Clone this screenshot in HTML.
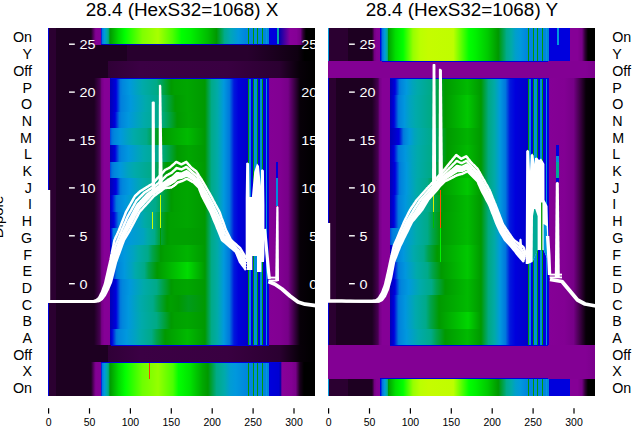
<!DOCTYPE html>
<html><head><meta charset="utf-8"><style>
html,body{margin:0;padding:0;background:#fff;width:640px;height:440px;overflow:hidden}
svg{display:block}
text{font-family:"Liberation Sans",sans-serif}
</style></head><body>
<svg width="640" height="440" viewBox="0 0 640 440" shape-rendering="crispEdges">
<defs><linearGradient id="L0" gradientUnits="userSpaceOnUse" x1="48.00" y1="0" x2="315.00" y2="0"><stop offset="0.0019" stop-color="#0000dd"/><stop offset="0.0056" stop-color="#2b0031"/><stop offset="0.0281" stop-color="#2b0031"/><stop offset="0.0318" stop-color="#1d0021"/><stop offset="0.1592" stop-color="#1d0021"/><stop offset="0.1629" stop-color="#28002e"/><stop offset="0.1742" stop-color="#6c007b"/><stop offset="0.1779" stop-color="#7d008e"/><stop offset="0.1816" stop-color="#830094"/><stop offset="0.1966" stop-color="#840095"/><stop offset="0.2004" stop-color="#0030dd"/><stop offset="0.2041" stop-color="#007edd"/><stop offset="0.2116" stop-color="#0099dd"/><stop offset="0.2191" stop-color="#00a8af"/><stop offset="0.2228" stop-color="#00aa99"/><stop offset="0.2266" stop-color="#00a87a"/><stop offset="0.2303" stop-color="#009e29"/><stop offset="0.2341" stop-color="#009d00"/><stop offset="0.2640" stop-color="#00d900"/><stop offset="0.2865" stop-color="#00fc00"/><stop offset="0.2903" stop-color="#04ff00"/><stop offset="0.3539" stop-color="#7fff00"/><stop offset="0.4101" stop-color="#a7ff00"/><stop offset="0.4139" stop-color="#a5ff00"/><stop offset="0.4663" stop-color="#4eff00"/><stop offset="0.5000" stop-color="#00ff00"/><stop offset="0.5337" stop-color="#00f000"/><stop offset="0.5974" stop-color="#00bd00"/><stop offset="0.6311" stop-color="#009900"/><stop offset="0.6536" stop-color="#00a664"/><stop offset="0.6610" stop-color="#00aa8b"/><stop offset="0.6835" stop-color="#00a6b7"/><stop offset="0.7135" stop-color="#0097dd"/><stop offset="0.7397" stop-color="#0086dd"/><stop offset="0.7472" stop-color="#0085dd"/><stop offset="0.7509" stop-color="#009900"/><stop offset="0.7547" stop-color="#0085dd"/><stop offset="0.7659" stop-color="#0085dd"/><stop offset="0.7697" stop-color="#009900"/><stop offset="0.7734" stop-color="#008bdd"/><stop offset="0.7809" stop-color="#008bdd"/><stop offset="0.7846" stop-color="#009900"/><stop offset="0.7884" stop-color="#0085dd"/><stop offset="0.7996" stop-color="#008bdd"/><stop offset="0.8034" stop-color="#009900"/><stop offset="0.8071" stop-color="#0085dd"/><stop offset="0.8146" stop-color="#0085dd"/><stop offset="0.8184" stop-color="#0099dd"/><stop offset="0.8221" stop-color="#0085dd"/><stop offset="0.8258" stop-color="#0085dd"/><stop offset="0.8296" stop-color="#0000dd"/><stop offset="0.8558" stop-color="#0000dd"/><stop offset="0.8596" stop-color="#00aaaa"/><stop offset="0.8633" stop-color="#00aaaa"/><stop offset="0.8670" stop-color="#0600a9"/><stop offset="0.9045" stop-color="#82009a"/><stop offset="0.9082" stop-color="#880099"/><stop offset="0.9307" stop-color="#850096"/><stop offset="0.9457" stop-color="#750086"/><stop offset="0.9532" stop-color="#3d0046"/><stop offset="0.9569" stop-color="#28002d"/><stop offset="0.9644" stop-color="#080009"/><stop offset="0.9682" stop-color="#000000"/><stop offset="0.9981" stop-color="#000000"/></linearGradient><linearGradient id="L1" gradientUnits="userSpaceOnUse" x1="48.00" y1="0" x2="315.00" y2="0"><stop offset="0.0019" stop-color="#0000dd"/><stop offset="0.0056" stop-color="#2b0031"/><stop offset="0.0281" stop-color="#2b0031"/><stop offset="0.0318" stop-color="#1d0021"/><stop offset="0.2940" stop-color="#1d0021"/><stop offset="0.2978" stop-color="#28002e"/><stop offset="0.7472" stop-color="#28002e"/><stop offset="0.9345" stop-color="#0f0011"/><stop offset="0.9607" stop-color="#000000"/><stop offset="0.9981" stop-color="#000000"/></linearGradient><linearGradient id="L2" gradientUnits="userSpaceOnUse" x1="48.00" y1="0" x2="315.00" y2="0"><stop offset="0.0019" stop-color="#0000dd"/><stop offset="0.0056" stop-color="#2b0031"/><stop offset="0.0281" stop-color="#2b0031"/><stop offset="0.0318" stop-color="#1d0021"/><stop offset="0.2228" stop-color="#1d0021"/><stop offset="0.2266" stop-color="#300037"/><stop offset="0.3464" stop-color="#3b0044"/><stop offset="0.6723" stop-color="#390041"/><stop offset="0.8670" stop-color="#2b0031"/><stop offset="0.9419" stop-color="#080009"/><stop offset="0.9981" stop-color="#000000"/></linearGradient><linearGradient id="L3" gradientUnits="userSpaceOnUse" x1="48.00" y1="0" x2="315.00" y2="0"><stop offset="0.0019" stop-color="#0000dd"/><stop offset="0.0056" stop-color="#2b0031"/><stop offset="0.0281" stop-color="#2b0031"/><stop offset="0.0318" stop-color="#1d0021"/><stop offset="0.1704" stop-color="#1d0021"/><stop offset="0.1742" stop-color="#200025"/><stop offset="0.1929" stop-color="#44004e"/><stop offset="0.1966" stop-color="#550061"/><stop offset="0.2004" stop-color="#710081"/><stop offset="0.2041" stop-color="#7a008b"/><stop offset="0.2116" stop-color="#850096"/><stop offset="0.2303" stop-color="#850096"/><stop offset="0.2341" stop-color="#0000b8"/><stop offset="0.2528" stop-color="#0000da"/><stop offset="0.2566" stop-color="#000edd"/><stop offset="0.2678" stop-color="#0061dd"/><stop offset="0.2715" stop-color="#0079dd"/><stop offset="0.2790" stop-color="#0086dd"/><stop offset="0.3052" stop-color="#0099dd"/><stop offset="0.3539" stop-color="#00aaaa"/><stop offset="0.4064" stop-color="#00aa87"/><stop offset="0.4588" stop-color="#009a05"/><stop offset="0.4625" stop-color="#009a00"/><stop offset="0.4738" stop-color="#00a000"/><stop offset="0.5225" stop-color="#00a600"/><stop offset="0.5861" stop-color="#009900"/><stop offset="0.5899" stop-color="#009a0b"/><stop offset="0.6124" stop-color="#00aa88"/><stop offset="0.6348" stop-color="#00aaa9"/><stop offset="0.6573" stop-color="#009adb"/><stop offset="0.6610" stop-color="#0095dd"/><stop offset="0.6798" stop-color="#0077dd"/><stop offset="0.6948" stop-color="#0022dd"/><stop offset="0.6985" stop-color="#0015dd"/><stop offset="0.7135" stop-color="#0000dc"/><stop offset="0.7472" stop-color="#0000c9"/><stop offset="0.7509" stop-color="#009900"/><stop offset="0.7547" stop-color="#0085dd"/><stop offset="0.7584" stop-color="#0085dd"/><stop offset="0.7622" stop-color="#0000dd"/><stop offset="0.7659" stop-color="#0000dd"/><stop offset="0.7697" stop-color="#009900"/><stop offset="0.7734" stop-color="#008bdd"/><stop offset="0.7809" stop-color="#008bdd"/><stop offset="0.7846" stop-color="#009900"/><stop offset="0.7884" stop-color="#0000dd"/><stop offset="0.7921" stop-color="#0000dd"/><stop offset="0.7959" stop-color="#008bdd"/><stop offset="0.7996" stop-color="#008bdd"/><stop offset="0.8034" stop-color="#009900"/><stop offset="0.8071" stop-color="#0000dd"/><stop offset="0.8146" stop-color="#0000dd"/><stop offset="0.8184" stop-color="#0099dd"/><stop offset="0.8221" stop-color="#0000dd"/><stop offset="0.8258" stop-color="#0000dd"/><stop offset="0.8296" stop-color="#840095"/><stop offset="0.8670" stop-color="#820093"/><stop offset="0.8970" stop-color="#780089"/><stop offset="0.9007" stop-color="#730084"/><stop offset="0.9419" stop-color="#0c000e"/><stop offset="0.9457" stop-color="#070008"/><stop offset="0.9981" stop-color="#000000"/></linearGradient><linearGradient id="L4" gradientUnits="userSpaceOnUse" x1="48.00" y1="0" x2="315.00" y2="0"><stop offset="0.0019" stop-color="#0000dd"/><stop offset="0.0056" stop-color="#2b0031"/><stop offset="0.0281" stop-color="#2b0031"/><stop offset="0.0318" stop-color="#1d0021"/><stop offset="0.1704" stop-color="#1d0021"/><stop offset="0.1742" stop-color="#200025"/><stop offset="0.1929" stop-color="#44004e"/><stop offset="0.1966" stop-color="#550061"/><stop offset="0.2004" stop-color="#710081"/><stop offset="0.2041" stop-color="#7a008b"/><stop offset="0.2116" stop-color="#850096"/><stop offset="0.2303" stop-color="#850096"/><stop offset="0.2341" stop-color="#0000b8"/><stop offset="0.2528" stop-color="#0000da"/><stop offset="0.2566" stop-color="#000edd"/><stop offset="0.2678" stop-color="#0061dd"/><stop offset="0.2715" stop-color="#0079dd"/><stop offset="0.2753" stop-color="#0081dd"/><stop offset="0.3090" stop-color="#0098dd"/><stop offset="0.3652" stop-color="#00aaab"/><stop offset="0.4213" stop-color="#00aa85"/><stop offset="0.4738" stop-color="#009a05"/><stop offset="0.4775" stop-color="#009a00"/><stop offset="0.5225" stop-color="#00a600"/><stop offset="0.5861" stop-color="#009900"/><stop offset="0.5899" stop-color="#009a0b"/><stop offset="0.6124" stop-color="#00aa88"/><stop offset="0.6348" stop-color="#00aaa9"/><stop offset="0.6573" stop-color="#009adb"/><stop offset="0.6610" stop-color="#0095dd"/><stop offset="0.6798" stop-color="#0077dd"/><stop offset="0.6948" stop-color="#0022dd"/><stop offset="0.6985" stop-color="#0015dd"/><stop offset="0.7135" stop-color="#0000dc"/><stop offset="0.7472" stop-color="#0000c9"/><stop offset="0.7509" stop-color="#009900"/><stop offset="0.7547" stop-color="#0085dd"/><stop offset="0.7584" stop-color="#0085dd"/><stop offset="0.7622" stop-color="#0000dd"/><stop offset="0.7659" stop-color="#0000dd"/><stop offset="0.7697" stop-color="#009900"/><stop offset="0.7734" stop-color="#008bdd"/><stop offset="0.7809" stop-color="#008bdd"/><stop offset="0.7846" stop-color="#009900"/><stop offset="0.7884" stop-color="#0000dd"/><stop offset="0.7921" stop-color="#0000dd"/><stop offset="0.7959" stop-color="#008bdd"/><stop offset="0.7996" stop-color="#008bdd"/><stop offset="0.8034" stop-color="#009900"/><stop offset="0.8071" stop-color="#0000dd"/><stop offset="0.8146" stop-color="#0000dd"/><stop offset="0.8184" stop-color="#0099dd"/><stop offset="0.8221" stop-color="#0000dd"/><stop offset="0.8258" stop-color="#0000dd"/><stop offset="0.8296" stop-color="#840095"/><stop offset="0.8670" stop-color="#820093"/><stop offset="0.8970" stop-color="#780089"/><stop offset="0.9007" stop-color="#730084"/><stop offset="0.9419" stop-color="#0c000e"/><stop offset="0.9457" stop-color="#070008"/><stop offset="0.9981" stop-color="#000000"/></linearGradient><linearGradient id="L5" gradientUnits="userSpaceOnUse" x1="48.00" y1="0" x2="315.00" y2="0"><stop offset="0.0019" stop-color="#0000dd"/><stop offset="0.0056" stop-color="#2b0031"/><stop offset="0.0281" stop-color="#2b0031"/><stop offset="0.0318" stop-color="#1d0021"/><stop offset="0.1704" stop-color="#1d0021"/><stop offset="0.1742" stop-color="#200025"/><stop offset="0.1929" stop-color="#44004e"/><stop offset="0.1966" stop-color="#550061"/><stop offset="0.2004" stop-color="#710081"/><stop offset="0.2041" stop-color="#7a008b"/><stop offset="0.2116" stop-color="#850096"/><stop offset="0.2303" stop-color="#850096"/><stop offset="0.2341" stop-color="#0000b8"/><stop offset="0.2491" stop-color="#0000d9"/><stop offset="0.2528" stop-color="#000edd"/><stop offset="0.2640" stop-color="#0061dd"/><stop offset="0.2678" stop-color="#0079dd"/><stop offset="0.2753" stop-color="#0086dd"/><stop offset="0.3015" stop-color="#0098dd"/><stop offset="0.3577" stop-color="#00aaab"/><stop offset="0.4251" stop-color="#00aa85"/><stop offset="0.4513" stop-color="#00a34d"/><stop offset="0.4813" stop-color="#009a05"/><stop offset="0.4850" stop-color="#009a00"/><stop offset="0.5262" stop-color="#00a600"/><stop offset="0.5861" stop-color="#009900"/><stop offset="0.5899" stop-color="#009a0b"/><stop offset="0.6124" stop-color="#00aa88"/><stop offset="0.6348" stop-color="#00aaa9"/><stop offset="0.6573" stop-color="#009adb"/><stop offset="0.6610" stop-color="#0095dd"/><stop offset="0.6798" stop-color="#0077dd"/><stop offset="0.6948" stop-color="#0022dd"/><stop offset="0.6985" stop-color="#0015dd"/><stop offset="0.7135" stop-color="#0000dc"/><stop offset="0.7472" stop-color="#0000c9"/><stop offset="0.7509" stop-color="#009900"/><stop offset="0.7547" stop-color="#0085dd"/><stop offset="0.7584" stop-color="#0085dd"/><stop offset="0.7622" stop-color="#0000dd"/><stop offset="0.7659" stop-color="#0000dd"/><stop offset="0.7697" stop-color="#009900"/><stop offset="0.7734" stop-color="#008bdd"/><stop offset="0.7809" stop-color="#008bdd"/><stop offset="0.7846" stop-color="#009900"/><stop offset="0.7884" stop-color="#0000dd"/><stop offset="0.7921" stop-color="#0000dd"/><stop offset="0.7959" stop-color="#008bdd"/><stop offset="0.7996" stop-color="#008bdd"/><stop offset="0.8034" stop-color="#009900"/><stop offset="0.8071" stop-color="#0000dd"/><stop offset="0.8146" stop-color="#0000dd"/><stop offset="0.8184" stop-color="#0099dd"/><stop offset="0.8221" stop-color="#0000dd"/><stop offset="0.8258" stop-color="#0000dd"/><stop offset="0.8296" stop-color="#840095"/><stop offset="0.8670" stop-color="#820093"/><stop offset="0.8970" stop-color="#780089"/><stop offset="0.9007" stop-color="#730084"/><stop offset="0.9419" stop-color="#0c000e"/><stop offset="0.9457" stop-color="#070008"/><stop offset="0.9981" stop-color="#000000"/></linearGradient><linearGradient id="L6" gradientUnits="userSpaceOnUse" x1="48.00" y1="0" x2="315.00" y2="0"><stop offset="0.0019" stop-color="#0000dd"/><stop offset="0.0056" stop-color="#2b0031"/><stop offset="0.0281" stop-color="#2b0031"/><stop offset="0.0318" stop-color="#1d0021"/><stop offset="0.1704" stop-color="#1d0021"/><stop offset="0.1742" stop-color="#200025"/><stop offset="0.1929" stop-color="#44004e"/><stop offset="0.1966" stop-color="#550061"/><stop offset="0.2004" stop-color="#710081"/><stop offset="0.2041" stop-color="#7a008b"/><stop offset="0.2116" stop-color="#850096"/><stop offset="0.2303" stop-color="#850096"/><stop offset="0.2341" stop-color="#0053dd"/><stop offset="0.2378" stop-color="#006bdd"/><stop offset="0.2416" stop-color="#007add"/><stop offset="0.2491" stop-color="#0086dd"/><stop offset="0.2715" stop-color="#0098dd"/><stop offset="0.3202" stop-color="#00aaaa"/><stop offset="0.3689" stop-color="#00aa88"/><stop offset="0.3914" stop-color="#00a34d"/><stop offset="0.4213" stop-color="#009a05"/><stop offset="0.4251" stop-color="#009a00"/><stop offset="0.5225" stop-color="#00ba00"/><stop offset="0.5861" stop-color="#009a00"/><stop offset="0.5899" stop-color="#009a0b"/><stop offset="0.6124" stop-color="#00aa88"/><stop offset="0.6348" stop-color="#00aaa9"/><stop offset="0.6573" stop-color="#009adb"/><stop offset="0.6610" stop-color="#0095dd"/><stop offset="0.6798" stop-color="#0077dd"/><stop offset="0.6948" stop-color="#0022dd"/><stop offset="0.6985" stop-color="#0015dd"/><stop offset="0.7135" stop-color="#0000dc"/><stop offset="0.7472" stop-color="#0000c9"/><stop offset="0.7509" stop-color="#009900"/><stop offset="0.7547" stop-color="#0085dd"/><stop offset="0.7584" stop-color="#0085dd"/><stop offset="0.7622" stop-color="#0000dd"/><stop offset="0.7659" stop-color="#0000dd"/><stop offset="0.7697" stop-color="#009900"/><stop offset="0.7734" stop-color="#008bdd"/><stop offset="0.7809" stop-color="#008bdd"/><stop offset="0.7846" stop-color="#009900"/><stop offset="0.7884" stop-color="#0000dd"/><stop offset="0.7921" stop-color="#0000dd"/><stop offset="0.7959" stop-color="#008bdd"/><stop offset="0.7996" stop-color="#008bdd"/><stop offset="0.8034" stop-color="#009900"/><stop offset="0.8071" stop-color="#0000dd"/><stop offset="0.8146" stop-color="#0000dd"/><stop offset="0.8184" stop-color="#0099dd"/><stop offset="0.8221" stop-color="#0000dd"/><stop offset="0.8258" stop-color="#0000dd"/><stop offset="0.8296" stop-color="#840095"/><stop offset="0.8670" stop-color="#820093"/><stop offset="0.8970" stop-color="#780089"/><stop offset="0.9007" stop-color="#730084"/><stop offset="0.9419" stop-color="#0c000e"/><stop offset="0.9457" stop-color="#070008"/><stop offset="0.9981" stop-color="#000000"/></linearGradient><linearGradient id="L7" gradientUnits="userSpaceOnUse" x1="48.00" y1="0" x2="315.00" y2="0"><stop offset="0.0019" stop-color="#0000dd"/><stop offset="0.0056" stop-color="#2b0031"/><stop offset="0.0281" stop-color="#2b0031"/><stop offset="0.0318" stop-color="#1d0021"/><stop offset="0.1704" stop-color="#1d0021"/><stop offset="0.1742" stop-color="#200025"/><stop offset="0.1929" stop-color="#44004e"/><stop offset="0.1966" stop-color="#550061"/><stop offset="0.2004" stop-color="#710081"/><stop offset="0.2041" stop-color="#7a008b"/><stop offset="0.2116" stop-color="#850096"/><stop offset="0.2303" stop-color="#850096"/><stop offset="0.2341" stop-color="#0000b8"/><stop offset="0.2491" stop-color="#0000d9"/><stop offset="0.2528" stop-color="#000edd"/><stop offset="0.2640" stop-color="#0061dd"/><stop offset="0.2678" stop-color="#0079dd"/><stop offset="0.2753" stop-color="#0086dd"/><stop offset="0.3015" stop-color="#0098dd"/><stop offset="0.3577" stop-color="#00aaab"/><stop offset="0.4251" stop-color="#00aa85"/><stop offset="0.4513" stop-color="#00a34d"/><stop offset="0.4813" stop-color="#009a05"/><stop offset="0.4850" stop-color="#009a00"/><stop offset="0.5262" stop-color="#00a600"/><stop offset="0.5861" stop-color="#009900"/><stop offset="0.5899" stop-color="#009a0b"/><stop offset="0.6124" stop-color="#00aa88"/><stop offset="0.6348" stop-color="#00aaa9"/><stop offset="0.6573" stop-color="#009adb"/><stop offset="0.6610" stop-color="#0095dd"/><stop offset="0.6798" stop-color="#0077dd"/><stop offset="0.6948" stop-color="#0022dd"/><stop offset="0.6985" stop-color="#0015dd"/><stop offset="0.7135" stop-color="#0000dc"/><stop offset="0.7472" stop-color="#0000c9"/><stop offset="0.7509" stop-color="#009900"/><stop offset="0.7547" stop-color="#0085dd"/><stop offset="0.7584" stop-color="#0085dd"/><stop offset="0.7622" stop-color="#0000dd"/><stop offset="0.7659" stop-color="#0000dd"/><stop offset="0.7697" stop-color="#009900"/><stop offset="0.7734" stop-color="#008bdd"/><stop offset="0.7809" stop-color="#008bdd"/><stop offset="0.7846" stop-color="#009900"/><stop offset="0.7884" stop-color="#0000dd"/><stop offset="0.7921" stop-color="#0000dd"/><stop offset="0.7959" stop-color="#008bdd"/><stop offset="0.7996" stop-color="#008bdd"/><stop offset="0.8034" stop-color="#009900"/><stop offset="0.8071" stop-color="#0000dd"/><stop offset="0.8146" stop-color="#0000dd"/><stop offset="0.8184" stop-color="#0099dd"/><stop offset="0.8221" stop-color="#0000dd"/><stop offset="0.8258" stop-color="#0000dd"/><stop offset="0.8296" stop-color="#840095"/><stop offset="0.8670" stop-color="#820093"/><stop offset="0.8970" stop-color="#780089"/><stop offset="0.9007" stop-color="#730084"/><stop offset="0.9419" stop-color="#0c000e"/><stop offset="0.9457" stop-color="#070008"/><stop offset="0.9981" stop-color="#000000"/></linearGradient><linearGradient id="L8" gradientUnits="userSpaceOnUse" x1="48.00" y1="0" x2="315.00" y2="0"><stop offset="0.0019" stop-color="#0000dd"/><stop offset="0.0056" stop-color="#2b0031"/><stop offset="0.0281" stop-color="#2b0031"/><stop offset="0.0318" stop-color="#1d0021"/><stop offset="0.1704" stop-color="#1d0021"/><stop offset="0.1742" stop-color="#200025"/><stop offset="0.1929" stop-color="#44004e"/><stop offset="0.1966" stop-color="#550061"/><stop offset="0.2004" stop-color="#710081"/><stop offset="0.2041" stop-color="#7a008b"/><stop offset="0.2116" stop-color="#850096"/><stop offset="0.2303" stop-color="#850096"/><stop offset="0.2341" stop-color="#0053dd"/><stop offset="0.2378" stop-color="#006bdd"/><stop offset="0.2416" stop-color="#007add"/><stop offset="0.2491" stop-color="#0086dd"/><stop offset="0.2715" stop-color="#0098dd"/><stop offset="0.3015" stop-color="#00a4bd"/><stop offset="0.3240" stop-color="#00aaab"/><stop offset="0.3876" stop-color="#00aa87"/><stop offset="0.4139" stop-color="#00a34d"/><stop offset="0.4438" stop-color="#009a05"/><stop offset="0.4476" stop-color="#009a00"/><stop offset="0.4588" stop-color="#00a000"/><stop offset="0.5225" stop-color="#00ad00"/><stop offset="0.5861" stop-color="#009a00"/><stop offset="0.5899" stop-color="#009a0b"/><stop offset="0.6124" stop-color="#00aa88"/><stop offset="0.6348" stop-color="#00aaa9"/><stop offset="0.6573" stop-color="#009adb"/><stop offset="0.6610" stop-color="#0095dd"/><stop offset="0.6798" stop-color="#0077dd"/><stop offset="0.6948" stop-color="#0022dd"/><stop offset="0.6985" stop-color="#0015dd"/><stop offset="0.7135" stop-color="#0000dc"/><stop offset="0.7472" stop-color="#0000c9"/><stop offset="0.7509" stop-color="#009900"/><stop offset="0.7547" stop-color="#0085dd"/><stop offset="0.7584" stop-color="#0085dd"/><stop offset="0.7622" stop-color="#0000dd"/><stop offset="0.7659" stop-color="#0000dd"/><stop offset="0.7697" stop-color="#009900"/><stop offset="0.7734" stop-color="#008bdd"/><stop offset="0.7809" stop-color="#008bdd"/><stop offset="0.7846" stop-color="#009900"/><stop offset="0.7884" stop-color="#0000dd"/><stop offset="0.7921" stop-color="#0000dd"/><stop offset="0.7959" stop-color="#008bdd"/><stop offset="0.7996" stop-color="#008bdd"/><stop offset="0.8034" stop-color="#009900"/><stop offset="0.8071" stop-color="#0000dd"/><stop offset="0.8146" stop-color="#0000dd"/><stop offset="0.8184" stop-color="#0099dd"/><stop offset="0.8221" stop-color="#0000dd"/><stop offset="0.8258" stop-color="#0000dd"/><stop offset="0.8296" stop-color="#840095"/><stop offset="0.8670" stop-color="#820093"/><stop offset="0.8970" stop-color="#780089"/><stop offset="0.9007" stop-color="#730084"/><stop offset="0.9419" stop-color="#0c000e"/><stop offset="0.9457" stop-color="#070008"/><stop offset="0.9981" stop-color="#000000"/></linearGradient><linearGradient id="L9" gradientUnits="userSpaceOnUse" x1="48.00" y1="0" x2="315.00" y2="0"><stop offset="0.0019" stop-color="#0000dd"/><stop offset="0.0056" stop-color="#2b0031"/><stop offset="0.0281" stop-color="#2b0031"/><stop offset="0.0318" stop-color="#1d0021"/><stop offset="0.1704" stop-color="#1d0021"/><stop offset="0.1742" stop-color="#200025"/><stop offset="0.1929" stop-color="#44004e"/><stop offset="0.1966" stop-color="#550061"/><stop offset="0.2004" stop-color="#710081"/><stop offset="0.2041" stop-color="#7a008b"/><stop offset="0.2116" stop-color="#850096"/><stop offset="0.2303" stop-color="#850096"/><stop offset="0.2341" stop-color="#0000b8"/><stop offset="0.2528" stop-color="#0000da"/><stop offset="0.2566" stop-color="#000edd"/><stop offset="0.2678" stop-color="#0061dd"/><stop offset="0.2715" stop-color="#0079dd"/><stop offset="0.2790" stop-color="#0086dd"/><stop offset="0.3052" stop-color="#0099dd"/><stop offset="0.3539" stop-color="#00aaaa"/><stop offset="0.4064" stop-color="#00aa87"/><stop offset="0.4588" stop-color="#009a05"/><stop offset="0.4625" stop-color="#009a00"/><stop offset="0.4738" stop-color="#00a000"/><stop offset="0.5225" stop-color="#00a600"/><stop offset="0.5861" stop-color="#009900"/><stop offset="0.5899" stop-color="#009a0b"/><stop offset="0.6124" stop-color="#00aa88"/><stop offset="0.6348" stop-color="#00aaa9"/><stop offset="0.6573" stop-color="#009adb"/><stop offset="0.6610" stop-color="#0095dd"/><stop offset="0.6798" stop-color="#0077dd"/><stop offset="0.6948" stop-color="#0022dd"/><stop offset="0.6985" stop-color="#0015dd"/><stop offset="0.7135" stop-color="#0000dc"/><stop offset="0.7472" stop-color="#0000c9"/><stop offset="0.7509" stop-color="#009900"/><stop offset="0.7547" stop-color="#0085dd"/><stop offset="0.7584" stop-color="#0085dd"/><stop offset="0.7622" stop-color="#0000dd"/><stop offset="0.7659" stop-color="#0000dd"/><stop offset="0.7697" stop-color="#009900"/><stop offset="0.7734" stop-color="#008bdd"/><stop offset="0.7809" stop-color="#008bdd"/><stop offset="0.7846" stop-color="#009900"/><stop offset="0.7884" stop-color="#0000dd"/><stop offset="0.7921" stop-color="#0000dd"/><stop offset="0.7959" stop-color="#008bdd"/><stop offset="0.7996" stop-color="#008bdd"/><stop offset="0.8034" stop-color="#009900"/><stop offset="0.8071" stop-color="#0000dd"/><stop offset="0.8146" stop-color="#0000dd"/><stop offset="0.8184" stop-color="#0099dd"/><stop offset="0.8221" stop-color="#0000dd"/><stop offset="0.8258" stop-color="#0000dd"/><stop offset="0.8296" stop-color="#840095"/><stop offset="0.8670" stop-color="#820093"/><stop offset="0.8970" stop-color="#780089"/><stop offset="0.9007" stop-color="#730084"/><stop offset="0.9419" stop-color="#0c000e"/><stop offset="0.9457" stop-color="#070008"/><stop offset="0.9981" stop-color="#000000"/></linearGradient><linearGradient id="L10" gradientUnits="userSpaceOnUse" x1="48.00" y1="0" x2="315.00" y2="0"><stop offset="0.0019" stop-color="#0000dd"/><stop offset="0.0056" stop-color="#2b0031"/><stop offset="0.0281" stop-color="#2b0031"/><stop offset="0.0318" stop-color="#1d0021"/><stop offset="0.1704" stop-color="#1d0021"/><stop offset="0.1742" stop-color="#200025"/><stop offset="0.1929" stop-color="#44004e"/><stop offset="0.1966" stop-color="#550061"/><stop offset="0.2004" stop-color="#710081"/><stop offset="0.2041" stop-color="#7a008b"/><stop offset="0.2116" stop-color="#850096"/><stop offset="0.2303" stop-color="#850096"/><stop offset="0.2341" stop-color="#0000be"/><stop offset="0.2378" stop-color="#0000d3"/><stop offset="0.2416" stop-color="#000edd"/><stop offset="0.2528" stop-color="#0061dd"/><stop offset="0.2566" stop-color="#0079dd"/><stop offset="0.2640" stop-color="#0086dd"/><stop offset="0.2903" stop-color="#0098dd"/><stop offset="0.3464" stop-color="#00aaa9"/><stop offset="0.4026" stop-color="#00aa89"/><stop offset="0.4588" stop-color="#009a05"/><stop offset="0.4625" stop-color="#009a00"/><stop offset="0.4738" stop-color="#00a000"/><stop offset="0.5225" stop-color="#00a600"/><stop offset="0.5861" stop-color="#009900"/><stop offset="0.5899" stop-color="#009a0b"/><stop offset="0.6124" stop-color="#00aa88"/><stop offset="0.6348" stop-color="#00aaa9"/><stop offset="0.6573" stop-color="#009adb"/><stop offset="0.6610" stop-color="#0095dd"/><stop offset="0.6798" stop-color="#0077dd"/><stop offset="0.6948" stop-color="#0022dd"/><stop offset="0.6985" stop-color="#0015dd"/><stop offset="0.7135" stop-color="#0000dc"/><stop offset="0.7472" stop-color="#0000c9"/><stop offset="0.7509" stop-color="#009900"/><stop offset="0.7547" stop-color="#0085dd"/><stop offset="0.7584" stop-color="#0085dd"/><stop offset="0.7622" stop-color="#0000dd"/><stop offset="0.7659" stop-color="#0000dd"/><stop offset="0.7697" stop-color="#009900"/><stop offset="0.7734" stop-color="#008bdd"/><stop offset="0.7809" stop-color="#008bdd"/><stop offset="0.7846" stop-color="#009900"/><stop offset="0.7884" stop-color="#0000dd"/><stop offset="0.7921" stop-color="#0000dd"/><stop offset="0.7959" stop-color="#008bdd"/><stop offset="0.7996" stop-color="#008bdd"/><stop offset="0.8034" stop-color="#009900"/><stop offset="0.8071" stop-color="#0000dd"/><stop offset="0.8146" stop-color="#0000dd"/><stop offset="0.8184" stop-color="#0099dd"/><stop offset="0.8221" stop-color="#0000dd"/><stop offset="0.8258" stop-color="#0000dd"/><stop offset="0.8296" stop-color="#840095"/><stop offset="0.8670" stop-color="#820093"/><stop offset="0.8970" stop-color="#780089"/><stop offset="0.9007" stop-color="#730084"/><stop offset="0.9419" stop-color="#0c000e"/><stop offset="0.9457" stop-color="#070008"/><stop offset="0.9981" stop-color="#000000"/></linearGradient><linearGradient id="L11" gradientUnits="userSpaceOnUse" x1="48.00" y1="0" x2="315.00" y2="0"><stop offset="0.0019" stop-color="#0000dd"/><stop offset="0.0056" stop-color="#2b0031"/><stop offset="0.0281" stop-color="#2b0031"/><stop offset="0.0318" stop-color="#1d0021"/><stop offset="0.1704" stop-color="#1d0021"/><stop offset="0.1742" stop-color="#200025"/><stop offset="0.1929" stop-color="#44004e"/><stop offset="0.1966" stop-color="#550061"/><stop offset="0.2004" stop-color="#710081"/><stop offset="0.2041" stop-color="#7a008b"/><stop offset="0.2116" stop-color="#850096"/><stop offset="0.2303" stop-color="#850096"/><stop offset="0.2341" stop-color="#0000b9"/><stop offset="0.2453" stop-color="#0000d8"/><stop offset="0.2491" stop-color="#000edd"/><stop offset="0.2603" stop-color="#0061dd"/><stop offset="0.2640" stop-color="#0079dd"/><stop offset="0.2715" stop-color="#0086dd"/><stop offset="0.3052" stop-color="#0098dd"/><stop offset="0.3427" stop-color="#00a3c0"/><stop offset="0.3614" stop-color="#00aaa8"/><stop offset="0.3951" stop-color="#00aa8a"/><stop offset="0.3989" stop-color="#00a981"/><stop offset="0.4139" stop-color="#00a34d"/><stop offset="0.4438" stop-color="#009a05"/><stop offset="0.4476" stop-color="#009a00"/><stop offset="0.4588" stop-color="#00a000"/><stop offset="0.5225" stop-color="#00a600"/><stop offset="0.5861" stop-color="#009900"/><stop offset="0.5899" stop-color="#009a0b"/><stop offset="0.6124" stop-color="#00aa88"/><stop offset="0.6348" stop-color="#00aaa9"/><stop offset="0.6573" stop-color="#009adb"/><stop offset="0.6610" stop-color="#0095dd"/><stop offset="0.6798" stop-color="#0077dd"/><stop offset="0.6948" stop-color="#0022dd"/><stop offset="0.6985" stop-color="#0015dd"/><stop offset="0.7135" stop-color="#0000dc"/><stop offset="0.7472" stop-color="#0000c9"/><stop offset="0.7509" stop-color="#009900"/><stop offset="0.7547" stop-color="#0085dd"/><stop offset="0.7584" stop-color="#0085dd"/><stop offset="0.7622" stop-color="#0000dd"/><stop offset="0.7659" stop-color="#0000dd"/><stop offset="0.7697" stop-color="#009900"/><stop offset="0.7734" stop-color="#008bdd"/><stop offset="0.7809" stop-color="#008bdd"/><stop offset="0.7846" stop-color="#009900"/><stop offset="0.7884" stop-color="#0000dd"/><stop offset="0.7921" stop-color="#0000dd"/><stop offset="0.7959" stop-color="#008bdd"/><stop offset="0.7996" stop-color="#008bdd"/><stop offset="0.8034" stop-color="#009900"/><stop offset="0.8071" stop-color="#0000dd"/><stop offset="0.8146" stop-color="#0000dd"/><stop offset="0.8184" stop-color="#0099dd"/><stop offset="0.8221" stop-color="#0000dd"/><stop offset="0.8258" stop-color="#0000dd"/><stop offset="0.8296" stop-color="#840095"/><stop offset="0.8670" stop-color="#820093"/><stop offset="0.8970" stop-color="#780089"/><stop offset="0.9007" stop-color="#730084"/><stop offset="0.9419" stop-color="#0c000e"/><stop offset="0.9457" stop-color="#070008"/><stop offset="0.9981" stop-color="#000000"/></linearGradient><linearGradient id="L12" gradientUnits="userSpaceOnUse" x1="48.00" y1="0" x2="315.00" y2="0"><stop offset="0.0019" stop-color="#0000dd"/><stop offset="0.0056" stop-color="#2b0031"/><stop offset="0.0281" stop-color="#2b0031"/><stop offset="0.0318" stop-color="#1d0021"/><stop offset="0.1704" stop-color="#1d0021"/><stop offset="0.1742" stop-color="#200025"/><stop offset="0.1929" stop-color="#44004e"/><stop offset="0.1966" stop-color="#550061"/><stop offset="0.2004" stop-color="#710081"/><stop offset="0.2041" stop-color="#7a008b"/><stop offset="0.2116" stop-color="#850096"/><stop offset="0.2303" stop-color="#850096"/><stop offset="0.2341" stop-color="#0000c9"/><stop offset="0.2378" stop-color="#001cdd"/><stop offset="0.2416" stop-color="#0053dd"/><stop offset="0.2453" stop-color="#007ddd"/><stop offset="0.2491" stop-color="#0085dd"/><stop offset="0.3015" stop-color="#0098dd"/><stop offset="0.3577" stop-color="#00a3bf"/><stop offset="0.3727" stop-color="#00aaa8"/><stop offset="0.3989" stop-color="#00aa8a"/><stop offset="0.4139" stop-color="#00a34d"/><stop offset="0.4438" stop-color="#009a05"/><stop offset="0.4476" stop-color="#009a00"/><stop offset="0.4588" stop-color="#00a000"/><stop offset="0.5225" stop-color="#00a000"/><stop offset="0.5861" stop-color="#009900"/><stop offset="0.5899" stop-color="#009a0b"/><stop offset="0.6124" stop-color="#00aa88"/><stop offset="0.6348" stop-color="#00aaa9"/><stop offset="0.6573" stop-color="#009adb"/><stop offset="0.6610" stop-color="#0095dd"/><stop offset="0.6798" stop-color="#0077dd"/><stop offset="0.6948" stop-color="#0022dd"/><stop offset="0.6985" stop-color="#0015dd"/><stop offset="0.7135" stop-color="#0000dc"/><stop offset="0.7472" stop-color="#0000c9"/><stop offset="0.7509" stop-color="#009900"/><stop offset="0.7547" stop-color="#0085dd"/><stop offset="0.7584" stop-color="#0085dd"/><stop offset="0.7622" stop-color="#0000dd"/><stop offset="0.7659" stop-color="#0000dd"/><stop offset="0.7697" stop-color="#009900"/><stop offset="0.7734" stop-color="#008bdd"/><stop offset="0.7809" stop-color="#008bdd"/><stop offset="0.7846" stop-color="#009900"/><stop offset="0.7884" stop-color="#0000dd"/><stop offset="0.7921" stop-color="#0000dd"/><stop offset="0.7959" stop-color="#008bdd"/><stop offset="0.7996" stop-color="#008bdd"/><stop offset="0.8034" stop-color="#009900"/><stop offset="0.8071" stop-color="#0000dd"/><stop offset="0.8146" stop-color="#0000dd"/><stop offset="0.8184" stop-color="#0099dd"/><stop offset="0.8221" stop-color="#0000dd"/><stop offset="0.8258" stop-color="#0000dd"/><stop offset="0.8296" stop-color="#840095"/><stop offset="0.8670" stop-color="#820093"/><stop offset="0.8970" stop-color="#780089"/><stop offset="0.9007" stop-color="#730084"/><stop offset="0.9419" stop-color="#0c000e"/><stop offset="0.9457" stop-color="#070008"/><stop offset="0.9981" stop-color="#000000"/></linearGradient><linearGradient id="L13" gradientUnits="userSpaceOnUse" x1="48.00" y1="0" x2="315.00" y2="0"><stop offset="0.0019" stop-color="#0000dd"/><stop offset="0.0056" stop-color="#2b0031"/><stop offset="0.0281" stop-color="#2b0031"/><stop offset="0.0318" stop-color="#1d0021"/><stop offset="0.1704" stop-color="#1d0021"/><stop offset="0.1742" stop-color="#200025"/><stop offset="0.1929" stop-color="#44004e"/><stop offset="0.1966" stop-color="#550061"/><stop offset="0.2004" stop-color="#710081"/><stop offset="0.2041" stop-color="#7a008b"/><stop offset="0.2116" stop-color="#850096"/><stop offset="0.2303" stop-color="#850096"/><stop offset="0.2341" stop-color="#0000c9"/><stop offset="0.2378" stop-color="#0011dd"/><stop offset="0.2491" stop-color="#0075dd"/><stop offset="0.2528" stop-color="#0080dd"/><stop offset="0.2566" stop-color="#0086dd"/><stop offset="0.2865" stop-color="#0098dd"/><stop offset="0.3202" stop-color="#00a3c0"/><stop offset="0.3390" stop-color="#00aaa8"/><stop offset="0.3727" stop-color="#00aa8a"/><stop offset="0.3764" stop-color="#00a981"/><stop offset="0.3914" stop-color="#00a34d"/><stop offset="0.4213" stop-color="#009a05"/><stop offset="0.4251" stop-color="#009a00"/><stop offset="0.4363" stop-color="#00a000"/><stop offset="0.5225" stop-color="#00b400"/><stop offset="0.5861" stop-color="#009a00"/><stop offset="0.5899" stop-color="#009a0b"/><stop offset="0.6124" stop-color="#00aa88"/><stop offset="0.6348" stop-color="#00aaa9"/><stop offset="0.6573" stop-color="#009adb"/><stop offset="0.6610" stop-color="#0095dd"/><stop offset="0.6798" stop-color="#0077dd"/><stop offset="0.6948" stop-color="#0022dd"/><stop offset="0.6985" stop-color="#0015dd"/><stop offset="0.7135" stop-color="#0000dc"/><stop offset="0.7472" stop-color="#0000c9"/><stop offset="0.7509" stop-color="#009900"/><stop offset="0.7547" stop-color="#0085dd"/><stop offset="0.7584" stop-color="#0085dd"/><stop offset="0.7622" stop-color="#0000dd"/><stop offset="0.7659" stop-color="#0000dd"/><stop offset="0.7697" stop-color="#009900"/><stop offset="0.7734" stop-color="#008bdd"/><stop offset="0.7809" stop-color="#008bdd"/><stop offset="0.7846" stop-color="#009900"/><stop offset="0.7884" stop-color="#0000dd"/><stop offset="0.7921" stop-color="#0000dd"/><stop offset="0.7959" stop-color="#008bdd"/><stop offset="0.7996" stop-color="#008bdd"/><stop offset="0.8034" stop-color="#009900"/><stop offset="0.8071" stop-color="#0000dd"/><stop offset="0.8146" stop-color="#0000dd"/><stop offset="0.8184" stop-color="#0099dd"/><stop offset="0.8221" stop-color="#0000dd"/><stop offset="0.8258" stop-color="#0000dd"/><stop offset="0.8296" stop-color="#840095"/><stop offset="0.8670" stop-color="#820093"/><stop offset="0.8970" stop-color="#780089"/><stop offset="0.9007" stop-color="#730084"/><stop offset="0.9419" stop-color="#0c000e"/><stop offset="0.9457" stop-color="#070008"/><stop offset="0.9981" stop-color="#000000"/></linearGradient><linearGradient id="L14" gradientUnits="userSpaceOnUse" x1="48.00" y1="0" x2="315.00" y2="0"><stop offset="0.0019" stop-color="#0000dd"/><stop offset="0.0056" stop-color="#2b0031"/><stop offset="0.0281" stop-color="#2b0031"/><stop offset="0.0318" stop-color="#1d0021"/><stop offset="0.1704" stop-color="#1d0021"/><stop offset="0.1742" stop-color="#200025"/><stop offset="0.1929" stop-color="#44004e"/><stop offset="0.1966" stop-color="#550061"/><stop offset="0.2004" stop-color="#710081"/><stop offset="0.2041" stop-color="#7a008b"/><stop offset="0.2116" stop-color="#850096"/><stop offset="0.2303" stop-color="#850096"/><stop offset="0.2341" stop-color="#0000be"/><stop offset="0.2378" stop-color="#0000d3"/><stop offset="0.2416" stop-color="#000edd"/><stop offset="0.2528" stop-color="#0061dd"/><stop offset="0.2566" stop-color="#0079dd"/><stop offset="0.2640" stop-color="#0086dd"/><stop offset="0.2865" stop-color="#0098dd"/><stop offset="0.3127" stop-color="#00a2c1"/><stop offset="0.3277" stop-color="#00aaaa"/><stop offset="0.3614" stop-color="#00aa87"/><stop offset="0.3764" stop-color="#00a34d"/><stop offset="0.4064" stop-color="#009a05"/><stop offset="0.4101" stop-color="#009a00"/><stop offset="0.5225" stop-color="#00dc00"/><stop offset="0.5861" stop-color="#009b00"/><stop offset="0.5899" stop-color="#009a0b"/><stop offset="0.6124" stop-color="#00aa88"/><stop offset="0.6348" stop-color="#00aaa9"/><stop offset="0.6573" stop-color="#009adb"/><stop offset="0.6610" stop-color="#0095dd"/><stop offset="0.6798" stop-color="#0077dd"/><stop offset="0.6948" stop-color="#0022dd"/><stop offset="0.6985" stop-color="#0015dd"/><stop offset="0.7135" stop-color="#0000dc"/><stop offset="0.7472" stop-color="#0000c9"/><stop offset="0.7509" stop-color="#009900"/><stop offset="0.7547" stop-color="#0085dd"/><stop offset="0.7584" stop-color="#0085dd"/><stop offset="0.7622" stop-color="#0000dd"/><stop offset="0.7659" stop-color="#0000dd"/><stop offset="0.7697" stop-color="#009900"/><stop offset="0.7734" stop-color="#008bdd"/><stop offset="0.7809" stop-color="#008bdd"/><stop offset="0.7846" stop-color="#009900"/><stop offset="0.7884" stop-color="#0000dd"/><stop offset="0.7921" stop-color="#0000dd"/><stop offset="0.7959" stop-color="#008bdd"/><stop offset="0.7996" stop-color="#008bdd"/><stop offset="0.8034" stop-color="#009900"/><stop offset="0.8071" stop-color="#0000dd"/><stop offset="0.8146" stop-color="#0000dd"/><stop offset="0.8184" stop-color="#0099dd"/><stop offset="0.8221" stop-color="#0000dd"/><stop offset="0.8258" stop-color="#0000dd"/><stop offset="0.8296" stop-color="#840095"/><stop offset="0.8670" stop-color="#820093"/><stop offset="0.8970" stop-color="#780089"/><stop offset="0.9007" stop-color="#730084"/><stop offset="0.9419" stop-color="#0c000e"/><stop offset="0.9457" stop-color="#070008"/><stop offset="0.9981" stop-color="#000000"/></linearGradient><linearGradient id="L15" gradientUnits="userSpaceOnUse" x1="48.00" y1="0" x2="315.00" y2="0"><stop offset="0.0019" stop-color="#0000dd"/><stop offset="0.0056" stop-color="#2b0031"/><stop offset="0.0281" stop-color="#2b0031"/><stop offset="0.0318" stop-color="#1d0021"/><stop offset="0.1704" stop-color="#1d0021"/><stop offset="0.1742" stop-color="#200025"/><stop offset="0.1929" stop-color="#44004e"/><stop offset="0.1966" stop-color="#550061"/><stop offset="0.2004" stop-color="#710081"/><stop offset="0.2041" stop-color="#7a008b"/><stop offset="0.2116" stop-color="#850096"/><stop offset="0.2303" stop-color="#850096"/><stop offset="0.2341" stop-color="#0000b8"/><stop offset="0.2528" stop-color="#0000da"/><stop offset="0.2566" stop-color="#000edd"/><stop offset="0.2678" stop-color="#0061dd"/><stop offset="0.2715" stop-color="#0079dd"/><stop offset="0.2790" stop-color="#0086dd"/><stop offset="0.3052" stop-color="#0098dd"/><stop offset="0.3577" stop-color="#00aaaa"/><stop offset="0.4064" stop-color="#00aa88"/><stop offset="0.4288" stop-color="#00a34d"/><stop offset="0.4588" stop-color="#009a05"/><stop offset="0.4625" stop-color="#009a00"/><stop offset="0.4738" stop-color="#00a000"/><stop offset="0.5225" stop-color="#00a600"/><stop offset="0.5861" stop-color="#009900"/><stop offset="0.5899" stop-color="#009a0b"/><stop offset="0.6124" stop-color="#00aa88"/><stop offset="0.6348" stop-color="#00aaa9"/><stop offset="0.6573" stop-color="#009adb"/><stop offset="0.6610" stop-color="#0095dd"/><stop offset="0.6798" stop-color="#0077dd"/><stop offset="0.6948" stop-color="#0022dd"/><stop offset="0.6985" stop-color="#0015dd"/><stop offset="0.7135" stop-color="#0000dc"/><stop offset="0.7472" stop-color="#0000c9"/><stop offset="0.7509" stop-color="#009900"/><stop offset="0.7547" stop-color="#0085dd"/><stop offset="0.7584" stop-color="#0085dd"/><stop offset="0.7622" stop-color="#0000dd"/><stop offset="0.7659" stop-color="#0000dd"/><stop offset="0.7697" stop-color="#009900"/><stop offset="0.7734" stop-color="#008bdd"/><stop offset="0.7809" stop-color="#008bdd"/><stop offset="0.7846" stop-color="#009900"/><stop offset="0.7884" stop-color="#0000dd"/><stop offset="0.7921" stop-color="#0000dd"/><stop offset="0.7959" stop-color="#008bdd"/><stop offset="0.7996" stop-color="#008bdd"/><stop offset="0.8034" stop-color="#009900"/><stop offset="0.8071" stop-color="#0000dd"/><stop offset="0.8146" stop-color="#0000dd"/><stop offset="0.8184" stop-color="#0099dd"/><stop offset="0.8221" stop-color="#0000dd"/><stop offset="0.8258" stop-color="#0000dd"/><stop offset="0.8296" stop-color="#840095"/><stop offset="0.8670" stop-color="#820093"/><stop offset="0.8970" stop-color="#780089"/><stop offset="0.9007" stop-color="#730084"/><stop offset="0.9419" stop-color="#0c000e"/><stop offset="0.9457" stop-color="#070008"/><stop offset="0.9981" stop-color="#000000"/></linearGradient><linearGradient id="L16" gradientUnits="userSpaceOnUse" x1="48.00" y1="0" x2="315.00" y2="0"><stop offset="0.0019" stop-color="#0000dd"/><stop offset="0.0056" stop-color="#2b0031"/><stop offset="0.0281" stop-color="#2b0031"/><stop offset="0.0318" stop-color="#1d0021"/><stop offset="0.1704" stop-color="#1d0021"/><stop offset="0.1742" stop-color="#200025"/><stop offset="0.1929" stop-color="#44004e"/><stop offset="0.1966" stop-color="#550061"/><stop offset="0.2004" stop-color="#710081"/><stop offset="0.2041" stop-color="#7a008b"/><stop offset="0.2116" stop-color="#850096"/><stop offset="0.2303" stop-color="#850096"/><stop offset="0.2341" stop-color="#0000b8"/><stop offset="0.2528" stop-color="#0000da"/><stop offset="0.2566" stop-color="#000edd"/><stop offset="0.2678" stop-color="#0061dd"/><stop offset="0.2715" stop-color="#0079dd"/><stop offset="0.2790" stop-color="#0086dd"/><stop offset="0.3015" stop-color="#0098dd"/><stop offset="0.3464" stop-color="#00a9ac"/><stop offset="0.3914" stop-color="#00aa8a"/><stop offset="0.3951" stop-color="#00a984"/><stop offset="0.4139" stop-color="#00a34d"/><stop offset="0.4438" stop-color="#009a05"/><stop offset="0.4476" stop-color="#009a00"/><stop offset="0.4588" stop-color="#009f00"/><stop offset="0.4888" stop-color="#009900"/><stop offset="0.5262" stop-color="#009c1a"/><stop offset="0.5861" stop-color="#009901"/><stop offset="0.5899" stop-color="#009a0b"/><stop offset="0.6124" stop-color="#00aa88"/><stop offset="0.6348" stop-color="#00aaa9"/><stop offset="0.6573" stop-color="#009adb"/><stop offset="0.6610" stop-color="#0095dd"/><stop offset="0.6798" stop-color="#0077dd"/><stop offset="0.6948" stop-color="#0022dd"/><stop offset="0.6985" stop-color="#0015dd"/><stop offset="0.7135" stop-color="#0000dc"/><stop offset="0.7472" stop-color="#0000c9"/><stop offset="0.7509" stop-color="#009900"/><stop offset="0.7547" stop-color="#0085dd"/><stop offset="0.7584" stop-color="#0085dd"/><stop offset="0.7622" stop-color="#0000dd"/><stop offset="0.7659" stop-color="#0000dd"/><stop offset="0.7697" stop-color="#009900"/><stop offset="0.7734" stop-color="#008bdd"/><stop offset="0.7809" stop-color="#008bdd"/><stop offset="0.7846" stop-color="#009900"/><stop offset="0.7884" stop-color="#0000dd"/><stop offset="0.7921" stop-color="#0000dd"/><stop offset="0.7959" stop-color="#008bdd"/><stop offset="0.7996" stop-color="#008bdd"/><stop offset="0.8034" stop-color="#009900"/><stop offset="0.8071" stop-color="#0000dd"/><stop offset="0.8146" stop-color="#0000dd"/><stop offset="0.8184" stop-color="#0099dd"/><stop offset="0.8221" stop-color="#0000dd"/><stop offset="0.8258" stop-color="#0000dd"/><stop offset="0.8296" stop-color="#840095"/><stop offset="0.8670" stop-color="#820093"/><stop offset="0.8970" stop-color="#780089"/><stop offset="0.9007" stop-color="#730084"/><stop offset="0.9419" stop-color="#0c000e"/><stop offset="0.9457" stop-color="#070008"/><stop offset="0.9981" stop-color="#000000"/></linearGradient><linearGradient id="L17" gradientUnits="userSpaceOnUse" x1="48.00" y1="0" x2="315.00" y2="0"><stop offset="0.0019" stop-color="#0000dd"/><stop offset="0.0056" stop-color="#2b0031"/><stop offset="0.0281" stop-color="#2b0031"/><stop offset="0.0318" stop-color="#1d0021"/><stop offset="0.1704" stop-color="#1d0021"/><stop offset="0.1742" stop-color="#200025"/><stop offset="0.1929" stop-color="#44004e"/><stop offset="0.1966" stop-color="#550061"/><stop offset="0.2004" stop-color="#710081"/><stop offset="0.2041" stop-color="#7a008b"/><stop offset="0.2116" stop-color="#850096"/><stop offset="0.2303" stop-color="#850096"/><stop offset="0.2341" stop-color="#0000b8"/><stop offset="0.2528" stop-color="#0000da"/><stop offset="0.2566" stop-color="#000edd"/><stop offset="0.2678" stop-color="#0061dd"/><stop offset="0.2715" stop-color="#0079dd"/><stop offset="0.2790" stop-color="#0086dd"/><stop offset="0.3015" stop-color="#0098dd"/><stop offset="0.3502" stop-color="#00aaab"/><stop offset="0.4064" stop-color="#00aa85"/><stop offset="0.4588" stop-color="#009a05"/><stop offset="0.4625" stop-color="#009a00"/><stop offset="0.4738" stop-color="#00a000"/><stop offset="0.5225" stop-color="#00a600"/><stop offset="0.5861" stop-color="#009900"/><stop offset="0.5899" stop-color="#009a0b"/><stop offset="0.6124" stop-color="#00aa88"/><stop offset="0.6348" stop-color="#00aaa9"/><stop offset="0.6573" stop-color="#009adb"/><stop offset="0.6610" stop-color="#0095dd"/><stop offset="0.6798" stop-color="#0077dd"/><stop offset="0.6948" stop-color="#0022dd"/><stop offset="0.6985" stop-color="#0015dd"/><stop offset="0.7135" stop-color="#0000dc"/><stop offset="0.7472" stop-color="#0000c9"/><stop offset="0.7509" stop-color="#009900"/><stop offset="0.7547" stop-color="#0085dd"/><stop offset="0.7584" stop-color="#0085dd"/><stop offset="0.7622" stop-color="#0000dd"/><stop offset="0.7659" stop-color="#0000dd"/><stop offset="0.7697" stop-color="#009900"/><stop offset="0.7734" stop-color="#008bdd"/><stop offset="0.7809" stop-color="#008bdd"/><stop offset="0.7846" stop-color="#009900"/><stop offset="0.7884" stop-color="#0000dd"/><stop offset="0.7921" stop-color="#0000dd"/><stop offset="0.7959" stop-color="#008bdd"/><stop offset="0.7996" stop-color="#008bdd"/><stop offset="0.8034" stop-color="#009900"/><stop offset="0.8071" stop-color="#0000dd"/><stop offset="0.8146" stop-color="#0000dd"/><stop offset="0.8184" stop-color="#0099dd"/><stop offset="0.8221" stop-color="#0000dd"/><stop offset="0.8258" stop-color="#0000dd"/><stop offset="0.8296" stop-color="#840095"/><stop offset="0.8670" stop-color="#820093"/><stop offset="0.8970" stop-color="#780089"/><stop offset="0.9007" stop-color="#730084"/><stop offset="0.9419" stop-color="#0c000e"/><stop offset="0.9457" stop-color="#070008"/><stop offset="0.9981" stop-color="#000000"/></linearGradient><linearGradient id="L18" gradientUnits="userSpaceOnUse" x1="48.00" y1="0" x2="315.00" y2="0"><stop offset="0.0019" stop-color="#0000dd"/><stop offset="0.0056" stop-color="#2b0031"/><stop offset="0.0281" stop-color="#2b0031"/><stop offset="0.0318" stop-color="#1d0021"/><stop offset="0.1704" stop-color="#1d0021"/><stop offset="0.1742" stop-color="#200025"/><stop offset="0.1929" stop-color="#44004e"/><stop offset="0.1966" stop-color="#550061"/><stop offset="0.2004" stop-color="#710081"/><stop offset="0.2041" stop-color="#7a008b"/><stop offset="0.2116" stop-color="#850096"/><stop offset="0.2303" stop-color="#850096"/><stop offset="0.2341" stop-color="#0000be"/><stop offset="0.2378" stop-color="#0000d3"/><stop offset="0.2416" stop-color="#000edd"/><stop offset="0.2528" stop-color="#0061dd"/><stop offset="0.2566" stop-color="#0079dd"/><stop offset="0.2640" stop-color="#0086dd"/><stop offset="0.2940" stop-color="#0098dd"/><stop offset="0.3277" stop-color="#00a3c0"/><stop offset="0.3464" stop-color="#00aaaa"/><stop offset="0.3876" stop-color="#00aa88"/><stop offset="0.4064" stop-color="#00a34d"/><stop offset="0.4363" stop-color="#009a05"/><stop offset="0.4401" stop-color="#009a00"/><stop offset="0.5225" stop-color="#00ba00"/><stop offset="0.5861" stop-color="#009a00"/><stop offset="0.5899" stop-color="#009a0b"/><stop offset="0.6124" stop-color="#00aa88"/><stop offset="0.6348" stop-color="#00aaa9"/><stop offset="0.6573" stop-color="#009adb"/><stop offset="0.6610" stop-color="#0095dd"/><stop offset="0.6798" stop-color="#0077dd"/><stop offset="0.6948" stop-color="#0022dd"/><stop offset="0.6985" stop-color="#0015dd"/><stop offset="0.7135" stop-color="#0000dc"/><stop offset="0.7472" stop-color="#0000c9"/><stop offset="0.7509" stop-color="#009900"/><stop offset="0.7547" stop-color="#0085dd"/><stop offset="0.7584" stop-color="#0085dd"/><stop offset="0.7622" stop-color="#0000dd"/><stop offset="0.7659" stop-color="#0000dd"/><stop offset="0.7697" stop-color="#009900"/><stop offset="0.7734" stop-color="#008bdd"/><stop offset="0.7809" stop-color="#008bdd"/><stop offset="0.7846" stop-color="#009900"/><stop offset="0.7884" stop-color="#0000dd"/><stop offset="0.7921" stop-color="#0000dd"/><stop offset="0.7959" stop-color="#008bdd"/><stop offset="0.7996" stop-color="#008bdd"/><stop offset="0.8034" stop-color="#009900"/><stop offset="0.8071" stop-color="#0000dd"/><stop offset="0.8146" stop-color="#0000dd"/><stop offset="0.8184" stop-color="#0099dd"/><stop offset="0.8221" stop-color="#0000dd"/><stop offset="0.8258" stop-color="#0000dd"/><stop offset="0.8296" stop-color="#840095"/><stop offset="0.8670" stop-color="#820093"/><stop offset="0.8970" stop-color="#780089"/><stop offset="0.9007" stop-color="#730084"/><stop offset="0.9419" stop-color="#0c000e"/><stop offset="0.9457" stop-color="#070008"/><stop offset="0.9981" stop-color="#000000"/></linearGradient><linearGradient id="L19" gradientUnits="userSpaceOnUse" x1="48.00" y1="0" x2="315.00" y2="0"><stop offset="0.0019" stop-color="#0000dd"/><stop offset="0.0056" stop-color="#2b0031"/><stop offset="0.0281" stop-color="#2b0031"/><stop offset="0.0318" stop-color="#1d0021"/><stop offset="0.2228" stop-color="#1d0021"/><stop offset="0.2266" stop-color="#300037"/><stop offset="0.3464" stop-color="#3b0044"/><stop offset="0.6723" stop-color="#390041"/><stop offset="0.8670" stop-color="#2b0031"/><stop offset="0.9419" stop-color="#080009"/><stop offset="0.9981" stop-color="#000000"/></linearGradient><linearGradient id="L20" gradientUnits="userSpaceOnUse" x1="48.00" y1="0" x2="315.00" y2="0"><stop offset="0.0019" stop-color="#0000dd"/><stop offset="0.0056" stop-color="#2b0031"/><stop offset="0.0281" stop-color="#2b0031"/><stop offset="0.0318" stop-color="#1d0021"/><stop offset="0.1592" stop-color="#1d0021"/><stop offset="0.1629" stop-color="#28002e"/><stop offset="0.1742" stop-color="#6c007b"/><stop offset="0.1779" stop-color="#7d008e"/><stop offset="0.1816" stop-color="#830094"/><stop offset="0.1966" stop-color="#840095"/><stop offset="0.2004" stop-color="#0030dd"/><stop offset="0.2041" stop-color="#007edd"/><stop offset="0.2116" stop-color="#0099dd"/><stop offset="0.2191" stop-color="#00a8af"/><stop offset="0.2228" stop-color="#00aa99"/><stop offset="0.2266" stop-color="#00a87a"/><stop offset="0.2303" stop-color="#009e29"/><stop offset="0.2341" stop-color="#009d00"/><stop offset="0.2640" stop-color="#00d900"/><stop offset="0.2903" stop-color="#03ff00"/><stop offset="0.3539" stop-color="#6dff00"/><stop offset="0.4101" stop-color="#94ff00"/><stop offset="0.4139" stop-color="#93ff00"/><stop offset="0.4663" stop-color="#4dff00"/><stop offset="0.4700" stop-color="#44ff00"/><stop offset="0.4888" stop-color="#02ff00"/><stop offset="0.5300" stop-color="#00e500"/><stop offset="0.5787" stop-color="#00a900"/><stop offset="0.5974" stop-color="#009a00"/><stop offset="0.6011" stop-color="#009a08"/><stop offset="0.6311" stop-color="#00aa86"/><stop offset="0.6610" stop-color="#00aaab"/><stop offset="0.6835" stop-color="#009cd4"/><stop offset="0.7022" stop-color="#0098dd"/><stop offset="0.7472" stop-color="#0085dd"/><stop offset="0.7509" stop-color="#009900"/><stop offset="0.7547" stop-color="#0085dd"/><stop offset="0.7659" stop-color="#0085dd"/><stop offset="0.7697" stop-color="#009900"/><stop offset="0.7734" stop-color="#008bdd"/><stop offset="0.7809" stop-color="#008bdd"/><stop offset="0.7846" stop-color="#009900"/><stop offset="0.7884" stop-color="#0085dd"/><stop offset="0.7996" stop-color="#008bdd"/><stop offset="0.8034" stop-color="#009900"/><stop offset="0.8071" stop-color="#0085dd"/><stop offset="0.8146" stop-color="#0085dd"/><stop offset="0.8184" stop-color="#0099dd"/><stop offset="0.8221" stop-color="#0085dd"/><stop offset="0.8258" stop-color="#0085dd"/><stop offset="0.8296" stop-color="#0000dc"/><stop offset="0.8633" stop-color="#0000d3"/><stop offset="0.8670" stop-color="#0000c4"/><stop offset="0.8708" stop-color="#0e00a8"/><stop offset="0.8745" stop-color="#5f009e"/><stop offset="0.8783" stop-color="#880099"/><stop offset="0.9120" stop-color="#830094"/><stop offset="0.9270" stop-color="#780089"/><stop offset="0.9307" stop-color="#660074"/><stop offset="0.9419" stop-color="#230028"/><stop offset="0.9457" stop-color="#150018"/><stop offset="0.9569" stop-color="#030003"/><stop offset="0.9607" stop-color="#000000"/><stop offset="0.9981" stop-color="#000000"/></linearGradient><linearGradient id="L21" gradientUnits="userSpaceOnUse" x1="48.00" y1="0" x2="315.00" y2="0"><stop offset="0.0019" stop-color="#0000dd"/><stop offset="0.0056" stop-color="#2b0031"/><stop offset="0.0281" stop-color="#2b0031"/><stop offset="0.0318" stop-color="#1d0021"/><stop offset="0.1592" stop-color="#1d0021"/><stop offset="0.1629" stop-color="#28002e"/><stop offset="0.1742" stop-color="#6c007b"/><stop offset="0.1779" stop-color="#7d008e"/><stop offset="0.1816" stop-color="#830094"/><stop offset="0.1966" stop-color="#840095"/><stop offset="0.2004" stop-color="#0030dd"/><stop offset="0.2041" stop-color="#007edd"/><stop offset="0.2116" stop-color="#0099dd"/><stop offset="0.2191" stop-color="#00a8af"/><stop offset="0.2228" stop-color="#00aa99"/><stop offset="0.2266" stop-color="#00a87a"/><stop offset="0.2303" stop-color="#009e29"/><stop offset="0.2341" stop-color="#009d00"/><stop offset="0.2640" stop-color="#00d900"/><stop offset="0.2903" stop-color="#03ff00"/><stop offset="0.3539" stop-color="#6dff00"/><stop offset="0.4101" stop-color="#94ff00"/><stop offset="0.4139" stop-color="#93ff00"/><stop offset="0.4663" stop-color="#4dff00"/><stop offset="0.4700" stop-color="#44ff00"/><stop offset="0.4888" stop-color="#02ff00"/><stop offset="0.5300" stop-color="#00e500"/><stop offset="0.5787" stop-color="#00a900"/><stop offset="0.5974" stop-color="#009a00"/><stop offset="0.6011" stop-color="#009a08"/><stop offset="0.6311" stop-color="#00aa86"/><stop offset="0.6610" stop-color="#00aaab"/><stop offset="0.6835" stop-color="#009cd4"/><stop offset="0.7022" stop-color="#0098dd"/><stop offset="0.7472" stop-color="#0085dd"/><stop offset="0.7509" stop-color="#009900"/><stop offset="0.7547" stop-color="#0085dd"/><stop offset="0.7659" stop-color="#0085dd"/><stop offset="0.7697" stop-color="#009900"/><stop offset="0.7734" stop-color="#008bdd"/><stop offset="0.7809" stop-color="#008bdd"/><stop offset="0.7846" stop-color="#009900"/><stop offset="0.7884" stop-color="#0085dd"/><stop offset="0.7996" stop-color="#008bdd"/><stop offset="0.8034" stop-color="#009900"/><stop offset="0.8071" stop-color="#0085dd"/><stop offset="0.8146" stop-color="#0085dd"/><stop offset="0.8184" stop-color="#0099dd"/><stop offset="0.8221" stop-color="#0085dd"/><stop offset="0.8258" stop-color="#0085dd"/><stop offset="0.8296" stop-color="#0000dc"/><stop offset="0.8633" stop-color="#0000d3"/><stop offset="0.8670" stop-color="#0000c4"/><stop offset="0.8708" stop-color="#0e00a8"/><stop offset="0.8745" stop-color="#5f009e"/><stop offset="0.8783" stop-color="#880099"/><stop offset="0.9120" stop-color="#830094"/><stop offset="0.9270" stop-color="#780089"/><stop offset="0.9307" stop-color="#660074"/><stop offset="0.9419" stop-color="#230028"/><stop offset="0.9457" stop-color="#150018"/><stop offset="0.9569" stop-color="#030003"/><stop offset="0.9607" stop-color="#000000"/><stop offset="0.9981" stop-color="#000000"/></linearGradient><linearGradient id="R0" gradientUnits="userSpaceOnUse" x1="328.00" y1="0" x2="595.00" y2="0"><stop offset="0.0019" stop-color="#0099dd"/><stop offset="0.0056" stop-color="#2b0031"/><stop offset="0.0730" stop-color="#2b0031"/><stop offset="0.0768" stop-color="#1d0021"/><stop offset="0.1629" stop-color="#1d0021"/><stop offset="0.1667" stop-color="#2e0034"/><stop offset="0.1742" stop-color="#730083"/><stop offset="0.1816" stop-color="#810092"/><stop offset="0.1929" stop-color="#850096"/><stop offset="0.1966" stop-color="#0005dd"/><stop offset="0.2041" stop-color="#0077dd"/><stop offset="0.2116" stop-color="#0096dd"/><stop offset="0.2154" stop-color="#009fca"/><stop offset="0.2191" stop-color="#00aaa8"/><stop offset="0.2228" stop-color="#00aa88"/><stop offset="0.2266" stop-color="#009a09"/><stop offset="0.2303" stop-color="#00ab00"/><stop offset="0.2528" stop-color="#00df00"/><stop offset="0.2790" stop-color="#00fd00"/><stop offset="0.2828" stop-color="#07ff00"/><stop offset="0.3165" stop-color="#8eff00"/><stop offset="0.3202" stop-color="#98ff00"/><stop offset="0.3464" stop-color="#bbff00"/><stop offset="0.3764" stop-color="#c5fc00"/><stop offset="0.4625" stop-color="#c0fd00"/><stop offset="0.4700" stop-color="#bbff00"/><stop offset="0.5262" stop-color="#06ff00"/><stop offset="0.5300" stop-color="#00fe00"/><stop offset="0.5524" stop-color="#00f000"/><stop offset="0.5974" stop-color="#00ca00"/><stop offset="0.6348" stop-color="#009c00"/><stop offset="0.6386" stop-color="#009903"/><stop offset="0.6610" stop-color="#00a665"/><stop offset="0.6685" stop-color="#00aa8a"/><stop offset="0.6873" stop-color="#00aaa9"/><stop offset="0.7022" stop-color="#009fcb"/><stop offset="0.7210" stop-color="#0098dd"/><stop offset="0.7472" stop-color="#0085dd"/><stop offset="0.7509" stop-color="#009900"/><stop offset="0.7547" stop-color="#0085dd"/><stop offset="0.7659" stop-color="#0085dd"/><stop offset="0.7697" stop-color="#009900"/><stop offset="0.7734" stop-color="#008bdd"/><stop offset="0.7809" stop-color="#008bdd"/><stop offset="0.7846" stop-color="#009900"/><stop offset="0.7884" stop-color="#0085dd"/><stop offset="0.7996" stop-color="#008bdd"/><stop offset="0.8034" stop-color="#009900"/><stop offset="0.8071" stop-color="#0085dd"/><stop offset="0.8146" stop-color="#0085dd"/><stop offset="0.8184" stop-color="#0099dd"/><stop offset="0.8221" stop-color="#0085dd"/><stop offset="0.8258" stop-color="#0085dd"/><stop offset="0.8296" stop-color="#0000dd"/><stop offset="0.9045" stop-color="#0000dd"/><stop offset="0.9082" stop-color="#850096"/><stop offset="0.9345" stop-color="#850096"/><stop offset="0.9494" stop-color="#79008a"/><stop offset="0.9532" stop-color="#6b007a"/><stop offset="0.9607" stop-color="#3c0044"/><stop offset="0.9644" stop-color="#28002d"/><stop offset="0.9719" stop-color="#080009"/><stop offset="0.9757" stop-color="#000000"/><stop offset="0.9981" stop-color="#000000"/></linearGradient><linearGradient id="R1" gradientUnits="userSpaceOnUse" x1="328.00" y1="0" x2="595.00" y2="0"><stop offset="0.0019" stop-color="#0099dd"/><stop offset="0.0056" stop-color="#2b0031"/><stop offset="0.0730" stop-color="#2b0031"/><stop offset="0.0768" stop-color="#1d0021"/><stop offset="0.1629" stop-color="#1d0021"/><stop offset="0.1667" stop-color="#2e0034"/><stop offset="0.1742" stop-color="#730083"/><stop offset="0.1816" stop-color="#810092"/><stop offset="0.1929" stop-color="#850096"/><stop offset="0.1966" stop-color="#0005dd"/><stop offset="0.2041" stop-color="#0077dd"/><stop offset="0.2116" stop-color="#0096dd"/><stop offset="0.2154" stop-color="#009fca"/><stop offset="0.2191" stop-color="#00aaa8"/><stop offset="0.2228" stop-color="#00aa88"/><stop offset="0.2266" stop-color="#009a09"/><stop offset="0.2303" stop-color="#00ab00"/><stop offset="0.2528" stop-color="#00df00"/><stop offset="0.2790" stop-color="#00fd00"/><stop offset="0.2828" stop-color="#07ff00"/><stop offset="0.3165" stop-color="#8eff00"/><stop offset="0.3202" stop-color="#98ff00"/><stop offset="0.3464" stop-color="#bbff00"/><stop offset="0.3764" stop-color="#c5fc00"/><stop offset="0.4625" stop-color="#c0fd00"/><stop offset="0.4700" stop-color="#bbff00"/><stop offset="0.5262" stop-color="#06ff00"/><stop offset="0.5300" stop-color="#00fe00"/><stop offset="0.5524" stop-color="#00f000"/><stop offset="0.5974" stop-color="#00ca00"/><stop offset="0.6348" stop-color="#009c00"/><stop offset="0.6386" stop-color="#009903"/><stop offset="0.6610" stop-color="#00a665"/><stop offset="0.6685" stop-color="#00aa8a"/><stop offset="0.6873" stop-color="#00aaa9"/><stop offset="0.7022" stop-color="#009fcb"/><stop offset="0.7210" stop-color="#0098dd"/><stop offset="0.7472" stop-color="#0085dd"/><stop offset="0.7509" stop-color="#009900"/><stop offset="0.7547" stop-color="#0085dd"/><stop offset="0.7659" stop-color="#0085dd"/><stop offset="0.7697" stop-color="#009900"/><stop offset="0.7734" stop-color="#008bdd"/><stop offset="0.7809" stop-color="#008bdd"/><stop offset="0.7846" stop-color="#009900"/><stop offset="0.7884" stop-color="#0085dd"/><stop offset="0.7996" stop-color="#008bdd"/><stop offset="0.8034" stop-color="#009900"/><stop offset="0.8071" stop-color="#0085dd"/><stop offset="0.8146" stop-color="#0085dd"/><stop offset="0.8184" stop-color="#0099dd"/><stop offset="0.8221" stop-color="#0085dd"/><stop offset="0.8258" stop-color="#0085dd"/><stop offset="0.8296" stop-color="#0000dd"/><stop offset="0.9045" stop-color="#0000dd"/><stop offset="0.9082" stop-color="#850096"/><stop offset="0.9345" stop-color="#850096"/><stop offset="0.9494" stop-color="#79008a"/><stop offset="0.9532" stop-color="#6b007a"/><stop offset="0.9607" stop-color="#3c0044"/><stop offset="0.9644" stop-color="#28002d"/><stop offset="0.9719" stop-color="#080009"/><stop offset="0.9757" stop-color="#000000"/><stop offset="0.9981" stop-color="#000000"/></linearGradient><linearGradient id="R2" gradientUnits="userSpaceOnUse" x1="328.00" y1="0" x2="595.00" y2="0"><stop offset="0.0019" stop-color="#830094"/><stop offset="0.9644" stop-color="#830094"/><stop offset="0.9981" stop-color="#7b008c"/></linearGradient><linearGradient id="R3" gradientUnits="userSpaceOnUse" x1="328.00" y1="0" x2="595.00" y2="0"><stop offset="0.0019" stop-color="#0000dd"/><stop offset="0.0056" stop-color="#2b0031"/><stop offset="0.0281" stop-color="#2b0031"/><stop offset="0.0318" stop-color="#1d0021"/><stop offset="0.1629" stop-color="#1d0021"/><stop offset="0.1667" stop-color="#200025"/><stop offset="0.1854" stop-color="#44004e"/><stop offset="0.1891" stop-color="#550061"/><stop offset="0.1929" stop-color="#710081"/><stop offset="0.1966" stop-color="#7a008b"/><stop offset="0.2041" stop-color="#850096"/><stop offset="0.2303" stop-color="#850096"/><stop offset="0.2341" stop-color="#0000b8"/><stop offset="0.2491" stop-color="#0000d9"/><stop offset="0.2528" stop-color="#000edd"/><stop offset="0.2640" stop-color="#0061dd"/><stop offset="0.2678" stop-color="#0079dd"/><stop offset="0.2753" stop-color="#0086dd"/><stop offset="0.2940" stop-color="#0099dd"/><stop offset="0.3165" stop-color="#00a4bc"/><stop offset="0.3352" stop-color="#00aaaa"/><stop offset="0.3839" stop-color="#00aa88"/><stop offset="0.4064" stop-color="#00a34d"/><stop offset="0.4363" stop-color="#009a05"/><stop offset="0.4401" stop-color="#009a00"/><stop offset="0.5225" stop-color="#00ba00"/><stop offset="0.5712" stop-color="#009a00"/><stop offset="0.5749" stop-color="#009a09"/><stop offset="0.6011" stop-color="#00a982"/><stop offset="0.6236" stop-color="#00aaa7"/><stop offset="0.6423" stop-color="#009bd8"/><stop offset="0.6461" stop-color="#0096dd"/><stop offset="0.6648" stop-color="#0077dd"/><stop offset="0.6798" stop-color="#0022dd"/><stop offset="0.6835" stop-color="#0016dd"/><stop offset="0.7022" stop-color="#0000dd"/><stop offset="0.7472" stop-color="#0000c9"/><stop offset="0.7509" stop-color="#009900"/><stop offset="0.7547" stop-color="#0085dd"/><stop offset="0.7584" stop-color="#0085dd"/><stop offset="0.7622" stop-color="#0000dd"/><stop offset="0.7659" stop-color="#0000dd"/><stop offset="0.7697" stop-color="#009900"/><stop offset="0.7734" stop-color="#008bdd"/><stop offset="0.7809" stop-color="#008bdd"/><stop offset="0.7846" stop-color="#009900"/><stop offset="0.7884" stop-color="#0000dd"/><stop offset="0.7921" stop-color="#0000dd"/><stop offset="0.7959" stop-color="#008bdd"/><stop offset="0.7996" stop-color="#008bdd"/><stop offset="0.8034" stop-color="#009900"/><stop offset="0.8071" stop-color="#0000dd"/><stop offset="0.8146" stop-color="#0000dd"/><stop offset="0.8184" stop-color="#0099dd"/><stop offset="0.8221" stop-color="#0000dd"/><stop offset="0.8258" stop-color="#0000dd"/><stop offset="0.8296" stop-color="#850096"/><stop offset="0.8858" stop-color="#820093"/><stop offset="0.9195" stop-color="#770088"/><stop offset="0.9644" stop-color="#0c000d"/><stop offset="0.9682" stop-color="#070008"/><stop offset="0.9981" stop-color="#000000"/></linearGradient><linearGradient id="R4" gradientUnits="userSpaceOnUse" x1="328.00" y1="0" x2="595.00" y2="0"><stop offset="0.0019" stop-color="#0000dd"/><stop offset="0.0056" stop-color="#2b0031"/><stop offset="0.0281" stop-color="#2b0031"/><stop offset="0.0318" stop-color="#1d0021"/><stop offset="0.1629" stop-color="#1d0021"/><stop offset="0.1667" stop-color="#200025"/><stop offset="0.1854" stop-color="#44004e"/><stop offset="0.1891" stop-color="#550061"/><stop offset="0.1929" stop-color="#710081"/><stop offset="0.1966" stop-color="#7a008b"/><stop offset="0.2041" stop-color="#850096"/><stop offset="0.2303" stop-color="#850096"/><stop offset="0.2341" stop-color="#0000b9"/><stop offset="0.2453" stop-color="#0000d8"/><stop offset="0.2491" stop-color="#000edd"/><stop offset="0.2603" stop-color="#0061dd"/><stop offset="0.2640" stop-color="#0079dd"/><stop offset="0.2715" stop-color="#0087dd"/><stop offset="0.2865" stop-color="#0097dd"/><stop offset="0.3090" stop-color="#00a4bd"/><stop offset="0.3277" stop-color="#00aaab"/><stop offset="0.3839" stop-color="#00aa85"/><stop offset="0.4363" stop-color="#009a05"/><stop offset="0.4401" stop-color="#009a00"/><stop offset="0.5225" stop-color="#00c800"/><stop offset="0.5712" stop-color="#009b00"/><stop offset="0.5749" stop-color="#009a09"/><stop offset="0.6011" stop-color="#00a982"/><stop offset="0.6236" stop-color="#00aaa7"/><stop offset="0.6423" stop-color="#009bd8"/><stop offset="0.6461" stop-color="#0096dd"/><stop offset="0.6648" stop-color="#0077dd"/><stop offset="0.6798" stop-color="#0022dd"/><stop offset="0.6835" stop-color="#0016dd"/><stop offset="0.7022" stop-color="#0000dd"/><stop offset="0.7472" stop-color="#0000c9"/><stop offset="0.7509" stop-color="#009900"/><stop offset="0.7547" stop-color="#0085dd"/><stop offset="0.7584" stop-color="#0085dd"/><stop offset="0.7622" stop-color="#0000dd"/><stop offset="0.7659" stop-color="#0000dd"/><stop offset="0.7697" stop-color="#009900"/><stop offset="0.7734" stop-color="#008bdd"/><stop offset="0.7809" stop-color="#008bdd"/><stop offset="0.7846" stop-color="#009900"/><stop offset="0.7884" stop-color="#0000dd"/><stop offset="0.7921" stop-color="#0000dd"/><stop offset="0.7959" stop-color="#008bdd"/><stop offset="0.7996" stop-color="#008bdd"/><stop offset="0.8034" stop-color="#009900"/><stop offset="0.8071" stop-color="#0000dd"/><stop offset="0.8146" stop-color="#0000dd"/><stop offset="0.8184" stop-color="#0099dd"/><stop offset="0.8221" stop-color="#0000dd"/><stop offset="0.8258" stop-color="#0000dd"/><stop offset="0.8296" stop-color="#850096"/><stop offset="0.8858" stop-color="#820093"/><stop offset="0.9195" stop-color="#770088"/><stop offset="0.9644" stop-color="#0c000d"/><stop offset="0.9682" stop-color="#070008"/><stop offset="0.9981" stop-color="#000000"/></linearGradient><linearGradient id="R5" gradientUnits="userSpaceOnUse" x1="328.00" y1="0" x2="595.00" y2="0"><stop offset="0.0019" stop-color="#0000dd"/><stop offset="0.0056" stop-color="#2b0031"/><stop offset="0.0281" stop-color="#2b0031"/><stop offset="0.0318" stop-color="#1d0021"/><stop offset="0.1629" stop-color="#1d0021"/><stop offset="0.1667" stop-color="#200025"/><stop offset="0.1854" stop-color="#44004e"/><stop offset="0.1891" stop-color="#550061"/><stop offset="0.1929" stop-color="#710081"/><stop offset="0.1966" stop-color="#7a008b"/><stop offset="0.2041" stop-color="#850096"/><stop offset="0.2303" stop-color="#850096"/><stop offset="0.2341" stop-color="#0000b9"/><stop offset="0.2453" stop-color="#0000d8"/><stop offset="0.2491" stop-color="#000edd"/><stop offset="0.2603" stop-color="#0061dd"/><stop offset="0.2640" stop-color="#0079dd"/><stop offset="0.2715" stop-color="#0087dd"/><stop offset="0.2865" stop-color="#0097dd"/><stop offset="0.3090" stop-color="#00a4bd"/><stop offset="0.3277" stop-color="#00aaab"/><stop offset="0.3839" stop-color="#00aa85"/><stop offset="0.4363" stop-color="#009a05"/><stop offset="0.4401" stop-color="#009a00"/><stop offset="0.5225" stop-color="#00c800"/><stop offset="0.5712" stop-color="#009b00"/><stop offset="0.5749" stop-color="#009a09"/><stop offset="0.6011" stop-color="#00a982"/><stop offset="0.6236" stop-color="#00aaa7"/><stop offset="0.6423" stop-color="#009bd8"/><stop offset="0.6461" stop-color="#0096dd"/><stop offset="0.6648" stop-color="#0077dd"/><stop offset="0.6798" stop-color="#0022dd"/><stop offset="0.6835" stop-color="#0016dd"/><stop offset="0.7022" stop-color="#0000dd"/><stop offset="0.7472" stop-color="#0000c9"/><stop offset="0.7509" stop-color="#009900"/><stop offset="0.7547" stop-color="#0085dd"/><stop offset="0.7584" stop-color="#0085dd"/><stop offset="0.7622" stop-color="#0000dd"/><stop offset="0.7659" stop-color="#0000dd"/><stop offset="0.7697" stop-color="#009900"/><stop offset="0.7734" stop-color="#008bdd"/><stop offset="0.7809" stop-color="#008bdd"/><stop offset="0.7846" stop-color="#009900"/><stop offset="0.7884" stop-color="#0000dd"/><stop offset="0.7921" stop-color="#0000dd"/><stop offset="0.7959" stop-color="#008bdd"/><stop offset="0.7996" stop-color="#008bdd"/><stop offset="0.8034" stop-color="#009900"/><stop offset="0.8071" stop-color="#0000dd"/><stop offset="0.8146" stop-color="#0000dd"/><stop offset="0.8184" stop-color="#0099dd"/><stop offset="0.8221" stop-color="#0000dd"/><stop offset="0.8258" stop-color="#0000dd"/><stop offset="0.8296" stop-color="#850096"/><stop offset="0.8858" stop-color="#820093"/><stop offset="0.9195" stop-color="#770088"/><stop offset="0.9644" stop-color="#0c000d"/><stop offset="0.9682" stop-color="#070008"/><stop offset="0.9981" stop-color="#000000"/></linearGradient><linearGradient id="R6" gradientUnits="userSpaceOnUse" x1="328.00" y1="0" x2="595.00" y2="0"><stop offset="0.0019" stop-color="#0000dd"/><stop offset="0.0056" stop-color="#2b0031"/><stop offset="0.0281" stop-color="#2b0031"/><stop offset="0.0318" stop-color="#1d0021"/><stop offset="0.1629" stop-color="#1d0021"/><stop offset="0.1667" stop-color="#200025"/><stop offset="0.1854" stop-color="#44004e"/><stop offset="0.1891" stop-color="#550061"/><stop offset="0.1929" stop-color="#710081"/><stop offset="0.1966" stop-color="#7a008b"/><stop offset="0.2041" stop-color="#850096"/><stop offset="0.2303" stop-color="#850096"/><stop offset="0.2341" stop-color="#0000b6"/><stop offset="0.2640" stop-color="#0000db"/><stop offset="0.2678" stop-color="#000edd"/><stop offset="0.2790" stop-color="#0061dd"/><stop offset="0.2828" stop-color="#0079dd"/><stop offset="0.2903" stop-color="#0087dd"/><stop offset="0.3052" stop-color="#0099dd"/><stop offset="0.3240" stop-color="#00a4bc"/><stop offset="0.3390" stop-color="#00a9ad"/><stop offset="0.3914" stop-color="#00aa88"/><stop offset="0.4139" stop-color="#00a34d"/><stop offset="0.4438" stop-color="#009a05"/><stop offset="0.4476" stop-color="#009a00"/><stop offset="0.5225" stop-color="#00b400"/><stop offset="0.5712" stop-color="#009a00"/><stop offset="0.5749" stop-color="#009a09"/><stop offset="0.6011" stop-color="#00a982"/><stop offset="0.6236" stop-color="#00aaa7"/><stop offset="0.6423" stop-color="#009bd8"/><stop offset="0.6461" stop-color="#0096dd"/><stop offset="0.6648" stop-color="#0077dd"/><stop offset="0.6798" stop-color="#0022dd"/><stop offset="0.6835" stop-color="#0016dd"/><stop offset="0.7022" stop-color="#0000dd"/><stop offset="0.7472" stop-color="#0000c9"/><stop offset="0.7509" stop-color="#009900"/><stop offset="0.7547" stop-color="#0085dd"/><stop offset="0.7584" stop-color="#0085dd"/><stop offset="0.7622" stop-color="#0000dd"/><stop offset="0.7659" stop-color="#0000dd"/><stop offset="0.7697" stop-color="#009900"/><stop offset="0.7734" stop-color="#008bdd"/><stop offset="0.7809" stop-color="#008bdd"/><stop offset="0.7846" stop-color="#009900"/><stop offset="0.7884" stop-color="#0000dd"/><stop offset="0.7921" stop-color="#0000dd"/><stop offset="0.7959" stop-color="#008bdd"/><stop offset="0.7996" stop-color="#008bdd"/><stop offset="0.8034" stop-color="#009900"/><stop offset="0.8071" stop-color="#0000dd"/><stop offset="0.8146" stop-color="#0000dd"/><stop offset="0.8184" stop-color="#0099dd"/><stop offset="0.8221" stop-color="#0000dd"/><stop offset="0.8258" stop-color="#0000dd"/><stop offset="0.8296" stop-color="#850096"/><stop offset="0.8858" stop-color="#820093"/><stop offset="0.9195" stop-color="#770088"/><stop offset="0.9644" stop-color="#0c000d"/><stop offset="0.9682" stop-color="#070008"/><stop offset="0.9981" stop-color="#000000"/></linearGradient><linearGradient id="R7" gradientUnits="userSpaceOnUse" x1="328.00" y1="0" x2="595.00" y2="0"><stop offset="0.0019" stop-color="#0000dd"/><stop offset="0.0056" stop-color="#2b0031"/><stop offset="0.0281" stop-color="#2b0031"/><stop offset="0.0318" stop-color="#1d0021"/><stop offset="0.1629" stop-color="#1d0021"/><stop offset="0.1667" stop-color="#200025"/><stop offset="0.1854" stop-color="#44004e"/><stop offset="0.1891" stop-color="#550061"/><stop offset="0.1929" stop-color="#710081"/><stop offset="0.1966" stop-color="#7a008b"/><stop offset="0.2041" stop-color="#850096"/><stop offset="0.2303" stop-color="#850096"/><stop offset="0.2341" stop-color="#0000b9"/><stop offset="0.2453" stop-color="#0000d8"/><stop offset="0.2491" stop-color="#000edd"/><stop offset="0.2603" stop-color="#0061dd"/><stop offset="0.2640" stop-color="#0079dd"/><stop offset="0.2715" stop-color="#0086dd"/><stop offset="0.2903" stop-color="#0097dd"/><stop offset="0.3165" stop-color="#00a4bd"/><stop offset="0.3352" stop-color="#00aaab"/><stop offset="0.3914" stop-color="#00aa85"/><stop offset="0.4438" stop-color="#009a05"/><stop offset="0.4476" stop-color="#009a00"/><stop offset="0.5225" stop-color="#00ba00"/><stop offset="0.5712" stop-color="#009a00"/><stop offset="0.5749" stop-color="#009a09"/><stop offset="0.6011" stop-color="#00a982"/><stop offset="0.6236" stop-color="#00aaa7"/><stop offset="0.6423" stop-color="#009bd8"/><stop offset="0.6461" stop-color="#0096dd"/><stop offset="0.6648" stop-color="#0077dd"/><stop offset="0.6798" stop-color="#0022dd"/><stop offset="0.6835" stop-color="#0016dd"/><stop offset="0.7022" stop-color="#0000dd"/><stop offset="0.7472" stop-color="#0000c9"/><stop offset="0.7509" stop-color="#009900"/><stop offset="0.7547" stop-color="#0085dd"/><stop offset="0.7584" stop-color="#0085dd"/><stop offset="0.7622" stop-color="#0000dd"/><stop offset="0.7659" stop-color="#0000dd"/><stop offset="0.7697" stop-color="#009900"/><stop offset="0.7734" stop-color="#008bdd"/><stop offset="0.7809" stop-color="#008bdd"/><stop offset="0.7846" stop-color="#009900"/><stop offset="0.7884" stop-color="#0000dd"/><stop offset="0.7921" stop-color="#0000dd"/><stop offset="0.7959" stop-color="#008bdd"/><stop offset="0.7996" stop-color="#008bdd"/><stop offset="0.8034" stop-color="#009900"/><stop offset="0.8071" stop-color="#0000dd"/><stop offset="0.8146" stop-color="#0000dd"/><stop offset="0.8184" stop-color="#0099dd"/><stop offset="0.8221" stop-color="#0000dd"/><stop offset="0.8258" stop-color="#0000dd"/><stop offset="0.8296" stop-color="#850096"/><stop offset="0.8858" stop-color="#820093"/><stop offset="0.9195" stop-color="#770088"/><stop offset="0.9644" stop-color="#0c000d"/><stop offset="0.9682" stop-color="#070008"/><stop offset="0.9981" stop-color="#000000"/></linearGradient><linearGradient id="R8" gradientUnits="userSpaceOnUse" x1="328.00" y1="0" x2="595.00" y2="0"><stop offset="0.0019" stop-color="#0000dd"/><stop offset="0.0056" stop-color="#2b0031"/><stop offset="0.0281" stop-color="#2b0031"/><stop offset="0.0318" stop-color="#1d0021"/><stop offset="0.1629" stop-color="#1d0021"/><stop offset="0.1667" stop-color="#200025"/><stop offset="0.1854" stop-color="#44004e"/><stop offset="0.1891" stop-color="#550061"/><stop offset="0.1929" stop-color="#710081"/><stop offset="0.1966" stop-color="#7a008b"/><stop offset="0.2041" stop-color="#850096"/><stop offset="0.2303" stop-color="#850096"/><stop offset="0.2341" stop-color="#0000b8"/><stop offset="0.2491" stop-color="#0000d9"/><stop offset="0.2528" stop-color="#000edd"/><stop offset="0.2640" stop-color="#0061dd"/><stop offset="0.2678" stop-color="#0079dd"/><stop offset="0.2753" stop-color="#0086dd"/><stop offset="0.2940" stop-color="#0099dd"/><stop offset="0.3165" stop-color="#00a4bc"/><stop offset="0.3352" stop-color="#00aaaa"/><stop offset="0.3839" stop-color="#00aa88"/><stop offset="0.4064" stop-color="#00a34d"/><stop offset="0.4363" stop-color="#009a05"/><stop offset="0.4401" stop-color="#009a00"/><stop offset="0.5225" stop-color="#00ba00"/><stop offset="0.5712" stop-color="#009a00"/><stop offset="0.5749" stop-color="#009a09"/><stop offset="0.6011" stop-color="#00a982"/><stop offset="0.6236" stop-color="#00aaa7"/><stop offset="0.6423" stop-color="#009bd8"/><stop offset="0.6461" stop-color="#0096dd"/><stop offset="0.6648" stop-color="#0077dd"/><stop offset="0.6798" stop-color="#0022dd"/><stop offset="0.6835" stop-color="#0016dd"/><stop offset="0.7022" stop-color="#0000dd"/><stop offset="0.7472" stop-color="#0000c9"/><stop offset="0.7509" stop-color="#009900"/><stop offset="0.7547" stop-color="#0085dd"/><stop offset="0.7584" stop-color="#0085dd"/><stop offset="0.7622" stop-color="#0000dd"/><stop offset="0.7659" stop-color="#0000dd"/><stop offset="0.7697" stop-color="#009900"/><stop offset="0.7734" stop-color="#008bdd"/><stop offset="0.7809" stop-color="#008bdd"/><stop offset="0.7846" stop-color="#009900"/><stop offset="0.7884" stop-color="#0000dd"/><stop offset="0.7921" stop-color="#0000dd"/><stop offset="0.7959" stop-color="#008bdd"/><stop offset="0.7996" stop-color="#008bdd"/><stop offset="0.8034" stop-color="#009900"/><stop offset="0.8071" stop-color="#0000dd"/><stop offset="0.8146" stop-color="#0000dd"/><stop offset="0.8184" stop-color="#0099dd"/><stop offset="0.8221" stop-color="#0000dd"/><stop offset="0.8258" stop-color="#0000dd"/><stop offset="0.8296" stop-color="#850096"/><stop offset="0.8858" stop-color="#820093"/><stop offset="0.9195" stop-color="#770088"/><stop offset="0.9644" stop-color="#0c000d"/><stop offset="0.9682" stop-color="#070008"/><stop offset="0.9981" stop-color="#000000"/></linearGradient><linearGradient id="R9" gradientUnits="userSpaceOnUse" x1="328.00" y1="0" x2="595.00" y2="0"><stop offset="0.0019" stop-color="#0000dd"/><stop offset="0.0056" stop-color="#2b0031"/><stop offset="0.0281" stop-color="#2b0031"/><stop offset="0.0318" stop-color="#1d0021"/><stop offset="0.1629" stop-color="#1d0021"/><stop offset="0.1667" stop-color="#200025"/><stop offset="0.1854" stop-color="#44004e"/><stop offset="0.1891" stop-color="#550061"/><stop offset="0.1929" stop-color="#710081"/><stop offset="0.1966" stop-color="#7a008b"/><stop offset="0.2041" stop-color="#850096"/><stop offset="0.2303" stop-color="#850096"/><stop offset="0.2341" stop-color="#0000b8"/><stop offset="0.2491" stop-color="#0000d9"/><stop offset="0.2528" stop-color="#000edd"/><stop offset="0.2640" stop-color="#0061dd"/><stop offset="0.2678" stop-color="#0079dd"/><stop offset="0.2753" stop-color="#0086dd"/><stop offset="0.2940" stop-color="#0099dd"/><stop offset="0.3315" stop-color="#00aaaa"/><stop offset="0.3727" stop-color="#00aa88"/><stop offset="0.3914" stop-color="#00a34d"/><stop offset="0.4213" stop-color="#009a05"/><stop offset="0.4251" stop-color="#009a00"/><stop offset="0.5225" stop-color="#00c800"/><stop offset="0.5712" stop-color="#009b00"/><stop offset="0.5749" stop-color="#009a09"/><stop offset="0.6011" stop-color="#00a982"/><stop offset="0.6236" stop-color="#00aaa7"/><stop offset="0.6423" stop-color="#009bd8"/><stop offset="0.6461" stop-color="#0096dd"/><stop offset="0.6648" stop-color="#0077dd"/><stop offset="0.6798" stop-color="#0022dd"/><stop offset="0.6835" stop-color="#0016dd"/><stop offset="0.7022" stop-color="#0000dd"/><stop offset="0.7472" stop-color="#0000c9"/><stop offset="0.7509" stop-color="#009900"/><stop offset="0.7547" stop-color="#0085dd"/><stop offset="0.7584" stop-color="#0085dd"/><stop offset="0.7622" stop-color="#0000dd"/><stop offset="0.7659" stop-color="#0000dd"/><stop offset="0.7697" stop-color="#009900"/><stop offset="0.7734" stop-color="#008bdd"/><stop offset="0.7809" stop-color="#008bdd"/><stop offset="0.7846" stop-color="#009900"/><stop offset="0.7884" stop-color="#0000dd"/><stop offset="0.7921" stop-color="#0000dd"/><stop offset="0.7959" stop-color="#008bdd"/><stop offset="0.7996" stop-color="#008bdd"/><stop offset="0.8034" stop-color="#009900"/><stop offset="0.8071" stop-color="#0000dd"/><stop offset="0.8146" stop-color="#0000dd"/><stop offset="0.8184" stop-color="#0099dd"/><stop offset="0.8221" stop-color="#0000dd"/><stop offset="0.8258" stop-color="#0000dd"/><stop offset="0.8296" stop-color="#850096"/><stop offset="0.8858" stop-color="#820093"/><stop offset="0.9195" stop-color="#770088"/><stop offset="0.9644" stop-color="#0c000d"/><stop offset="0.9682" stop-color="#070008"/><stop offset="0.9981" stop-color="#000000"/></linearGradient><linearGradient id="R10" gradientUnits="userSpaceOnUse" x1="328.00" y1="0" x2="595.00" y2="0"><stop offset="0.0019" stop-color="#0000dd"/><stop offset="0.0056" stop-color="#2b0031"/><stop offset="0.0281" stop-color="#2b0031"/><stop offset="0.0318" stop-color="#1d0021"/><stop offset="0.1629" stop-color="#1d0021"/><stop offset="0.1667" stop-color="#200025"/><stop offset="0.1854" stop-color="#44004e"/><stop offset="0.1891" stop-color="#550061"/><stop offset="0.1929" stop-color="#710081"/><stop offset="0.1966" stop-color="#7a008b"/><stop offset="0.2041" stop-color="#850096"/><stop offset="0.2303" stop-color="#850096"/><stop offset="0.2341" stop-color="#0000b9"/><stop offset="0.2453" stop-color="#0000d8"/><stop offset="0.2491" stop-color="#000edd"/><stop offset="0.2603" stop-color="#0061dd"/><stop offset="0.2640" stop-color="#0079dd"/><stop offset="0.2715" stop-color="#0086dd"/><stop offset="0.2903" stop-color="#0097dd"/><stop offset="0.3315" stop-color="#00a9ac"/><stop offset="0.3764" stop-color="#00aa8a"/><stop offset="0.3801" stop-color="#00a984"/><stop offset="0.3989" stop-color="#00a34d"/><stop offset="0.4288" stop-color="#009a05"/><stop offset="0.4326" stop-color="#009a00"/><stop offset="0.5225" stop-color="#00ba00"/><stop offset="0.5712" stop-color="#009a00"/><stop offset="0.5749" stop-color="#009a09"/><stop offset="0.6011" stop-color="#00a982"/><stop offset="0.6236" stop-color="#00aaa7"/><stop offset="0.6423" stop-color="#009bd8"/><stop offset="0.6461" stop-color="#0096dd"/><stop offset="0.6648" stop-color="#0077dd"/><stop offset="0.6798" stop-color="#0022dd"/><stop offset="0.6835" stop-color="#0016dd"/><stop offset="0.7022" stop-color="#0000dd"/><stop offset="0.7472" stop-color="#0000c9"/><stop offset="0.7509" stop-color="#009900"/><stop offset="0.7547" stop-color="#0085dd"/><stop offset="0.7584" stop-color="#0085dd"/><stop offset="0.7622" stop-color="#0000dd"/><stop offset="0.7659" stop-color="#0000dd"/><stop offset="0.7697" stop-color="#009900"/><stop offset="0.7734" stop-color="#008bdd"/><stop offset="0.7809" stop-color="#008bdd"/><stop offset="0.7846" stop-color="#009900"/><stop offset="0.7884" stop-color="#0000dd"/><stop offset="0.7921" stop-color="#0000dd"/><stop offset="0.7959" stop-color="#008bdd"/><stop offset="0.7996" stop-color="#008bdd"/><stop offset="0.8034" stop-color="#009900"/><stop offset="0.8071" stop-color="#0000dd"/><stop offset="0.8146" stop-color="#0000dd"/><stop offset="0.8184" stop-color="#0099dd"/><stop offset="0.8221" stop-color="#0000dd"/><stop offset="0.8258" stop-color="#0000dd"/><stop offset="0.8296" stop-color="#850096"/><stop offset="0.8858" stop-color="#820093"/><stop offset="0.9195" stop-color="#770088"/><stop offset="0.9644" stop-color="#0c000d"/><stop offset="0.9682" stop-color="#070008"/><stop offset="0.9981" stop-color="#000000"/></linearGradient><linearGradient id="R11" gradientUnits="userSpaceOnUse" x1="328.00" y1="0" x2="595.00" y2="0"><stop offset="0.0019" stop-color="#0000dd"/><stop offset="0.0056" stop-color="#2b0031"/><stop offset="0.0281" stop-color="#2b0031"/><stop offset="0.0318" stop-color="#1d0021"/><stop offset="0.1629" stop-color="#1d0021"/><stop offset="0.1667" stop-color="#200025"/><stop offset="0.1854" stop-color="#44004e"/><stop offset="0.1891" stop-color="#550061"/><stop offset="0.1929" stop-color="#710081"/><stop offset="0.1966" stop-color="#7a008b"/><stop offset="0.2041" stop-color="#850096"/><stop offset="0.2303" stop-color="#850096"/><stop offset="0.2341" stop-color="#0000b9"/><stop offset="0.2453" stop-color="#0000d8"/><stop offset="0.2491" stop-color="#000edd"/><stop offset="0.2603" stop-color="#0061dd"/><stop offset="0.2640" stop-color="#0079dd"/><stop offset="0.2715" stop-color="#0086dd"/><stop offset="0.2903" stop-color="#0097dd"/><stop offset="0.3315" stop-color="#00aaaa"/><stop offset="0.3727" stop-color="#00aa88"/><stop offset="0.3914" stop-color="#00a34d"/><stop offset="0.4213" stop-color="#009a05"/><stop offset="0.4251" stop-color="#009a00"/><stop offset="0.5225" stop-color="#00ba00"/><stop offset="0.5712" stop-color="#009a00"/><stop offset="0.5749" stop-color="#009a09"/><stop offset="0.6011" stop-color="#00a982"/><stop offset="0.6236" stop-color="#00aaa7"/><stop offset="0.6423" stop-color="#009bd8"/><stop offset="0.6461" stop-color="#0096dd"/><stop offset="0.6648" stop-color="#0077dd"/><stop offset="0.6798" stop-color="#0022dd"/><stop offset="0.6835" stop-color="#0016dd"/><stop offset="0.7022" stop-color="#0000dd"/><stop offset="0.7472" stop-color="#0000c9"/><stop offset="0.7509" stop-color="#009900"/><stop offset="0.7547" stop-color="#0085dd"/><stop offset="0.7584" stop-color="#0085dd"/><stop offset="0.7622" stop-color="#0000dd"/><stop offset="0.7659" stop-color="#0000dd"/><stop offset="0.7697" stop-color="#009900"/><stop offset="0.7734" stop-color="#008bdd"/><stop offset="0.7809" stop-color="#008bdd"/><stop offset="0.7846" stop-color="#009900"/><stop offset="0.7884" stop-color="#0000dd"/><stop offset="0.7921" stop-color="#0000dd"/><stop offset="0.7959" stop-color="#008bdd"/><stop offset="0.7996" stop-color="#008bdd"/><stop offset="0.8034" stop-color="#009900"/><stop offset="0.8071" stop-color="#0000dd"/><stop offset="0.8146" stop-color="#0000dd"/><stop offset="0.8184" stop-color="#0099dd"/><stop offset="0.8221" stop-color="#0000dd"/><stop offset="0.8258" stop-color="#0000dd"/><stop offset="0.8296" stop-color="#850096"/><stop offset="0.8858" stop-color="#820093"/><stop offset="0.9195" stop-color="#770088"/><stop offset="0.9644" stop-color="#0c000d"/><stop offset="0.9682" stop-color="#070008"/><stop offset="0.9981" stop-color="#000000"/></linearGradient><linearGradient id="R12" gradientUnits="userSpaceOnUse" x1="328.00" y1="0" x2="595.00" y2="0"><stop offset="0.0019" stop-color="#0000dd"/><stop offset="0.0056" stop-color="#2b0031"/><stop offset="0.0281" stop-color="#2b0031"/><stop offset="0.0318" stop-color="#1d0021"/><stop offset="0.1629" stop-color="#1d0021"/><stop offset="0.1667" stop-color="#200025"/><stop offset="0.1854" stop-color="#44004e"/><stop offset="0.1891" stop-color="#550061"/><stop offset="0.1929" stop-color="#710081"/><stop offset="0.1966" stop-color="#7a008b"/><stop offset="0.2041" stop-color="#850096"/><stop offset="0.2303" stop-color="#850096"/><stop offset="0.2341" stop-color="#0053dd"/><stop offset="0.2378" stop-color="#006bdd"/><stop offset="0.2416" stop-color="#007add"/><stop offset="0.2453" stop-color="#0081dd"/><stop offset="0.2790" stop-color="#0098dd"/><stop offset="0.3127" stop-color="#00a3c0"/><stop offset="0.3315" stop-color="#00aaaa"/><stop offset="0.3727" stop-color="#00aa88"/><stop offset="0.3914" stop-color="#00a34d"/><stop offset="0.4213" stop-color="#009a05"/><stop offset="0.4251" stop-color="#009a00"/><stop offset="0.5225" stop-color="#00ba00"/><stop offset="0.5712" stop-color="#009a00"/><stop offset="0.5749" stop-color="#009a09"/><stop offset="0.6011" stop-color="#00a982"/><stop offset="0.6236" stop-color="#00aaa7"/><stop offset="0.6423" stop-color="#009bd8"/><stop offset="0.6461" stop-color="#0096dd"/><stop offset="0.6648" stop-color="#0077dd"/><stop offset="0.6798" stop-color="#0022dd"/><stop offset="0.6835" stop-color="#0016dd"/><stop offset="0.7022" stop-color="#0000dd"/><stop offset="0.7472" stop-color="#0000c9"/><stop offset="0.7509" stop-color="#009900"/><stop offset="0.7547" stop-color="#0085dd"/><stop offset="0.7584" stop-color="#0085dd"/><stop offset="0.7622" stop-color="#0000dd"/><stop offset="0.7659" stop-color="#0000dd"/><stop offset="0.7697" stop-color="#009900"/><stop offset="0.7734" stop-color="#008bdd"/><stop offset="0.7809" stop-color="#008bdd"/><stop offset="0.7846" stop-color="#009900"/><stop offset="0.7884" stop-color="#0000dd"/><stop offset="0.7921" stop-color="#0000dd"/><stop offset="0.7959" stop-color="#008bdd"/><stop offset="0.7996" stop-color="#008bdd"/><stop offset="0.8034" stop-color="#009900"/><stop offset="0.8071" stop-color="#0000dd"/><stop offset="0.8146" stop-color="#0000dd"/><stop offset="0.8184" stop-color="#0099dd"/><stop offset="0.8221" stop-color="#0000dd"/><stop offset="0.8258" stop-color="#0000dd"/><stop offset="0.8296" stop-color="#850096"/><stop offset="0.8858" stop-color="#820093"/><stop offset="0.9195" stop-color="#770088"/><stop offset="0.9644" stop-color="#0c000d"/><stop offset="0.9682" stop-color="#070008"/><stop offset="0.9981" stop-color="#000000"/></linearGradient><linearGradient id="R13" gradientUnits="userSpaceOnUse" x1="328.00" y1="0" x2="595.00" y2="0"><stop offset="0.0019" stop-color="#0000dd"/><stop offset="0.0056" stop-color="#2b0031"/><stop offset="0.0281" stop-color="#2b0031"/><stop offset="0.0318" stop-color="#1d0021"/><stop offset="0.1629" stop-color="#1d0021"/><stop offset="0.1667" stop-color="#200025"/><stop offset="0.1854" stop-color="#44004e"/><stop offset="0.1891" stop-color="#550061"/><stop offset="0.1929" stop-color="#710081"/><stop offset="0.1966" stop-color="#7a008b"/><stop offset="0.2041" stop-color="#850096"/><stop offset="0.2303" stop-color="#850096"/><stop offset="0.2341" stop-color="#0000be"/><stop offset="0.2378" stop-color="#0000d3"/><stop offset="0.2416" stop-color="#000edd"/><stop offset="0.2528" stop-color="#0061dd"/><stop offset="0.2566" stop-color="#0079dd"/><stop offset="0.2640" stop-color="#0086dd"/><stop offset="0.2828" stop-color="#0097dd"/><stop offset="0.3202" stop-color="#00a9ad"/><stop offset="0.3577" stop-color="#00aa8a"/><stop offset="0.3614" stop-color="#00a981"/><stop offset="0.3764" stop-color="#00a34d"/><stop offset="0.4064" stop-color="#009a05"/><stop offset="0.4101" stop-color="#009a00"/><stop offset="0.5225" stop-color="#00c800"/><stop offset="0.5712" stop-color="#009b00"/><stop offset="0.5749" stop-color="#009a09"/><stop offset="0.6011" stop-color="#00a982"/><stop offset="0.6236" stop-color="#00aaa7"/><stop offset="0.6423" stop-color="#009bd8"/><stop offset="0.6461" stop-color="#0096dd"/><stop offset="0.6648" stop-color="#0077dd"/><stop offset="0.6798" stop-color="#0022dd"/><stop offset="0.6835" stop-color="#0016dd"/><stop offset="0.7022" stop-color="#0000dd"/><stop offset="0.7472" stop-color="#0000c9"/><stop offset="0.7509" stop-color="#009900"/><stop offset="0.7547" stop-color="#0085dd"/><stop offset="0.7584" stop-color="#0085dd"/><stop offset="0.7622" stop-color="#0000dd"/><stop offset="0.7659" stop-color="#0000dd"/><stop offset="0.7697" stop-color="#009900"/><stop offset="0.7734" stop-color="#008bdd"/><stop offset="0.7809" stop-color="#008bdd"/><stop offset="0.7846" stop-color="#009900"/><stop offset="0.7884" stop-color="#0000dd"/><stop offset="0.7921" stop-color="#0000dd"/><stop offset="0.7959" stop-color="#008bdd"/><stop offset="0.7996" stop-color="#008bdd"/><stop offset="0.8034" stop-color="#009900"/><stop offset="0.8071" stop-color="#0000dd"/><stop offset="0.8146" stop-color="#0000dd"/><stop offset="0.8184" stop-color="#0099dd"/><stop offset="0.8221" stop-color="#0000dd"/><stop offset="0.8258" stop-color="#0000dd"/><stop offset="0.8296" stop-color="#850096"/><stop offset="0.8858" stop-color="#820093"/><stop offset="0.9195" stop-color="#770088"/><stop offset="0.9644" stop-color="#0c000d"/><stop offset="0.9682" stop-color="#070008"/><stop offset="0.9981" stop-color="#000000"/></linearGradient><linearGradient id="R14" gradientUnits="userSpaceOnUse" x1="328.00" y1="0" x2="595.00" y2="0"><stop offset="0.0019" stop-color="#0000dd"/><stop offset="0.0056" stop-color="#2b0031"/><stop offset="0.0281" stop-color="#2b0031"/><stop offset="0.0318" stop-color="#1d0021"/><stop offset="0.1629" stop-color="#1d0021"/><stop offset="0.1667" stop-color="#200025"/><stop offset="0.1854" stop-color="#44004e"/><stop offset="0.1891" stop-color="#550061"/><stop offset="0.1929" stop-color="#710081"/><stop offset="0.1966" stop-color="#7a008b"/><stop offset="0.2041" stop-color="#850096"/><stop offset="0.2303" stop-color="#850096"/><stop offset="0.2341" stop-color="#0000b9"/><stop offset="0.2453" stop-color="#0000d8"/><stop offset="0.2491" stop-color="#000edd"/><stop offset="0.2603" stop-color="#0061dd"/><stop offset="0.2640" stop-color="#0079dd"/><stop offset="0.2715" stop-color="#0086dd"/><stop offset="0.2903" stop-color="#0097dd"/><stop offset="0.3315" stop-color="#00aaaa"/><stop offset="0.3727" stop-color="#00aa88"/><stop offset="0.3914" stop-color="#00a34d"/><stop offset="0.4213" stop-color="#009a05"/><stop offset="0.4251" stop-color="#009a00"/><stop offset="0.5225" stop-color="#00c800"/><stop offset="0.5712" stop-color="#009b00"/><stop offset="0.5749" stop-color="#009a09"/><stop offset="0.6011" stop-color="#00a982"/><stop offset="0.6236" stop-color="#00aaa7"/><stop offset="0.6423" stop-color="#009bd8"/><stop offset="0.6461" stop-color="#0096dd"/><stop offset="0.6648" stop-color="#0077dd"/><stop offset="0.6798" stop-color="#0022dd"/><stop offset="0.6835" stop-color="#0016dd"/><stop offset="0.7022" stop-color="#0000dd"/><stop offset="0.7472" stop-color="#0000c9"/><stop offset="0.7509" stop-color="#009900"/><stop offset="0.7547" stop-color="#0085dd"/><stop offset="0.7584" stop-color="#0085dd"/><stop offset="0.7622" stop-color="#0000dd"/><stop offset="0.7659" stop-color="#0000dd"/><stop offset="0.7697" stop-color="#009900"/><stop offset="0.7734" stop-color="#008bdd"/><stop offset="0.7809" stop-color="#008bdd"/><stop offset="0.7846" stop-color="#009900"/><stop offset="0.7884" stop-color="#0000dd"/><stop offset="0.7921" stop-color="#0000dd"/><stop offset="0.7959" stop-color="#008bdd"/><stop offset="0.7996" stop-color="#008bdd"/><stop offset="0.8034" stop-color="#009900"/><stop offset="0.8071" stop-color="#0000dd"/><stop offset="0.8146" stop-color="#0000dd"/><stop offset="0.8184" stop-color="#0099dd"/><stop offset="0.8221" stop-color="#0000dd"/><stop offset="0.8258" stop-color="#0000dd"/><stop offset="0.8296" stop-color="#850096"/><stop offset="0.8858" stop-color="#820093"/><stop offset="0.9195" stop-color="#770088"/><stop offset="0.9644" stop-color="#0c000d"/><stop offset="0.9682" stop-color="#070008"/><stop offset="0.9981" stop-color="#000000"/></linearGradient><linearGradient id="R15" gradientUnits="userSpaceOnUse" x1="328.00" y1="0" x2="595.00" y2="0"><stop offset="0.0019" stop-color="#0000dd"/><stop offset="0.0056" stop-color="#2b0031"/><stop offset="0.0281" stop-color="#2b0031"/><stop offset="0.0318" stop-color="#1d0021"/><stop offset="0.1629" stop-color="#1d0021"/><stop offset="0.1667" stop-color="#200025"/><stop offset="0.1854" stop-color="#44004e"/><stop offset="0.1891" stop-color="#550061"/><stop offset="0.1929" stop-color="#710081"/><stop offset="0.1966" stop-color="#7a008b"/><stop offset="0.2041" stop-color="#850096"/><stop offset="0.2303" stop-color="#850096"/><stop offset="0.2341" stop-color="#0000b8"/><stop offset="0.2491" stop-color="#0000d9"/><stop offset="0.2528" stop-color="#000edd"/><stop offset="0.2640" stop-color="#0061dd"/><stop offset="0.2678" stop-color="#0079dd"/><stop offset="0.2753" stop-color="#0086dd"/><stop offset="0.3015" stop-color="#0099dd"/><stop offset="0.3464" stop-color="#00aaaa"/><stop offset="0.3876" stop-color="#00aa88"/><stop offset="0.4064" stop-color="#00a34d"/><stop offset="0.4363" stop-color="#009a05"/><stop offset="0.4401" stop-color="#009a00"/><stop offset="0.5225" stop-color="#00ba00"/><stop offset="0.5712" stop-color="#009a00"/><stop offset="0.5749" stop-color="#009a09"/><stop offset="0.6011" stop-color="#00a982"/><stop offset="0.6236" stop-color="#00aaa7"/><stop offset="0.6423" stop-color="#009bd8"/><stop offset="0.6461" stop-color="#0096dd"/><stop offset="0.6648" stop-color="#0077dd"/><stop offset="0.6798" stop-color="#0022dd"/><stop offset="0.6835" stop-color="#0016dd"/><stop offset="0.7022" stop-color="#0000dd"/><stop offset="0.7472" stop-color="#0000c9"/><stop offset="0.7509" stop-color="#009900"/><stop offset="0.7547" stop-color="#0085dd"/><stop offset="0.7584" stop-color="#0085dd"/><stop offset="0.7622" stop-color="#0000dd"/><stop offset="0.7659" stop-color="#0000dd"/><stop offset="0.7697" stop-color="#009900"/><stop offset="0.7734" stop-color="#008bdd"/><stop offset="0.7809" stop-color="#008bdd"/><stop offset="0.7846" stop-color="#009900"/><stop offset="0.7884" stop-color="#0000dd"/><stop offset="0.7921" stop-color="#0000dd"/><stop offset="0.7959" stop-color="#008bdd"/><stop offset="0.7996" stop-color="#008bdd"/><stop offset="0.8034" stop-color="#009900"/><stop offset="0.8071" stop-color="#0000dd"/><stop offset="0.8146" stop-color="#0000dd"/><stop offset="0.8184" stop-color="#0099dd"/><stop offset="0.8221" stop-color="#0000dd"/><stop offset="0.8258" stop-color="#0000dd"/><stop offset="0.8296" stop-color="#850096"/><stop offset="0.8858" stop-color="#820093"/><stop offset="0.9195" stop-color="#770088"/><stop offset="0.9644" stop-color="#0c000d"/><stop offset="0.9682" stop-color="#070008"/><stop offset="0.9981" stop-color="#000000"/></linearGradient><linearGradient id="R16" gradientUnits="userSpaceOnUse" x1="328.00" y1="0" x2="595.00" y2="0"><stop offset="0.0019" stop-color="#0000dd"/><stop offset="0.0056" stop-color="#2b0031"/><stop offset="0.0281" stop-color="#2b0031"/><stop offset="0.0318" stop-color="#1d0021"/><stop offset="0.1629" stop-color="#1d0021"/><stop offset="0.1667" stop-color="#200025"/><stop offset="0.1854" stop-color="#44004e"/><stop offset="0.1891" stop-color="#550061"/><stop offset="0.1929" stop-color="#710081"/><stop offset="0.1966" stop-color="#7a008b"/><stop offset="0.2041" stop-color="#850096"/><stop offset="0.2303" stop-color="#850096"/><stop offset="0.2341" stop-color="#0000b9"/><stop offset="0.2453" stop-color="#0000d8"/><stop offset="0.2491" stop-color="#000edd"/><stop offset="0.2603" stop-color="#0061dd"/><stop offset="0.2640" stop-color="#0079dd"/><stop offset="0.2715" stop-color="#0086dd"/><stop offset="0.2903" stop-color="#0097dd"/><stop offset="0.3277" stop-color="#00a9ad"/><stop offset="0.3652" stop-color="#00aa8a"/><stop offset="0.3689" stop-color="#00a981"/><stop offset="0.3839" stop-color="#00a34d"/><stop offset="0.4139" stop-color="#009a05"/><stop offset="0.4176" stop-color="#009a00"/><stop offset="0.5225" stop-color="#00ba00"/><stop offset="0.5712" stop-color="#009a00"/><stop offset="0.5749" stop-color="#009a09"/><stop offset="0.6011" stop-color="#00a982"/><stop offset="0.6236" stop-color="#00aaa7"/><stop offset="0.6423" stop-color="#009bd8"/><stop offset="0.6461" stop-color="#0096dd"/><stop offset="0.6648" stop-color="#0077dd"/><stop offset="0.6798" stop-color="#0022dd"/><stop offset="0.6835" stop-color="#0016dd"/><stop offset="0.7022" stop-color="#0000dd"/><stop offset="0.7472" stop-color="#0000c9"/><stop offset="0.7509" stop-color="#009900"/><stop offset="0.7547" stop-color="#0085dd"/><stop offset="0.7584" stop-color="#0085dd"/><stop offset="0.7622" stop-color="#0000dd"/><stop offset="0.7659" stop-color="#0000dd"/><stop offset="0.7697" stop-color="#009900"/><stop offset="0.7734" stop-color="#008bdd"/><stop offset="0.7809" stop-color="#008bdd"/><stop offset="0.7846" stop-color="#009900"/><stop offset="0.7884" stop-color="#0000dd"/><stop offset="0.7921" stop-color="#0000dd"/><stop offset="0.7959" stop-color="#008bdd"/><stop offset="0.7996" stop-color="#008bdd"/><stop offset="0.8034" stop-color="#009900"/><stop offset="0.8071" stop-color="#0000dd"/><stop offset="0.8146" stop-color="#0000dd"/><stop offset="0.8184" stop-color="#0099dd"/><stop offset="0.8221" stop-color="#0000dd"/><stop offset="0.8258" stop-color="#0000dd"/><stop offset="0.8296" stop-color="#850096"/><stop offset="0.8858" stop-color="#820093"/><stop offset="0.9195" stop-color="#770088"/><stop offset="0.9644" stop-color="#0c000d"/><stop offset="0.9682" stop-color="#070008"/><stop offset="0.9981" stop-color="#000000"/></linearGradient><linearGradient id="R17" gradientUnits="userSpaceOnUse" x1="328.00" y1="0" x2="595.00" y2="0"><stop offset="0.0019" stop-color="#0000dd"/><stop offset="0.0056" stop-color="#2b0031"/><stop offset="0.0281" stop-color="#2b0031"/><stop offset="0.0318" stop-color="#1d0021"/><stop offset="0.1629" stop-color="#1d0021"/><stop offset="0.1667" stop-color="#200025"/><stop offset="0.1854" stop-color="#44004e"/><stop offset="0.1891" stop-color="#550061"/><stop offset="0.1929" stop-color="#710081"/><stop offset="0.1966" stop-color="#7a008b"/><stop offset="0.2041" stop-color="#850096"/><stop offset="0.2303" stop-color="#850096"/><stop offset="0.2341" stop-color="#0000b9"/><stop offset="0.2453" stop-color="#0000d8"/><stop offset="0.2491" stop-color="#000edd"/><stop offset="0.2603" stop-color="#0061dd"/><stop offset="0.2640" stop-color="#0079dd"/><stop offset="0.2715" stop-color="#0086dd"/><stop offset="0.2903" stop-color="#0097dd"/><stop offset="0.3277" stop-color="#00a9ad"/><stop offset="0.3652" stop-color="#00aa8a"/><stop offset="0.3689" stop-color="#00a981"/><stop offset="0.3839" stop-color="#00a34d"/><stop offset="0.4139" stop-color="#009a05"/><stop offset="0.4176" stop-color="#009a00"/><stop offset="0.5225" stop-color="#00d500"/><stop offset="0.5262" stop-color="#00d400"/><stop offset="0.5712" stop-color="#009b00"/><stop offset="0.5749" stop-color="#009a09"/><stop offset="0.6011" stop-color="#00a982"/><stop offset="0.6236" stop-color="#00aaa7"/><stop offset="0.6423" stop-color="#009bd8"/><stop offset="0.6461" stop-color="#0096dd"/><stop offset="0.6648" stop-color="#0077dd"/><stop offset="0.6798" stop-color="#0022dd"/><stop offset="0.6835" stop-color="#0016dd"/><stop offset="0.7022" stop-color="#0000dd"/><stop offset="0.7472" stop-color="#0000c9"/><stop offset="0.7509" stop-color="#009900"/><stop offset="0.7547" stop-color="#0085dd"/><stop offset="0.7584" stop-color="#0085dd"/><stop offset="0.7622" stop-color="#0000dd"/><stop offset="0.7659" stop-color="#0000dd"/><stop offset="0.7697" stop-color="#009900"/><stop offset="0.7734" stop-color="#008bdd"/><stop offset="0.7809" stop-color="#008bdd"/><stop offset="0.7846" stop-color="#009900"/><stop offset="0.7884" stop-color="#0000dd"/><stop offset="0.7921" stop-color="#0000dd"/><stop offset="0.7959" stop-color="#008bdd"/><stop offset="0.7996" stop-color="#008bdd"/><stop offset="0.8034" stop-color="#009900"/><stop offset="0.8071" stop-color="#0000dd"/><stop offset="0.8146" stop-color="#0000dd"/><stop offset="0.8184" stop-color="#0099dd"/><stop offset="0.8221" stop-color="#0000dd"/><stop offset="0.8258" stop-color="#0000dd"/><stop offset="0.8296" stop-color="#850096"/><stop offset="0.8858" stop-color="#820093"/><stop offset="0.9195" stop-color="#770088"/><stop offset="0.9644" stop-color="#0c000d"/><stop offset="0.9682" stop-color="#070008"/><stop offset="0.9981" stop-color="#000000"/></linearGradient><linearGradient id="R18" gradientUnits="userSpaceOnUse" x1="328.00" y1="0" x2="595.00" y2="0"><stop offset="0.0019" stop-color="#0000dd"/><stop offset="0.0056" stop-color="#2b0031"/><stop offset="0.0281" stop-color="#2b0031"/><stop offset="0.0318" stop-color="#1d0021"/><stop offset="0.1629" stop-color="#1d0021"/><stop offset="0.1667" stop-color="#200025"/><stop offset="0.1854" stop-color="#44004e"/><stop offset="0.1891" stop-color="#550061"/><stop offset="0.1929" stop-color="#710081"/><stop offset="0.1966" stop-color="#7a008b"/><stop offset="0.2041" stop-color="#850096"/><stop offset="0.2303" stop-color="#850096"/><stop offset="0.2341" stop-color="#0000b9"/><stop offset="0.2453" stop-color="#0000d8"/><stop offset="0.2491" stop-color="#000edd"/><stop offset="0.2603" stop-color="#0061dd"/><stop offset="0.2640" stop-color="#0079dd"/><stop offset="0.2715" stop-color="#0086dd"/><stop offset="0.2940" stop-color="#0098dd"/><stop offset="0.3390" stop-color="#00a9ac"/><stop offset="0.3839" stop-color="#00aa8a"/><stop offset="0.3876" stop-color="#00a984"/><stop offset="0.4064" stop-color="#00a34d"/><stop offset="0.4363" stop-color="#009a05"/><stop offset="0.4401" stop-color="#009a00"/><stop offset="0.5225" stop-color="#00ba00"/><stop offset="0.5712" stop-color="#009a00"/><stop offset="0.5749" stop-color="#009a09"/><stop offset="0.6011" stop-color="#00a982"/><stop offset="0.6236" stop-color="#00aaa7"/><stop offset="0.6423" stop-color="#009bd8"/><stop offset="0.6461" stop-color="#0096dd"/><stop offset="0.6648" stop-color="#0077dd"/><stop offset="0.6798" stop-color="#0022dd"/><stop offset="0.6835" stop-color="#0016dd"/><stop offset="0.7022" stop-color="#0000dd"/><stop offset="0.7472" stop-color="#0000c9"/><stop offset="0.7509" stop-color="#009900"/><stop offset="0.7547" stop-color="#0085dd"/><stop offset="0.7584" stop-color="#0085dd"/><stop offset="0.7622" stop-color="#0000dd"/><stop offset="0.7659" stop-color="#0000dd"/><stop offset="0.7697" stop-color="#009900"/><stop offset="0.7734" stop-color="#008bdd"/><stop offset="0.7809" stop-color="#008bdd"/><stop offset="0.7846" stop-color="#009900"/><stop offset="0.7884" stop-color="#0000dd"/><stop offset="0.7921" stop-color="#0000dd"/><stop offset="0.7959" stop-color="#008bdd"/><stop offset="0.7996" stop-color="#008bdd"/><stop offset="0.8034" stop-color="#009900"/><stop offset="0.8071" stop-color="#0000dd"/><stop offset="0.8146" stop-color="#0000dd"/><stop offset="0.8184" stop-color="#0099dd"/><stop offset="0.8221" stop-color="#0000dd"/><stop offset="0.8258" stop-color="#0000dd"/><stop offset="0.8296" stop-color="#850096"/><stop offset="0.8858" stop-color="#820093"/><stop offset="0.9195" stop-color="#770088"/><stop offset="0.9644" stop-color="#0c000d"/><stop offset="0.9682" stop-color="#070008"/><stop offset="0.9981" stop-color="#000000"/></linearGradient><linearGradient id="R19" gradientUnits="userSpaceOnUse" x1="328.00" y1="0" x2="595.00" y2="0"><stop offset="0.0019" stop-color="#830094"/><stop offset="0.9644" stop-color="#830094"/><stop offset="0.9981" stop-color="#7b008c"/></linearGradient><linearGradient id="R20" gradientUnits="userSpaceOnUse" x1="328.00" y1="0" x2="595.00" y2="0"><stop offset="0.0019" stop-color="#830094"/><stop offset="0.9644" stop-color="#830094"/><stop offset="0.9981" stop-color="#7b008c"/></linearGradient><linearGradient id="R21" gradientUnits="userSpaceOnUse" x1="328.00" y1="0" x2="595.00" y2="0"><stop offset="0.0019" stop-color="#0099dd"/><stop offset="0.0056" stop-color="#2b0031"/><stop offset="0.0730" stop-color="#2b0031"/><stop offset="0.0768" stop-color="#1d0021"/><stop offset="0.1629" stop-color="#1d0021"/><stop offset="0.1667" stop-color="#2e0034"/><stop offset="0.1742" stop-color="#730083"/><stop offset="0.1816" stop-color="#810092"/><stop offset="0.1929" stop-color="#850096"/><stop offset="0.1966" stop-color="#0005dd"/><stop offset="0.2041" stop-color="#0077dd"/><stop offset="0.2116" stop-color="#0096dd"/><stop offset="0.2154" stop-color="#009fca"/><stop offset="0.2191" stop-color="#00aaa8"/><stop offset="0.2228" stop-color="#00aa88"/><stop offset="0.2266" stop-color="#009a09"/><stop offset="0.2303" stop-color="#00ab00"/><stop offset="0.2528" stop-color="#00df00"/><stop offset="0.2790" stop-color="#00fd00"/><stop offset="0.2828" stop-color="#07ff00"/><stop offset="0.3165" stop-color="#8eff00"/><stop offset="0.3202" stop-color="#98ff00"/><stop offset="0.3464" stop-color="#bbff00"/><stop offset="0.3764" stop-color="#c5fc00"/><stop offset="0.4625" stop-color="#c0fd00"/><stop offset="0.4700" stop-color="#bbff00"/><stop offset="0.5262" stop-color="#06ff00"/><stop offset="0.5300" stop-color="#00fe00"/><stop offset="0.5524" stop-color="#00f000"/><stop offset="0.5974" stop-color="#00ca00"/><stop offset="0.6348" stop-color="#009c00"/><stop offset="0.6386" stop-color="#009903"/><stop offset="0.6610" stop-color="#00a665"/><stop offset="0.6685" stop-color="#00aa8a"/><stop offset="0.6873" stop-color="#00aaa9"/><stop offset="0.7022" stop-color="#009fcb"/><stop offset="0.7210" stop-color="#0098dd"/><stop offset="0.7472" stop-color="#0085dd"/><stop offset="0.7509" stop-color="#009900"/><stop offset="0.7547" stop-color="#0085dd"/><stop offset="0.7659" stop-color="#0085dd"/><stop offset="0.7697" stop-color="#009900"/><stop offset="0.7734" stop-color="#008bdd"/><stop offset="0.7809" stop-color="#008bdd"/><stop offset="0.7846" stop-color="#009900"/><stop offset="0.7884" stop-color="#0085dd"/><stop offset="0.7996" stop-color="#008bdd"/><stop offset="0.8034" stop-color="#009900"/><stop offset="0.8071" stop-color="#0085dd"/><stop offset="0.8146" stop-color="#0085dd"/><stop offset="0.8184" stop-color="#0099dd"/><stop offset="0.8221" stop-color="#0085dd"/><stop offset="0.8258" stop-color="#0085dd"/><stop offset="0.8296" stop-color="#0000dd"/><stop offset="0.9045" stop-color="#0000dd"/><stop offset="0.9082" stop-color="#850096"/><stop offset="0.9345" stop-color="#850096"/><stop offset="0.9494" stop-color="#79008a"/><stop offset="0.9532" stop-color="#6b007a"/><stop offset="0.9607" stop-color="#3c0044"/><stop offset="0.9644" stop-color="#28002d"/><stop offset="0.9719" stop-color="#080009"/><stop offset="0.9757" stop-color="#000000"/><stop offset="0.9981" stop-color="#000000"/></linearGradient></defs>
<rect x="48.00" y="28.00" width="267" height="16.72" fill="url(#L0)"/><rect x="48.00" y="44.70" width="267" height="16.72" fill="url(#L1)"/><rect x="48.00" y="61.41" width="267" height="16.72" fill="url(#L2)"/><rect x="48.00" y="78.11" width="267" height="16.72" fill="url(#L3)"/><rect x="48.00" y="94.82" width="267" height="16.72" fill="url(#L4)"/><rect x="48.00" y="111.52" width="267" height="16.72" fill="url(#L5)"/><rect x="48.00" y="128.23" width="267" height="16.72" fill="url(#L6)"/><rect x="48.00" y="144.93" width="267" height="16.72" fill="url(#L7)"/><rect x="48.00" y="161.64" width="267" height="16.72" fill="url(#L8)"/><rect x="48.00" y="178.34" width="267" height="16.72" fill="url(#L9)"/><rect x="48.00" y="195.05" width="267" height="16.72" fill="url(#L10)"/><rect x="48.00" y="211.75" width="267" height="16.72" fill="url(#L11)"/><rect x="48.00" y="228.45" width="267" height="16.72" fill="url(#L12)"/><rect x="48.00" y="245.16" width="267" height="16.72" fill="url(#L13)"/><rect x="48.00" y="261.86" width="267" height="16.72" fill="url(#L14)"/><rect x="48.00" y="278.57" width="267" height="16.72" fill="url(#L15)"/><rect x="48.00" y="295.27" width="267" height="16.72" fill="url(#L16)"/><rect x="48.00" y="311.98" width="267" height="16.72" fill="url(#L17)"/><rect x="48.00" y="328.68" width="267" height="16.72" fill="url(#L18)"/><rect x="48.00" y="345.39" width="267" height="16.72" fill="url(#L19)"/><rect x="48.00" y="362.09" width="267" height="16.72" fill="url(#L20)"/><rect x="48.00" y="378.80" width="267" height="16.72" fill="url(#L21)"/><rect x="328.00" y="28.00" width="267" height="16.72" fill="url(#R0)"/><rect x="328.00" y="44.70" width="267" height="16.72" fill="url(#R1)"/><rect x="328.00" y="61.41" width="267" height="16.72" fill="url(#R2)"/><rect x="328.00" y="78.11" width="267" height="16.72" fill="url(#R3)"/><rect x="328.00" y="94.82" width="267" height="16.72" fill="url(#R4)"/><rect x="328.00" y="111.52" width="267" height="16.72" fill="url(#R5)"/><rect x="328.00" y="128.23" width="267" height="16.72" fill="url(#R6)"/><rect x="328.00" y="144.93" width="267" height="16.72" fill="url(#R7)"/><rect x="328.00" y="161.64" width="267" height="16.72" fill="url(#R8)"/><rect x="328.00" y="178.34" width="267" height="16.72" fill="url(#R9)"/><rect x="328.00" y="195.05" width="267" height="16.72" fill="url(#R10)"/><rect x="328.00" y="211.75" width="267" height="16.72" fill="url(#R11)"/><rect x="328.00" y="228.45" width="267" height="16.72" fill="url(#R12)"/><rect x="328.00" y="245.16" width="267" height="16.72" fill="url(#R13)"/><rect x="328.00" y="261.86" width="267" height="16.72" fill="url(#R14)"/><rect x="328.00" y="278.57" width="267" height="16.72" fill="url(#R15)"/><rect x="328.00" y="295.27" width="267" height="16.72" fill="url(#R16)"/><rect x="328.00" y="311.98" width="267" height="16.72" fill="url(#R17)"/><rect x="328.00" y="328.68" width="267" height="16.72" fill="url(#R18)"/><rect x="328.00" y="345.39" width="267" height="16.72" fill="url(#R19)"/><rect x="328.00" y="362.09" width="267" height="16.72" fill="url(#R20)"/><rect x="328.00" y="378.80" width="267" height="16.72" fill="url(#R21)"/><rect x="152.0" y="212.0" width="1.2" height="16.5" fill="#c8ff00"/><rect x="160.2" y="195.0" width="1.2" height="33.0" fill="#c8ff00"/><rect x="160.2" y="228.0" width="1.2" height="34.0" fill="#009900"/><rect x="149.0" y="362.0" width="1.2" height="16.7" fill="#ff3800"/><rect x="432.6" y="195.0" width="1.8" height="16.6" fill="#d8f000"/><rect x="432.6" y="211.6" width="1.8" height="16.6" fill="#00bb00"/><rect x="439.6" y="190.0" width="1.8" height="38.0" fill="#ff5000"/><rect x="439.6" y="228.0" width="1.6" height="34.0" fill="#00f100"/><rect x="556.5" y="28.0" width="2.0" height="16.7" fill="#0099dd"/><rect x="276.0" y="161.6" width="2.4" height="16.7" fill="#0000dd"/><rect x="276.0" y="178.3" width="2.4" height="28.0" fill="#008bdd"/><rect x="101.0" y="43.8" width="180.0" height="1.0" fill="#0000c9"/><rect x="111.0" y="77.8" width="158.0" height="1.0" fill="#0000dd"/><rect x="111.0" y="344.6" width="158.0" height="1.0" fill="#0000dd"/><rect x="101.0" y="362.2" width="180.0" height="1.0" fill="#0000dd"/><rect x="382.0" y="61.3" width="166.0" height="1.0" fill="#0000dd"/><rect x="390.0" y="77.8" width="158.0" height="1.0" fill="#0000dd"/><rect x="390.0" y="344.6" width="158.0" height="1.0" fill="#0000dd"/><rect x="380.0" y="378.4" width="168.0" height="1.0" fill="#0000dd"/><rect x="556.4" y="144.9" width="2.8" height="11.0" fill="#0000dd"/><rect x="556.4" y="156.0" width="2.8" height="5.6" fill="#008bdd"/><rect x="556.4" y="161.6" width="2.8" height="16.7" fill="#00aa96"/><rect x="556.4" y="178.3" width="2.8" height="4.0" fill="#0000dd"/>
<text x="32" y="42.4" font-size="14.3" text-anchor="end" fill="#000">On</text><text x="612.2" y="42.4" font-size="14.3" fill="#000">On</text><text x="32" y="59.1" font-size="14.3" text-anchor="end" fill="#000">Y</text><text x="612.2" y="59.1" font-size="14.3" fill="#000">Y</text><text x="32" y="75.8" font-size="14.3" text-anchor="end" fill="#000">Off</text><text x="612.2" y="75.8" font-size="14.3" fill="#000">Off</text><text x="32" y="92.5" font-size="14.3" text-anchor="end" fill="#000">P</text><text x="612.2" y="92.5" font-size="14.3" fill="#000">P</text><text x="32" y="109.2" font-size="14.3" text-anchor="end" fill="#000">O</text><text x="612.2" y="109.2" font-size="14.3" fill="#000">O</text><text x="32" y="125.9" font-size="14.3" text-anchor="end" fill="#000">N</text><text x="612.2" y="125.9" font-size="14.3" fill="#000">N</text><text x="32" y="142.6" font-size="14.3" text-anchor="end" fill="#000">M</text><text x="612.2" y="142.6" font-size="14.3" fill="#000">M</text><text x="32" y="159.3" font-size="14.3" text-anchor="end" fill="#000">L</text><text x="612.2" y="159.3" font-size="14.3" fill="#000">L</text><text x="32" y="176.0" font-size="14.3" text-anchor="end" fill="#000">K</text><text x="612.2" y="176.0" font-size="14.3" fill="#000">K</text><text x="32" y="192.7" font-size="14.3" text-anchor="end" fill="#000">J</text><text x="612.2" y="192.7" font-size="14.3" fill="#000">J</text><text x="32" y="209.4" font-size="14.3" text-anchor="end" fill="#000">I</text><text x="612.2" y="209.4" font-size="14.3" fill="#000">I</text><text x="32" y="226.1" font-size="14.3" text-anchor="end" fill="#000">H</text><text x="612.2" y="226.1" font-size="14.3" fill="#000">H</text><text x="32" y="242.8" font-size="14.3" text-anchor="end" fill="#000">G</text><text x="612.2" y="242.8" font-size="14.3" fill="#000">G</text><text x="32" y="259.5" font-size="14.3" text-anchor="end" fill="#000">F</text><text x="612.2" y="259.5" font-size="14.3" fill="#000">F</text><text x="32" y="276.2" font-size="14.3" text-anchor="end" fill="#000">E</text><text x="612.2" y="276.2" font-size="14.3" fill="#000">E</text><text x="32" y="292.9" font-size="14.3" text-anchor="end" fill="#000">D</text><text x="612.2" y="292.9" font-size="14.3" fill="#000">D</text><text x="32" y="309.6" font-size="14.3" text-anchor="end" fill="#000">C</text><text x="612.2" y="309.6" font-size="14.3" fill="#000">C</text><text x="32" y="326.3" font-size="14.3" text-anchor="end" fill="#000">B</text><text x="612.2" y="326.3" font-size="14.3" fill="#000">B</text><text x="32" y="343.0" font-size="14.3" text-anchor="end" fill="#000">A</text><text x="612.2" y="343.0" font-size="14.3" fill="#000">A</text><text x="32" y="359.7" font-size="14.3" text-anchor="end" fill="#000">Off</text><text x="612.2" y="359.7" font-size="14.3" fill="#000">Off</text><text x="32" y="376.4" font-size="14.3" text-anchor="end" fill="#000">X</text><text x="612.2" y="376.4" font-size="14.3" fill="#000">X</text><text x="32" y="393.1" font-size="14.3" text-anchor="end" fill="#000">On</text><text x="612.2" y="393.1" font-size="14.3" fill="#000">On</text><text transform="translate(3.4,217) rotate(-90)" font-size="15" text-anchor="middle" fill="#000">Dipole</text><text x="182" y="16.2" font-size="18.9" text-anchor="middle" fill="#000">28.4 (HexS32=1068) X</text><text x="462" y="16.2" font-size="18.9" text-anchor="middle" fill="#000">28.4 (HexS32=1068) Y</text><rect x="48.0" y="408.2" width="1.2" height="5.4" fill="#000" shape-rendering="auto"/><text x="48.6" y="425.8" font-size="10.5" text-anchor="middle" fill="#000">0</text><rect x="88.9" y="408.2" width="1.2" height="5.4" fill="#000" shape-rendering="auto"/><text x="89.5" y="425.8" font-size="10.5" text-anchor="middle" fill="#000">50</text><rect x="129.8" y="408.2" width="1.2" height="5.4" fill="#000" shape-rendering="auto"/><text x="130.4" y="425.8" font-size="10.5" text-anchor="middle" fill="#000">100</text><rect x="170.7" y="408.2" width="1.2" height="5.4" fill="#000" shape-rendering="auto"/><text x="171.3" y="425.8" font-size="10.5" text-anchor="middle" fill="#000">150</text><rect x="211.6" y="408.2" width="1.2" height="5.4" fill="#000" shape-rendering="auto"/><text x="212.2" y="425.8" font-size="10.5" text-anchor="middle" fill="#000">200</text><rect x="252.5" y="408.2" width="1.2" height="5.4" fill="#000" shape-rendering="auto"/><text x="253.1" y="425.8" font-size="10.5" text-anchor="middle" fill="#000">250</text><rect x="293.4" y="408.2" width="1.2" height="5.4" fill="#000" shape-rendering="auto"/><text x="294.0" y="425.8" font-size="10.5" text-anchor="middle" fill="#000">300</text><rect x="328.0" y="408.2" width="1.2" height="5.4" fill="#000" shape-rendering="auto"/><text x="328.6" y="425.8" font-size="10.5" text-anchor="middle" fill="#000">0</text><rect x="368.9" y="408.2" width="1.2" height="5.4" fill="#000" shape-rendering="auto"/><text x="369.5" y="425.8" font-size="10.5" text-anchor="middle" fill="#000">50</text><rect x="409.8" y="408.2" width="1.2" height="5.4" fill="#000" shape-rendering="auto"/><text x="410.4" y="425.8" font-size="10.5" text-anchor="middle" fill="#000">100</text><rect x="450.7" y="408.2" width="1.2" height="5.4" fill="#000" shape-rendering="auto"/><text x="451.3" y="425.8" font-size="10.5" text-anchor="middle" fill="#000">150</text><rect x="491.6" y="408.2" width="1.2" height="5.4" fill="#000" shape-rendering="auto"/><text x="492.2" y="425.8" font-size="10.5" text-anchor="middle" fill="#000">200</text><rect x="532.5" y="408.2" width="1.2" height="5.4" fill="#000" shape-rendering="auto"/><text x="533.1" y="425.8" font-size="10.5" text-anchor="middle" fill="#000">250</text><rect x="573.4" y="408.2" width="1.2" height="5.4" fill="#000" shape-rendering="auto"/><text x="574.0" y="425.8" font-size="10.5" text-anchor="middle" fill="#000">300</text><g fill="#fff" stroke="#fff" stroke-linejoin="round" shape-rendering="auto"><g fill="none"><polyline points="48.0,301.5 52.4,301.5 56.8,301.5 61.2,301.5 65.6,301.5 70.0,301.5 74.4,301.5 78.8,301.5 83.2,301.5 87.6,301.5 92.0,301.5 92.4,301.4 92.8,301.3 93.2,301.2 93.6,301.1 94.0,301.0 94.4,300.9 94.8,300.8 95.2,300.7 95.6,300.6 96.0,300.5 96.3,300.2 96.6,300.0 96.9,299.8 97.2,299.5 97.5,299.2 97.8,299.0 98.1,298.8 98.4,298.5 98.7,298.2 99.0,298.0 99.3,297.4 99.6,296.8 99.9,296.2 100.2,295.6 100.5,295.0 100.8,294.4 101.1,293.8 101.4,293.2 101.7,292.6 102.0,292.0 102.3,291.2 102.6,290.4 102.9,289.6 103.2,288.8 103.5,288.0 103.8,287.2 104.1,286.4 104.4,285.6 104.7,284.8 105.0,284.0 105.5,281.8 106.0,279.6 106.5,277.4 107.0,275.2 107.5,273.0 108.0,270.8 108.5,268.6 109.0,266.4 109.5,264.2 110.0,262.0 110.5,259.8 110.9,257.6 111.3,255.4 111.8,253.2 112.2,251.0 112.7,248.8 113.2,246.6 113.6,244.4 114.0,242.2 114.5,240.0 115.0,239.0 115.4,238.0 115.8,237.0 116.3,236.0 116.8,235.0 117.2,234.0 117.7,233.0 118.1,232.0 118.6,231.0 119.0,230.0 119.7,228.2 120.4,226.4 121.1,224.6 121.8,222.8 122.5,221.0 123.2,219.2 123.9,217.4 124.6,215.6 125.3,213.8 126.0,212.0 126.9,210.4 127.8,208.8 128.7,207.2 129.6,205.6 130.5,204.0 131.4,202.4 132.3,200.8 133.2,199.2 134.1,197.6 135.0,196.0 135.6,195.5 136.1,195.0 136.7,194.5 137.2,194.0 137.8,193.5 138.3,193.0 138.8,192.5 139.4,192.0 139.9,191.5 140.5,191.0 141.7,190.3 142.9,189.6 144.1,188.8 145.3,188.1 146.5,187.4 147.7,186.7 148.9,185.9 150.1,185.2 151.3,184.5 152.5,183.8 153.8,182.4 155.0,181.0 156.2,179.6 157.5,178.2 158.8,176.9 160.0,175.5 161.2,174.1 162.5,172.8 163.8,171.4 165.0,170.0 165.5,169.8 166.0,169.5 166.5,169.2 167.0,169.0 167.5,168.8 168.0,168.5 168.5,168.2 169.0,168.0 169.5,167.8 170.0,167.5 170.6,166.9 171.2,166.4 171.9,165.8 172.5,165.3 173.1,164.7 173.8,164.1 174.4,163.6 175.0,163.0 175.6,162.5 176.2,161.9 176.8,162.2 177.2,162.4 177.8,162.7 178.2,162.9 178.8,163.2 179.2,163.4 179.8,163.7 180.2,163.9 180.8,164.2 181.2,164.4 181.8,164.2 182.2,163.9 182.8,163.7 183.2,163.4 183.8,163.2 184.2,162.9 184.8,162.7 185.2,162.4 185.8,162.2 186.2,161.9 186.8,162.5 187.2,163.0 187.8,163.6 188.2,164.1 188.8,164.7 189.2,165.3 189.8,165.8 190.2,166.4 190.8,166.9 191.2,167.5 191.8,167.9 192.2,168.2 192.8,168.6 193.2,169.0 193.8,169.4 194.2,169.8 194.8,170.1 195.2,170.5 195.8,170.9 196.2,171.2 196.9,172.3 197.6,173.4 198.3,174.5 198.9,175.6 199.6,176.6 200.3,177.7 201.0,178.8 201.7,179.8 202.3,180.9 203.0,182.0 203.8,183.4 204.6,184.8 205.4,186.2 206.2,187.6 207.0,189.0 207.8,190.4 208.6,191.8 209.4,193.2 210.2,194.6 211.0,196.0 211.9,197.6 212.7,199.2 213.5,200.8 214.4,202.4 215.2,204.0 216.1,205.6 216.9,207.2 217.8,208.8 218.7,210.4 219.5,212.0 220.2,213.8 220.8,215.6 221.4,217.4 222.1,219.2 222.8,221.0 223.4,222.8 224.1,224.6 224.7,226.4 225.3,228.2 226.0,230.0 226.5,231.0 227.0,232.0 227.5,233.0 228.0,234.0 228.5,235.0 229.0,236.0 229.5,237.0 230.0,238.0 230.5,239.0 231.0,240.0 231.9,240.8 232.8,241.6 233.7,242.4 234.6,243.2 235.5,244.0 236.4,244.8 237.3,245.6 238.2,246.4 239.1,247.2 240.0,248.0 240.6,249.0 241.2,250.0 241.8,251.0 242.4,252.0 243.0,253.0 243.6,254.0 244.2,255.0 244.8,256.0 245.4,257.0 246.0,258.0" stroke-width="2.5"/><polyline points="48.0,301.5 52.5,301.5 56.9,301.5 61.4,301.5 65.8,301.5 70.3,301.5 74.8,301.5 79.2,301.5 83.7,301.5 88.1,301.5 92.6,301.5 93.0,301.4 93.5,301.3 93.9,301.2 94.3,301.2 94.8,301.1 95.2,301.0 95.6,300.9 96.0,300.8 96.5,300.7 96.9,300.6 97.2,300.4 97.5,300.2 97.8,299.9 98.1,299.7 98.4,299.5 98.7,299.2 99.0,299.0 99.3,298.8 99.6,298.5 99.9,298.3 100.2,297.8 100.5,297.2 100.8,296.7 101.1,296.1 101.4,295.6 101.7,295.1 102.0,294.5 102.3,294.0 102.6,293.4 102.9,292.9 103.2,292.2 103.5,291.4 103.8,290.7 104.1,289.9 104.4,289.2 104.7,288.5 105.0,287.7 105.3,287.0 105.6,286.2 105.9,285.5 106.3,283.8 106.8,282.0 107.2,280.2 107.7,278.5 108.1,276.8 108.5,275.0 109.0,273.2 109.4,271.5 109.9,269.7 110.3,268.0 110.8,265.9 111.2,263.7 111.7,261.6 112.2,259.4 112.6,257.3 113.1,255.2 113.6,253.0 114.0,250.9 114.5,248.7 114.9,246.6 115.5,245.2 116.1,243.9 116.6,242.5 117.2,241.2 117.7,239.8 118.3,238.4 118.8,237.1 119.4,235.7 119.9,234.4 120.5,233.0 121.2,231.4 121.8,229.9 122.5,228.3 123.2,226.8 123.8,225.2 124.5,223.6 125.2,222.1 125.9,220.5 126.5,219.0 127.2,217.4 128.1,215.7 129.0,214.1 129.9,212.4 130.9,210.8 131.8,209.1 132.7,207.4 133.6,205.8 134.5,204.1 135.4,202.5 136.3,200.8 137.2,200.0 138.0,199.1 138.8,198.3 139.6,197.5 140.4,196.6 141.3,195.8 142.1,195.0 142.9,194.2 143.7,193.3 144.5,192.5 145.7,191.8 146.9,191.0 148.1,190.3 149.2,189.5 150.4,188.8 151.6,188.0 152.7,187.3 153.9,186.5 155.1,185.8 156.2,185.0 157.3,184.0 158.4,183.1 159.4,182.1 160.5,181.1 161.6,180.1 162.6,179.2 163.7,178.2 164.8,177.2 165.8,176.2 166.9,175.2 167.3,175.0 167.8,174.8 168.3,174.5 168.7,174.2 169.2,174.0 169.6,173.8 170.1,173.5 170.6,173.2 171.0,173.0 171.5,172.8 172.0,172.3 172.5,171.8 173.0,171.3 173.5,170.9 174.1,170.4 174.6,169.9 175.1,169.5 175.6,169.0 176.1,168.5 176.6,168.1 177.1,168.2 177.6,168.3 178.1,168.5 178.6,168.6 179.0,168.7 179.5,168.9 180.0,169.0 180.5,169.1 181.0,169.2 181.5,169.4 182.0,169.1 182.5,168.9 183.0,168.7 183.5,168.4 184.0,168.2 184.5,167.9 185.0,167.7 185.5,167.4 185.9,167.2 186.4,167.0 187.0,167.5 187.6,168.0 188.1,168.5 188.7,169.0 189.2,169.5 189.8,170.0 190.3,170.5 190.9,171.0 191.4,171.5 192.0,172.0 192.5,172.4 193.0,172.8 193.5,173.2 194.0,173.7 194.5,174.1 195.0,174.5 195.5,174.9 196.0,175.3 196.5,175.7 197.0,176.1 197.6,177.1 198.1,178.1 198.7,179.1 199.3,180.2 199.8,181.2 200.4,182.2 201.0,183.2 201.6,184.2 202.1,185.2 202.7,186.2 203.5,187.7 204.3,189.1 205.1,190.6 206.0,192.0 206.8,193.5 207.6,195.0 208.4,196.4 209.2,197.9 210.0,199.3 210.8,200.8 211.7,202.5 212.5,204.1 213.3,205.8 214.1,207.4 214.9,209.1 215.8,210.8 216.6,212.4 217.4,214.1 218.2,215.7 219.0,217.4 219.6,219.0 220.2,220.5 220.8,222.1 221.3,223.6 221.9,225.2 222.5,226.8 223.1,228.3 223.6,229.9 224.2,231.4 224.8,233.0 225.6,234.1 226.3,235.1 227.1,236.2 227.9,237.2 228.6,238.3 229.4,239.4 230.2,240.4 231.0,241.5 231.7,242.5 232.5,243.6 233.2,244.5 234.0,245.3 234.7,246.2 235.5,247.0 236.2,247.9 237.0,248.8 237.8,249.6 238.5,250.5 239.2,251.3 240.0,252.2 240.6,253.1 241.2,254.1 241.8,255.0 242.4,256.0 243.0,256.9 243.6,257.8 244.2,258.8 244.8,259.7 245.4,260.7 246.0,261.6" stroke-width="2.5"/><polyline points="48.0,301.5 52.5,301.5 57.0,301.5 61.5,301.5 66.0,301.5 70.5,301.5 75.1,301.5 79.6,301.5 84.1,301.5 88.6,301.5 93.1,301.5 93.6,301.4 94.0,301.4 94.5,301.3 94.9,301.2 95.4,301.1 95.8,301.1 96.3,301.0 96.7,300.9 97.2,300.8 97.7,300.8 98.0,300.6 98.2,300.3 98.5,300.1 98.8,299.9 99.2,299.7 99.5,299.4 99.8,299.2 100.1,299.0 100.3,298.8 100.7,298.6 101.0,298.1 101.2,297.6 101.5,297.1 101.8,296.6 102.2,296.1 102.5,295.6 102.8,295.1 103.0,294.6 103.3,294.1 103.7,293.6 104.0,293.0 104.2,292.3 104.5,291.6 104.8,290.9 105.2,290.2 105.5,289.5 105.8,288.8 106.0,288.1 106.3,287.4 106.7,286.8 107.0,285.4 107.4,284.0 107.8,282.6 108.2,281.2 108.6,279.9 109.0,278.5 109.4,277.1 109.8,275.8 110.2,274.4 110.5,273.0 111.0,270.9 111.5,268.8 112.0,266.7 112.5,264.6 112.9,262.6 113.4,260.5 113.9,258.4 114.4,256.3 114.8,254.2 115.3,252.1 116.0,250.4 116.6,248.8 117.3,247.1 117.9,245.5 118.5,243.8 119.2,242.1 119.8,240.5 120.5,238.8 121.1,237.2 121.8,235.5 122.4,234.1 123.0,232.8 123.7,231.4 124.3,230.1 125.0,228.7 125.6,227.3 126.3,226.0 126.9,224.6 127.6,223.3 128.2,221.9 129.1,220.2 130.1,218.5 131.0,216.8 131.9,215.1 132.8,213.4 133.8,211.6 134.7,209.9 135.6,208.2 136.5,206.5 137.5,204.8 138.5,203.7 139.6,202.6 140.6,201.5 141.7,200.4 142.7,199.3 143.7,198.2 144.8,197.1 145.8,196.0 146.9,194.9 147.9,193.8 149.1,193.0 150.2,192.2 151.4,191.5 152.5,190.7 153.7,189.9 154.8,189.2 155.9,188.4 157.1,187.6 158.2,186.9 159.4,186.1 160.3,185.4 161.2,184.8 162.1,184.1 163.0,183.5 163.9,182.9 164.8,182.2 165.7,181.6 166.6,180.9 167.5,180.3 168.4,179.6 168.9,179.4 169.3,179.1 169.7,178.9 170.2,178.6 170.6,178.4 171.0,178.1 171.5,177.9 171.9,177.6 172.3,177.4 172.8,177.1 173.2,176.7 173.6,176.3 174.0,176.0 174.4,175.6 174.8,175.2 175.3,174.8 175.7,174.4 176.1,174.0 176.5,173.6 176.9,173.2 177.4,173.3 177.9,173.3 178.4,173.3 178.8,173.4 179.3,173.4 179.8,173.4 180.2,173.4 180.7,173.5 181.2,173.5 181.7,173.5 182.2,173.3 182.7,173.1 183.1,172.8 183.6,172.6 184.1,172.3 184.6,172.1 185.1,171.9 185.6,171.6 186.1,171.4 186.6,171.2 187.2,171.6 187.8,172.1 188.4,172.5 189.0,173.0 189.6,173.5 190.2,173.9 190.8,174.4 191.4,174.8 192.0,175.3 192.6,175.8 193.1,176.2 193.6,176.6 194.1,177.1 194.6,177.5 195.1,178.0 195.6,178.4 196.1,178.9 196.6,179.3 197.1,179.7 197.6,180.2 198.1,181.1 198.6,182.1 199.1,183.0 199.6,184.0 200.0,184.9 200.5,185.9 201.0,186.8 201.5,187.8 202.0,188.7 202.4,189.7 203.3,191.2 204.1,192.7 204.9,194.2 205.8,195.7 206.6,197.2 207.4,198.8 208.2,200.3 209.1,201.8 209.9,203.3 210.7,204.8 211.5,206.5 212.3,208.2 213.1,209.9 213.9,211.6 214.7,213.4 215.5,215.1 216.3,216.8 217.1,218.5 217.9,220.2 218.7,221.9 219.2,223.3 219.7,224.6 220.2,226.0 220.7,227.3 221.2,228.7 221.8,230.1 222.3,231.4 222.8,232.8 223.3,234.1 223.8,235.5 224.8,236.6 225.8,237.7 226.8,238.8 227.8,239.9 228.8,241.1 229.8,242.2 230.8,243.3 231.8,244.4 232.8,245.5 233.8,246.6 234.4,247.5 235.0,248.4 235.6,249.3 236.2,250.2 236.9,251.2 237.5,252.1 238.1,253.0 238.8,253.9 239.4,254.8 240.0,255.7 240.6,256.6 241.2,257.5 241.8,258.4 242.4,259.3 243.0,260.1 243.6,261.0 244.2,261.9 244.8,262.8 245.4,263.7 246.0,264.6" stroke-width="2.5"/><polyline points="48.0,301.5 52.6,301.5 57.1,301.5 61.7,301.5 66.2,301.5 70.8,301.5 75.4,301.5 79.9,301.5 84.5,301.5 89.0,301.5 93.6,301.5 94.1,301.4 94.6,301.4 95.0,301.3 95.5,301.3 96.0,301.2 96.5,301.1 97.0,301.1 97.4,301.0 97.9,301.0 98.4,300.9 98.7,300.7 99.0,300.5 99.3,300.3 99.6,300.1 99.9,299.8 100.2,299.6 100.5,299.4 100.8,299.2 101.1,299.0 101.4,298.8 101.7,298.4 102.0,297.9 102.3,297.5 102.6,297.0 102.9,296.6 103.2,296.2 103.5,295.7 103.8,295.3 104.1,294.8 104.4,294.4 104.7,293.8 105.0,293.1 105.3,292.5 105.6,291.8 105.9,291.2 106.2,290.6 106.5,289.9 106.8,289.3 107.1,288.6 107.4,288.0 107.7,287.0 108.1,286.0 108.4,285.0 108.8,284.0 109.1,283.0 109.4,282.0 109.8,281.0 110.1,280.0 110.5,279.0 110.8,278.0 111.3,276.0 111.8,273.9 112.3,271.9 112.8,269.8 113.2,267.8 113.7,265.8 114.2,263.7 114.7,261.7 115.2,259.6 115.7,257.6 116.4,255.6 117.2,253.7 117.9,251.7 118.6,249.8 119.3,247.8 120.1,245.8 120.8,243.9 121.5,241.9 122.3,240.0 123.0,238.0 123.6,236.8 124.2,235.7 124.9,234.5 125.5,233.4 126.1,232.2 126.7,231.0 127.3,229.9 128.0,228.7 128.6,227.6 129.2,226.4 130.1,224.6 131.1,222.9 132.0,221.1 133.0,219.4 133.9,217.6 134.8,215.8 135.8,214.1 136.7,212.3 137.7,210.6 138.6,208.8 139.9,207.4 141.1,206.0 142.4,204.7 143.7,203.3 144.9,201.9 146.2,200.5 147.5,199.1 148.8,197.8 150.0,196.4 151.3,195.0 152.4,194.2 153.5,193.4 154.7,192.6 155.8,191.9 156.9,191.1 158.0,190.3 159.1,189.5 160.3,188.7 161.4,187.9 162.5,187.2 163.2,186.8 164.0,186.5 164.8,186.2 165.5,185.9 166.2,185.6 167.0,185.3 167.8,184.9 168.5,184.6 169.2,184.3 170.0,184.0 170.4,183.8 170.8,183.5 171.2,183.2 171.6,183.0 172.0,182.8 172.4,182.5 172.8,182.2 173.2,182.0 173.6,181.8 174.0,181.5 174.3,181.2 174.7,180.9 175.0,180.6 175.3,180.3 175.6,179.9 176.0,179.6 176.3,179.3 176.6,179.0 176.9,178.7 177.2,178.4 177.7,178.3 178.2,178.2 178.6,178.2 179.1,178.1 179.6,178.0 180.0,178.0 180.5,177.9 180.9,177.8 181.4,177.8 181.8,177.7 182.3,177.4 182.8,177.2 183.3,177.0 183.8,176.8 184.3,176.5 184.8,176.3 185.3,176.1 185.8,175.8 186.3,175.6 186.8,175.4 187.4,175.8 188.1,176.2 188.7,176.6 189.4,177.0 190.0,177.4 190.7,177.9 191.3,178.3 192.0,178.7 192.6,179.1 193.2,179.5 193.8,180.0 194.2,180.4 194.8,180.9 195.2,181.4 195.8,181.9 196.2,182.3 196.8,182.8 197.2,183.3 197.8,183.8 198.2,184.2 198.6,185.1 199.0,186.0 199.4,186.9 199.8,187.8 200.2,188.7 200.6,189.6 201.0,190.5 201.4,191.4 201.8,192.3 202.2,193.2 203.0,194.8 203.9,196.3 204.7,197.9 205.6,199.4 206.4,201.0 207.2,202.6 208.1,204.1 208.9,205.7 209.8,207.2 210.6,208.8 211.4,210.6 212.1,212.3 212.9,214.1 213.7,215.8 214.4,217.6 215.2,219.4 216.0,221.1 216.8,222.9 217.5,224.6 218.3,226.4 218.8,227.6 219.2,228.7 219.7,229.9 220.1,231.0 220.5,232.2 221.0,233.4 221.4,234.5 221.9,235.7 222.3,236.8 222.8,238.0 224.0,239.2 225.2,240.3 226.5,241.5 227.7,242.6 228.9,243.8 230.1,245.0 231.3,246.1 232.6,247.3 233.8,248.4 235.0,249.6 235.5,250.6 236.0,251.5 236.5,252.5 237.0,253.4 237.5,254.4 238.0,255.4 238.5,256.3 239.0,257.3 239.5,258.2 240.0,259.2 240.6,260.0 241.2,260.9 241.8,261.7 242.4,262.6 243.0,263.4 243.6,264.2 244.2,265.1 244.8,265.9 245.4,266.8 246.0,267.6" stroke-width="2.5"/><polyline points="48.0,301.5 52.6,301.5 57.2,301.5 61.8,301.5 66.4,301.5 71.0,301.5 75.6,301.5 80.2,301.5 84.8,301.5 89.4,301.5 94.0,301.5 94.5,301.5 95.0,301.4 95.5,301.3 96.0,301.3 96.5,301.2 97.0,301.2 97.5,301.1 98.0,301.1 98.5,301.1 99.0,301.0 99.3,300.8 99.6,300.6 99.9,300.4 100.2,300.2 100.5,300.0 100.8,299.8 101.1,299.6 101.4,299.4 101.7,299.2 102.0,299.0 102.3,298.6 102.6,298.2 102.9,297.8 103.2,297.4 103.5,297.0 103.8,296.6 104.1,296.2 104.4,295.8 104.7,295.4 105.0,295.0 105.3,294.4 105.6,293.8 105.9,293.2 106.2,292.6 106.5,292.0 106.8,291.4 107.1,290.8 107.4,290.2 107.7,289.6 108.0,289.0 108.3,288.3 108.6,287.6 108.9,286.9 109.2,286.2 109.5,285.5 109.8,284.8 110.1,284.1 110.4,283.4 110.7,282.7 111.0,282.0 111.5,280.0 112.0,278.0 112.5,276.0 113.0,274.0 113.5,272.0 114.0,270.0 114.5,268.0 115.0,266.0 115.5,264.0 116.0,262.0 116.8,259.8 117.6,257.6 118.4,255.4 119.2,253.2 120.0,251.0 120.8,248.8 121.6,246.6 122.4,244.4 123.2,242.2 124.0,240.0 124.6,239.0 125.2,238.0 125.8,237.0 126.4,236.0 127.0,235.0 127.6,234.0 128.2,233.0 128.8,232.0 129.4,231.0 130.0,230.0 130.9,228.2 131.9,226.4 132.8,224.6 133.8,222.8 134.8,221.0 135.7,219.2 136.7,217.4 137.6,215.6 138.5,213.8 139.5,212.0 140.9,210.4 142.4,208.8 143.8,207.2 145.3,205.6 146.8,204.0 148.2,202.4 149.7,200.8 151.1,199.2 152.5,197.6 154.0,196.0 155.1,195.2 156.2,194.4 157.3,193.6 158.4,192.8 159.5,192.0 160.6,191.2 161.7,190.4 162.8,189.6 163.9,188.8 165.0,188.0 165.6,188.0 166.2,187.9 166.9,187.8 167.5,187.8 168.1,187.8 168.8,187.7 169.4,187.7 170.0,187.6 170.6,187.6 171.2,187.5 171.6,187.2 172.0,187.0 172.4,186.8 172.8,186.5 173.1,186.2 173.5,186.0 173.9,185.8 174.2,185.5 174.6,185.2 175.0,185.0 175.2,184.8 175.5,184.5 175.8,184.2 176.0,184.0 176.2,183.8 176.5,183.5 176.8,183.2 177.0,183.0 177.2,182.8 177.5,182.5 177.9,182.3 178.4,182.2 178.8,182.0 179.3,181.9 179.8,181.8 180.2,181.6 180.7,181.4 181.1,181.3 181.6,181.2 182.0,181.0 182.5,180.8 183.0,180.6 183.5,180.3 184.0,180.1 184.4,179.9 184.9,179.7 185.4,179.4 185.9,179.2 186.4,179.0 186.9,178.8 187.6,179.1 188.3,179.5 189.0,179.9 189.6,180.2 190.3,180.6 191.0,181.0 191.7,181.4 192.4,181.8 193.1,182.1 193.8,182.5 194.2,183.0 194.8,183.5 195.2,184.0 195.8,184.5 196.2,185.0 196.8,185.5 197.2,186.0 197.8,186.5 198.2,187.0 198.8,187.5 199.1,188.3 199.4,189.2 199.7,190.1 200.1,190.9 200.4,191.8 200.7,192.6 201.0,193.4 201.4,194.3 201.7,195.2 202.0,196.0 202.9,197.6 203.7,199.2 204.5,200.8 205.4,202.4 206.2,204.0 207.1,205.6 207.9,207.2 208.8,208.8 209.7,210.4 210.5,212.0 211.3,213.8 212.0,215.6 212.8,217.4 213.5,219.2 214.2,221.0 215.0,222.8 215.8,224.6 216.5,226.4 217.2,228.2 218.0,230.0 218.4,231.0 218.8,232.0 219.2,233.0 219.6,234.0 220.0,235.0 220.4,236.0 220.8,237.0 221.2,238.0 221.6,239.0 222.0,240.0 223.4,241.2 224.8,242.4 226.2,243.6 227.6,244.8 229.0,246.0 230.4,247.2 231.8,248.4 233.2,249.6 234.6,250.8 236.0,252.0 236.4,253.0 236.8,254.0 237.2,255.0 237.6,256.0 238.0,257.0 238.4,258.0 238.8,259.0 239.2,260.0 239.6,261.0 240.0,262.0 240.6,262.8 241.2,263.6 241.8,264.4 242.4,265.2 243.0,266.0 243.6,266.8 244.2,267.6 244.8,268.4 245.4,269.2 246.0,270.0" stroke-width="2.5"/><polygon fill="#fff" stroke="none" points="48.0,301.5 52.5,301.5 57.0,301.5 61.5,301.5 66.0,301.5 70.5,301.5 75.1,301.5 79.6,301.5 84.1,301.5 88.6,301.5 93.1,301.5 93.6,301.4 94.0,301.4 94.5,301.3 94.9,301.2 95.4,301.1 95.8,301.1 96.3,301.0 96.7,300.9 97.2,300.8 97.7,300.8 98.0,300.6 98.2,300.3 98.5,300.1 98.8,299.9 99.2,299.7 99.5,299.4 99.8,299.2 100.1,299.0 100.3,298.8 100.7,298.6 101.0,298.1 101.2,297.6 101.5,297.1 101.8,296.6 102.2,296.1 102.5,295.6 102.8,295.1 103.0,294.6 103.3,294.1 103.7,293.6 104.0,293.0 104.2,292.3 104.5,291.6 104.8,290.9 105.2,290.2 105.5,289.5 105.8,288.8 106.0,288.1 106.3,287.4 106.7,286.8 107.0,285.4 107.4,284.0 107.8,282.6 108.2,281.2 108.6,279.9 109.0,278.5 109.4,277.1 109.8,275.8 110.2,274.4 110.5,273.0 111.0,270.9 111.5,268.8 112.0,266.7 112.5,264.6 112.9,262.6 113.4,260.5 113.9,258.4 114.4,256.3 114.8,254.2 115.3,252.1 116.0,250.4 116.6,248.8 117.3,247.1 117.9,245.5 118.5,243.8 119.2,242.1 119.8,240.5 120.5,238.8 121.1,237.2 121.8,235.5 122.4,234.1 123.0,232.8 123.7,231.4 124.3,230.1 125.0,228.7 125.6,227.3 126.3,226.0 126.9,224.6 127.6,223.3 128.2,221.9 129.1,220.2 130.1,218.5 131.0,216.8 131.9,215.1 132.8,213.4 133.8,211.6 134.7,209.9 135.6,208.2 136.5,206.5 137.5,204.8 138.5,203.7 139.6,202.6 140.6,201.5 141.7,200.4 142.7,199.3 143.7,198.2 144.8,197.1 145.8,196.0 146.9,194.9 147.9,193.8 149.1,193.0 150.2,192.2 151.4,191.5 152.5,190.7 153.7,189.9 154.8,189.2 155.9,188.4 157.1,187.6 158.2,186.9 159.4,186.1 160.3,185.4 161.2,184.8 162.1,184.1 163.0,183.5 163.9,182.9 164.8,182.2 165.7,181.6 166.6,180.9 167.5,180.3 168.4,179.6 168.9,179.4 169.3,179.1 169.7,178.9 170.2,178.6 170.6,178.4 171.0,178.1 171.5,177.9 171.9,177.6 172.3,177.4 172.8,177.1 173.2,176.7 173.6,176.3 174.0,176.0 174.4,175.6 174.8,175.2 175.3,174.8 175.7,174.4 176.1,174.0 176.5,173.6 176.9,173.2 177.4,173.3 177.9,173.3 178.4,173.3 178.8,173.4 179.3,173.4 179.8,173.4 180.2,173.4 180.7,173.5 181.2,173.5 181.7,173.5 182.2,173.3 182.7,173.1 183.1,172.8 183.6,172.6 184.1,172.3 184.6,172.1 185.1,171.9 185.6,171.6 186.1,171.4 186.6,171.2 187.2,171.6 187.8,172.1 188.4,172.5 189.0,173.0 189.6,173.5 190.2,173.9 190.8,174.4 191.4,174.8 192.0,175.3 192.6,175.8 193.1,176.2 193.6,176.6 194.1,177.1 194.6,177.5 195.1,178.0 195.6,178.4 196.1,178.9 196.6,179.3 197.1,179.7 197.6,180.2 198.1,181.1 198.6,182.1 199.1,183.0 199.6,184.0 200.0,184.9 200.5,185.9 201.0,186.8 201.5,187.8 202.0,188.7 202.4,189.7 203.3,191.2 204.1,192.7 204.9,194.2 205.8,195.7 206.6,197.2 207.4,198.8 208.2,200.3 209.1,201.8 209.9,203.3 210.7,204.8 211.5,206.5 212.3,208.2 213.1,209.9 213.9,211.6 214.7,213.4 215.5,215.1 216.3,216.8 217.1,218.5 217.9,220.2 218.7,221.9 219.2,223.3 219.7,224.6 220.2,226.0 220.7,227.3 221.2,228.7 221.8,230.1 222.3,231.4 222.8,232.8 223.3,234.1 223.8,235.5 224.8,236.6 225.8,237.7 226.8,238.8 227.8,239.9 228.8,241.1 229.8,242.2 230.8,243.3 231.8,244.4 232.8,245.5 233.8,246.6 234.4,247.5 235.0,248.4 235.6,249.3 236.2,250.2 236.9,251.2 237.5,252.1 238.1,253.0 238.8,253.9 239.4,254.8 240.0,255.7 240.6,256.6 241.2,257.5 241.8,258.4 242.4,259.3 243.0,260.1 243.6,261.0 244.2,261.9 244.8,262.8 245.4,263.7 246.0,264.6 246.0,267.6 245.4,266.8 244.8,265.9 244.2,265.1 243.6,264.2 243.0,263.4 242.4,262.6 241.8,261.7 241.2,260.9 240.6,260.0 240.0,259.2 239.5,258.2 239.0,257.3 238.5,256.3 238.0,255.4 237.5,254.4 237.0,253.4 236.5,252.5 236.0,251.5 235.5,250.6 235.0,249.6 233.8,248.4 232.6,247.3 231.3,246.1 230.1,245.0 228.9,243.8 227.7,242.6 226.5,241.5 225.2,240.3 224.0,239.2 222.8,238.0 222.3,236.8 221.9,235.7 221.4,234.5 221.0,233.4 220.5,232.2 220.1,231.0 219.7,229.9 219.2,228.7 218.8,227.6 218.3,226.4 217.5,224.6 216.8,222.9 216.0,221.1 215.2,219.4 214.4,217.6 213.7,215.8 212.9,214.1 212.1,212.3 211.4,210.6 210.6,208.8 209.8,207.2 208.9,205.7 208.1,204.1 207.2,202.6 206.4,201.0 205.6,199.4 204.7,197.9 203.9,196.3 203.0,194.8 202.2,193.2 201.8,192.3 201.4,191.4 201.0,190.5 200.6,189.6 200.2,188.7 199.8,187.8 199.4,186.9 199.0,186.0 198.6,185.1 198.2,184.2 197.8,183.8 197.2,183.3 196.8,182.8 196.2,182.3 195.8,181.9 195.2,181.4 194.8,180.9 194.2,180.4 193.8,180.0 193.2,179.5 192.6,179.1 192.0,178.7 191.3,178.3 190.7,177.9 190.0,177.4 189.4,177.0 188.7,176.6 188.1,176.2 187.4,175.8 186.8,175.4 186.3,175.6 185.8,175.8 185.3,176.1 184.8,176.3 184.3,176.5 183.8,176.8 183.3,177.0 182.8,177.2 182.3,177.4 181.8,177.7 181.4,177.8 180.9,177.8 180.5,177.9 180.0,178.0 179.6,178.0 179.1,178.1 178.6,178.2 178.2,178.2 177.7,178.3 177.2,178.4 176.9,178.7 176.6,179.0 176.3,179.3 176.0,179.6 175.6,179.9 175.3,180.3 175.0,180.6 174.7,180.9 174.3,181.2 174.0,181.5 173.6,181.8 173.2,182.0 172.8,182.2 172.4,182.5 172.0,182.8 171.6,183.0 171.2,183.2 170.8,183.5 170.4,183.8 170.0,184.0 169.2,184.3 168.5,184.6 167.8,184.9 167.0,185.3 166.2,185.6 165.5,185.9 164.8,186.2 164.0,186.5 163.2,186.8 162.5,187.2 161.4,187.9 160.3,188.7 159.1,189.5 158.0,190.3 156.9,191.1 155.8,191.9 154.7,192.6 153.5,193.4 152.4,194.2 151.3,195.0 150.0,196.4 148.8,197.8 147.5,199.1 146.2,200.5 144.9,201.9 143.7,203.3 142.4,204.7 141.1,206.0 139.9,207.4 138.6,208.8 137.7,210.6 136.7,212.3 135.8,214.1 134.8,215.8 133.9,217.6 133.0,219.4 132.0,221.1 131.1,222.9 130.1,224.6 129.2,226.4 128.6,227.6 128.0,228.7 127.3,229.9 126.7,231.0 126.1,232.2 125.5,233.4 124.9,234.5 124.2,235.7 123.6,236.8 123.0,238.0 122.3,240.0 121.5,241.9 120.8,243.9 120.1,245.8 119.3,247.8 118.6,249.8 117.9,251.7 117.2,253.7 116.4,255.6 115.7,257.6 115.2,259.6 114.7,261.7 114.2,263.7 113.7,265.8 113.2,267.8 112.8,269.8 112.3,271.9 111.8,273.9 111.3,276.0 110.8,278.0 110.5,279.0 110.1,280.0 109.8,281.0 109.4,282.0 109.1,283.0 108.8,284.0 108.4,285.0 108.1,286.0 107.7,287.0 107.4,288.0 107.1,288.6 106.8,289.3 106.5,289.9 106.2,290.6 105.9,291.2 105.6,291.8 105.3,292.5 105.0,293.1 104.7,293.8 104.4,294.4 104.1,294.8 103.8,295.3 103.5,295.7 103.2,296.2 102.9,296.6 102.6,297.0 102.3,297.5 102.0,297.9 101.7,298.4 101.4,298.8 101.1,299.0 100.8,299.2 100.5,299.4 100.2,299.6 99.9,299.8 99.6,300.1 99.3,300.3 99.0,300.5 98.7,300.7 98.4,300.9 97.9,301.0 97.4,301.0 97.0,301.1 96.5,301.1 96.0,301.2 95.5,301.3 95.0,301.3 94.6,301.4 94.1,301.4 93.6,301.5 89.0,301.5 84.5,301.5 79.9,301.5 75.4,301.5 70.8,301.5 66.2,301.5 61.7,301.5 57.1,301.5 52.6,301.5 48.0,301.5"/><polyline points="328.0,301.0 332.4,301.0 336.8,301.0 341.2,301.0 345.6,301.0 350.0,301.0 354.4,301.0 358.8,301.0 363.2,301.0 367.6,301.0 372.0,301.0 372.4,301.0 372.8,300.9 373.2,300.8 373.6,300.8 374.0,300.8 374.4,300.7 374.8,300.6 375.2,300.6 375.6,300.5 376.0,300.5 376.3,300.2 376.6,300.0 376.9,299.8 377.2,299.5 377.5,299.2 377.8,299.0 378.1,298.8 378.4,298.5 378.7,298.2 379.0,298.0 379.3,297.5 379.6,297.0 379.9,296.5 380.2,296.0 380.5,295.5 380.8,295.0 381.1,294.5 381.4,294.0 381.7,293.5 382.0,293.0 382.3,292.2 382.6,291.4 382.9,290.6 383.2,289.8 383.5,289.0 383.8,288.2 384.1,287.4 384.4,286.6 384.7,285.8 385.0,285.0 385.3,283.7 385.6,282.4 385.9,281.1 386.2,279.8 386.5,278.5 386.8,277.2 387.1,275.9 387.4,274.6 387.7,273.3 388.0,272.0 388.3,270.6 388.6,269.2 388.9,267.8 389.2,266.4 389.5,265.0 389.8,263.6 390.1,262.2 390.4,260.8 390.7,259.4 391.0,258.0 391.3,256.8 391.6,255.6 391.8,254.4 392.1,253.2 392.4,252.0 392.7,250.8 393.0,249.6 393.2,248.4 393.5,247.2 393.8,246.0 394.8,243.6 395.8,241.2 396.9,238.8 397.9,236.4 398.9,234.0 399.9,231.6 400.9,229.2 402.0,226.8 403.0,224.4 404.0,222.0 404.6,220.8 405.2,219.6 405.8,218.4 406.4,217.2 407.0,216.0 407.6,214.8 408.2,213.6 408.8,212.4 409.4,211.2 410.0,210.0 410.7,209.0 411.3,208.0 412.0,207.0 412.7,206.0 413.4,205.0 414.0,204.0 414.7,203.0 415.4,202.0 416.0,201.0 416.7,200.0 417.6,199.0 418.5,198.0 419.4,197.0 420.3,196.0 421.1,195.0 422.0,194.0 422.9,193.0 423.8,192.0 424.7,191.0 425.6,190.0 426.5,189.0 427.5,188.0 428.4,187.0 429.4,186.0 430.3,185.0 431.2,184.0 432.2,183.0 433.1,182.0 434.1,181.0 435.0,180.0 436.0,178.9 437.0,177.8 438.0,176.6 439.0,175.5 440.0,174.4 441.0,173.2 442.0,172.1 443.0,171.0 444.0,169.9 445.0,168.8 446.1,167.4 447.2,166.0 448.4,164.6 449.5,163.2 450.6,161.9 451.8,160.5 452.9,159.1 454.0,157.8 455.1,156.4 456.2,155.0 456.8,155.4 457.2,155.8 457.8,156.1 458.2,156.5 458.8,156.9 459.2,157.2 459.8,157.6 460.2,158.0 460.8,158.4 461.2,158.8 461.8,158.5 462.2,158.2 462.8,158.0 463.2,157.8 463.8,157.5 464.2,157.2 464.8,157.0 465.2,156.8 465.8,156.5 466.2,156.2 466.8,156.9 467.2,157.5 467.8,158.1 468.2,158.8 468.8,159.4 469.2,160.0 469.8,160.6 470.2,161.2 470.8,161.9 471.2,162.5 471.9,163.1 472.5,163.8 473.1,164.4 473.8,165.0 474.4,165.6 475.0,166.2 475.6,166.9 476.2,167.5 476.9,168.1 477.5,168.8 478.0,169.6 478.5,170.5 479.0,171.4 479.5,172.2 480.0,173.1 480.5,174.0 481.0,174.9 481.5,175.8 482.0,176.6 482.5,177.5 483.2,178.8 483.9,180.0 484.6,181.2 485.3,182.5 486.0,183.8 486.7,185.0 487.4,186.2 488.1,187.5 488.8,188.8 489.5,190.0 490.1,191.6 490.8,193.1 491.4,194.7 492.0,196.2 492.6,197.8 493.3,199.4 493.9,200.9 494.5,202.5 495.2,204.0 495.8,205.6 496.5,207.4 497.2,209.3 497.9,211.1 498.6,213.0 499.3,214.8 500.0,216.6 500.7,218.5 501.4,220.3 502.1,222.2 502.8,224.0 503.3,224.8 503.8,225.6 504.4,226.3 504.9,227.1 505.4,227.9 505.9,228.7 506.4,229.5 507.0,230.2 507.5,231.0 508.0,231.8 508.5,232.6 509.1,233.4 509.6,234.1 510.2,234.9 510.7,235.7 511.2,236.5 511.8,237.3 512.3,238.0 512.9,238.8 513.4,239.6 514.4,240.4 515.4,241.2 516.5,241.9 517.5,242.7 518.5,243.5 519.5,244.3 520.5,245.1 521.6,245.8 522.6,246.6 523.6,247.4 523.8,248.2 524.1,248.9 524.3,249.7 524.6,250.4 524.8,251.2 525.0,252.0 525.3,252.7 525.5,253.5 525.8,254.2 526.0,255.0" stroke-width="2.5"/><polyline points="328.0,301.0 332.5,301.0 336.9,301.0 341.4,301.0 345.8,301.1 350.3,301.1 354.8,301.1 359.2,301.1 363.7,301.1 368.1,301.1 372.6,301.1 373.0,301.1 373.5,301.1 373.9,301.0 374.3,301.0 374.8,301.0 375.2,300.9 375.6,300.9 376.0,300.9 376.5,300.8 376.9,300.8 377.2,300.6 377.5,300.4 377.8,300.1 378.1,299.9 378.4,299.7 378.7,299.5 379.0,299.3 379.3,299.0 379.6,298.8 379.9,298.6 380.2,298.1 380.5,297.7 380.8,297.2 381.1,296.7 381.4,296.2 381.7,295.8 382.0,295.3 382.3,294.8 382.6,294.4 382.9,293.9 383.2,293.1 383.5,292.4 383.8,291.6 384.1,290.8 384.4,290.0 384.7,289.3 385.0,288.5 385.3,287.7 385.6,287.0 385.9,286.2 386.2,285.0 386.5,283.7 386.8,282.5 387.1,281.2 387.4,280.0 387.7,278.8 388.0,277.5 388.3,276.3 388.6,275.0 388.9,273.8 389.2,272.3 389.5,270.9 389.8,269.4 390.1,268.0 390.4,266.5 390.7,265.0 391.0,263.6 391.3,262.1 391.6,260.7 391.9,259.2 392.3,257.9 392.7,256.6 393.0,255.2 393.4,253.9 393.8,252.6 394.2,251.3 394.6,250.0 395.0,248.6 395.3,247.3 395.7,246.0 396.8,243.6 397.9,241.2 398.9,238.8 400.0,236.4 401.1,234.0 402.1,231.6 403.2,229.2 404.3,226.8 405.3,224.4 406.4,222.0 407.1,220.8 407.8,219.6 408.6,218.4 409.3,217.2 410.0,216.0 410.7,214.8 411.4,213.6 412.2,212.4 412.9,211.2 413.6,210.0 414.2,209.0 414.9,208.0 415.5,207.0 416.2,206.0 416.8,205.0 417.5,204.0 418.1,203.0 418.8,202.0 419.4,201.0 420.1,200.0 421.0,199.0 421.9,198.0 422.8,197.0 423.7,196.0 424.6,195.0 425.4,194.0 426.3,193.0 427.2,192.0 428.1,191.0 429.0,190.0 429.8,189.2 430.5,188.4 431.3,187.5 432.0,186.7 432.8,185.9 433.5,185.1 434.3,184.3 435.0,183.4 435.8,182.6 436.5,181.8 437.4,180.9 438.2,179.9 439.0,179.0 439.9,178.1 440.8,177.1 441.6,176.2 442.4,175.3 443.3,174.4 444.1,173.4 445.0,172.5 446.2,171.3 447.3,170.2 448.5,169.1 449.6,167.9 450.8,166.8 452.0,165.6 453.1,164.4 454.3,163.3 455.5,162.1 456.6,161.0 457.1,161.2 457.6,161.4 458.1,161.7 458.6,161.9 459.1,162.1 459.6,162.3 460.1,162.6 460.6,162.8 461.1,163.0 461.6,163.2 462.1,163.0 462.6,162.8 463.1,162.5 463.6,162.2 464.1,162.0 464.6,161.8 465.1,161.5 465.6,161.2 466.1,161.0 466.6,160.8 467.1,161.3 467.6,161.9 468.1,162.5 468.6,163.1 469.1,163.7 469.6,164.3 470.1,164.9 470.6,165.4 471.1,166.0 471.6,166.6 472.2,167.2 472.8,167.8 473.4,168.4 474.0,169.0 474.6,169.6 475.1,170.1 475.7,170.7 476.3,171.3 476.9,171.9 477.5,172.5 478.0,173.4 478.4,174.2 478.9,175.1 479.4,176.0 479.8,176.9 480.3,177.8 480.7,178.6 481.2,179.5 481.7,180.4 482.1,181.2 482.9,182.6 483.6,183.9 484.3,185.3 485.1,186.6 485.8,188.0 486.6,189.3 487.3,190.7 488.0,192.0 488.8,193.3 489.5,194.7 490.2,196.3 490.8,198.0 491.5,199.6 492.1,201.3 492.8,202.9 493.4,204.5 494.1,206.2 494.7,207.8 495.4,209.5 496.0,211.1 496.6,212.6 497.2,214.2 497.8,215.7 498.4,217.2 499.0,218.7 499.6,220.3 500.2,221.8 500.8,223.3 501.4,224.8 502.0,226.3 502.5,227.1 503.0,227.9 503.5,228.7 504.0,229.5 504.5,230.2 505.0,231.0 505.5,231.8 506.0,232.6 506.5,233.4 507.0,234.1 507.6,234.9 508.2,235.7 508.8,236.5 509.4,237.3 510.0,238.0 510.6,238.8 511.2,239.6 511.8,240.4 512.4,241.2 512.9,241.9 513.8,242.7 514.7,243.5 515.6,244.3 516.5,245.1 517.4,245.8 518.3,246.6 519.2,247.4 520.1,248.2 521.0,249.0 521.9,249.8 522.3,250.5 522.6,251.2 523.0,252.0 523.3,252.7 523.7,253.4 524.0,254.2 524.4,254.9 524.7,255.6 525.1,256.4 525.4,257.1" stroke-width="2.5"/><polyline points="328.0,301.0 332.5,301.0 337.0,301.1 341.5,301.1 346.0,301.1 350.5,301.1 355.1,301.2 359.6,301.2 364.1,301.2 368.6,301.2 373.1,301.3 373.6,301.3 374.0,301.2 374.5,301.2 374.9,301.2 375.4,301.2 375.8,301.1 376.3,301.1 376.7,301.1 377.2,301.1 377.6,301.1 377.9,300.9 378.2,300.7 378.5,300.5 378.9,300.3 379.1,300.1 379.4,299.9 379.8,299.7 380.0,299.5 380.4,299.3 380.6,299.1 381.0,298.7 381.2,298.2 381.5,297.8 381.9,297.3 382.1,296.9 382.4,296.4 382.8,296.0 383.0,295.5 383.4,295.1 383.6,294.6 384.0,293.9 384.2,293.2 384.5,292.4 384.9,291.7 385.1,290.9 385.4,290.2 385.8,289.4 386.1,288.7 386.4,287.9 386.6,287.2 387.0,286.0 387.2,284.8 387.5,283.6 387.9,282.4 388.1,281.2 388.4,280.1 388.8,278.9 389.0,277.7 389.4,276.5 389.6,275.3 390.0,273.8 390.2,272.3 390.5,270.8 390.9,269.3 391.1,267.8 391.4,266.2 391.8,264.7 392.1,263.2 392.4,261.7 392.6,260.2 393.1,258.8 393.6,257.4 394.1,255.9 394.5,254.5 395.0,253.1 395.5,251.7 395.9,250.3 396.4,248.8 396.9,247.4 397.3,246.0 398.4,243.6 399.5,241.2 400.6,238.8 401.8,236.4 402.9,234.0 404.0,231.6 405.1,229.2 406.2,226.8 407.3,224.4 408.4,222.0 409.2,220.8 410.0,219.6 410.9,218.4 411.7,217.2 412.5,216.0 413.3,214.8 414.1,213.6 415.0,212.4 415.8,211.2 416.6,210.0 417.2,209.0 417.9,208.0 418.5,207.0 419.1,206.0 419.8,205.0 420.4,204.0 421.0,203.0 421.7,202.0 422.3,201.0 422.9,200.0 423.8,199.0 424.7,198.0 425.6,197.0 426.5,196.0 427.4,195.0 428.3,194.0 429.2,193.0 430.1,192.0 431.0,191.0 431.9,190.0 432.5,189.3 433.0,188.7 433.6,188.0 434.2,187.3 434.8,186.6 435.4,186.0 436.0,185.3 436.6,184.6 437.2,184.0 437.8,183.3 438.5,182.5 439.2,181.8 439.9,181.0 440.6,180.2 441.4,179.5 442.1,178.7 442.8,177.9 443.6,177.2 444.3,176.4 445.0,175.6 446.2,174.7 447.4,173.7 448.6,172.7 449.8,171.8 451.0,170.8 452.2,169.9 453.4,168.9 454.6,167.9 455.7,167.0 456.9,166.0 457.4,166.1 457.9,166.2 458.4,166.3 458.9,166.4 459.4,166.5 459.9,166.6 460.4,166.7 460.9,166.8 461.4,166.9 461.9,167.0 462.4,166.8 462.9,166.5 463.4,166.2 463.9,166.0 464.4,165.8 464.9,165.5 465.4,165.2 465.9,165.0 466.4,164.8 466.9,164.5 467.4,165.1 467.9,165.6 468.4,166.2 468.9,166.7 469.4,167.3 469.9,167.8 470.4,168.4 470.9,168.9 471.4,169.5 471.9,170.1 472.5,170.6 473.0,171.2 473.6,171.7 474.2,172.3 474.7,172.8 475.3,173.4 475.8,174.0 476.4,174.5 476.9,175.1 477.5,175.6 477.9,176.5 478.4,177.4 478.8,178.2 479.2,179.1 479.7,180.0 480.1,180.9 480.5,181.8 481.0,182.6 481.4,183.5 481.8,184.4 482.6,185.8 483.4,187.2 484.1,188.6 484.9,190.1 485.7,191.5 486.4,192.9 487.2,194.3 488.0,195.7 488.7,197.2 489.5,198.6 490.2,200.3 490.8,202.0 491.5,203.7 492.2,205.4 492.9,207.2 493.5,208.9 494.2,210.6 494.9,212.3 495.6,214.0 496.2,215.7 496.8,217.0 497.3,218.2 497.8,219.5 498.3,220.7 498.8,222.0 499.3,223.3 499.8,224.5 500.3,225.8 500.9,227.0 501.4,228.3 501.9,229.1 502.3,229.9 502.8,230.6 503.3,231.4 503.8,232.2 504.3,233.0 504.8,233.8 505.3,234.5 505.8,235.3 506.2,236.1 506.9,236.9 507.5,237.7 508.1,238.4 508.8,239.2 509.4,240.0 510.0,240.8 510.7,241.6 511.3,242.3 511.9,243.1 512.6,243.9 513.4,244.7 514.2,245.5 515.0,246.2 515.8,247.0 516.5,247.8 517.3,248.6 518.1,249.4 518.9,250.2 519.7,250.9 520.5,251.7 521.0,252.4 521.4,253.1 521.8,253.9 522.3,254.6 522.7,255.3 523.1,256.0 523.6,256.7 524.0,257.4 524.5,258.1 524.9,258.9" stroke-width="2.5"/><polyline points="328.0,301.0 332.6,301.0 337.1,301.1 341.7,301.1 346.2,301.2 350.8,301.2 355.4,301.2 359.9,301.3 364.5,301.3 369.0,301.4 373.6,301.4 374.1,301.4 374.6,301.4 375.0,301.4 375.5,301.4 376.0,301.4 376.5,301.3 377.0,301.3 377.4,301.3 377.9,301.3 378.4,301.3 378.7,301.1 379.0,301.0 379.3,300.8 379.6,300.6 379.9,300.4 380.2,300.3 380.5,300.1 380.8,299.9 381.1,299.8 381.4,299.6 381.7,299.2 382.0,298.8 382.3,298.3 382.6,297.9 382.9,297.5 383.2,297.1 383.5,296.7 383.8,296.2 384.1,295.8 384.4,295.4 384.7,294.7 385.0,294.0 385.3,293.2 385.6,292.5 385.9,291.8 386.2,291.1 386.5,290.4 386.8,289.6 387.1,288.9 387.4,288.2 387.7,287.1 388.0,285.9 388.3,284.8 388.6,283.6 388.9,282.5 389.2,281.4 389.5,280.2 389.8,279.1 390.1,277.9 390.4,276.8 390.7,275.2 391.0,273.7 391.3,272.1 391.6,270.6 391.9,269.0 392.2,267.4 392.5,265.9 392.8,264.3 393.1,262.8 393.4,261.2 394.0,259.7 394.5,258.2 395.1,256.6 395.6,255.1 396.2,253.6 396.7,252.1 397.3,250.6 397.8,249.0 398.4,247.5 398.9,246.0 400.1,243.6 401.2,241.2 402.4,238.8 403.5,236.4 404.7,234.0 405.8,231.6 407.0,229.2 408.1,226.8 409.3,224.4 410.4,222.0 411.3,220.8 412.2,219.6 413.2,218.4 414.1,217.2 415.0,216.0 415.9,214.8 416.8,213.6 417.8,212.4 418.7,211.2 419.6,210.0 420.2,209.0 420.8,208.0 421.4,207.0 422.1,206.0 422.7,205.0 423.3,204.0 423.9,203.0 424.5,202.0 425.1,201.0 425.7,200.0 426.6,199.0 427.5,198.0 428.4,197.0 429.3,196.0 430.2,195.0 431.1,194.0 432.0,193.0 432.9,192.0 433.8,191.0 434.7,190.0 435.1,189.5 435.6,189.0 436.0,188.4 436.4,187.9 436.9,187.4 437.3,186.9 437.7,186.4 438.1,185.8 438.6,185.3 439.0,184.8 439.6,184.2 440.2,183.6 440.8,183.0 441.4,182.4 442.0,181.8 442.6,181.2 443.2,180.6 443.8,180.0 444.4,179.4 445.0,178.8 446.2,178.0 447.4,177.2 448.7,176.4 449.9,175.6 451.1,174.9 452.3,174.1 453.6,173.3 454.8,172.5 456.0,171.8 457.2,171.0 457.8,171.0 458.2,170.9 458.8,170.9 459.2,170.9 459.8,170.9 460.2,170.8 460.8,170.8 461.2,170.8 461.8,170.8 462.2,170.8 462.8,170.5 463.2,170.2 463.8,170.0 464.2,169.8 464.8,169.5 465.2,169.2 465.8,169.0 466.2,168.8 466.8,168.5 467.2,168.2 467.8,168.8 468.2,169.3 468.8,169.8 469.2,170.3 469.8,170.9 470.2,171.4 470.8,171.9 471.2,172.5 471.8,173.0 472.2,173.5 472.8,174.0 473.3,174.6 473.8,175.1 474.4,175.6 474.9,176.1 475.4,176.7 475.9,177.2 476.5,177.7 477.0,178.2 477.5,178.8 477.9,179.6 478.3,180.5 478.7,181.4 479.1,182.2 479.5,183.1 479.9,184.0 480.3,184.9 480.7,185.8 481.1,186.6 481.5,187.5 482.3,189.0 483.1,190.5 483.9,192.0 484.7,193.5 485.5,195.0 486.3,196.5 487.1,198.0 487.9,199.5 488.7,201.0 489.5,202.5 490.2,204.3 490.9,206.0 491.6,207.8 492.3,209.6 493.0,211.4 493.7,213.2 494.4,215.0 495.1,216.8 495.7,218.5 496.4,220.3 496.9,221.3 497.3,222.3 497.7,223.3 498.2,224.3 498.6,225.3 499.0,226.3 499.4,227.3 499.9,228.3 500.3,229.2 500.7,230.2 501.2,231.0 501.7,231.8 502.1,232.6 502.6,233.4 503.1,234.1 503.6,234.9 504.0,235.7 504.5,236.5 505.0,237.3 505.4,238.0 506.1,238.8 506.8,239.6 507.5,240.4 508.1,241.2 508.8,241.9 509.5,242.7 510.2,243.5 510.8,244.3 511.5,245.1 512.2,245.8 512.9,246.6 513.6,247.4 514.3,248.2 515.0,249.0 515.7,249.8 516.4,250.5 517.0,251.3 517.7,252.1 518.4,252.9 519.1,253.7 519.6,254.4 520.2,255.1 520.7,255.8 521.2,256.4 521.8,257.1 522.3,257.8 522.8,258.5 523.3,259.2 523.9,259.9 524.4,260.6" stroke-width="2.5"/><polyline points="328.0,301.0 332.6,301.1 337.2,301.1 341.8,301.1 346.4,301.2 351.0,301.2 355.6,301.3 360.2,301.4 364.8,301.4 369.4,301.5 374.0,301.5 374.5,301.5 375.0,301.5 375.5,301.5 376.0,301.5 376.5,301.5 377.0,301.5 377.5,301.5 378.0,301.5 378.5,301.5 379.0,301.5 379.3,301.4 379.6,301.2 379.9,301.0 380.2,300.9 380.5,300.8 380.8,300.6 381.1,300.5 381.4,300.3 381.7,300.1 382.0,300.0 382.3,299.6 382.6,299.2 382.9,298.8 383.2,298.4 383.5,298.0 383.8,297.6 384.1,297.2 384.4,296.8 384.7,296.4 385.0,296.0 385.3,295.3 385.6,294.6 385.9,293.9 386.2,293.2 386.5,292.5 386.8,291.8 387.1,291.1 387.4,290.4 387.7,289.7 388.0,289.0 388.3,287.9 388.6,286.8 388.9,285.7 389.2,284.6 389.5,283.5 389.8,282.4 390.1,281.3 390.4,280.2 390.7,279.1 391.0,278.0 391.3,276.4 391.6,274.8 391.9,273.2 392.2,271.6 392.5,270.0 392.8,268.4 393.1,266.8 393.4,265.2 393.7,263.6 394.0,262.0 394.6,260.4 395.2,258.8 395.9,257.2 396.5,255.6 397.1,254.0 397.7,252.4 398.3,250.8 399.0,249.2 399.6,247.6 400.2,246.0 401.4,243.6 402.6,241.2 403.7,238.8 404.9,236.4 406.1,234.0 407.3,231.6 408.5,229.2 409.6,226.8 410.8,224.4 412.0,222.0 413.0,220.8 414.0,219.6 415.0,218.4 416.0,217.2 417.0,216.0 418.0,214.8 419.0,213.6 420.0,212.4 421.0,211.2 422.0,210.0 422.6,209.0 423.2,208.0 423.8,207.0 424.4,206.0 425.0,205.0 425.6,204.0 426.2,203.0 426.8,202.0 427.4,201.0 428.0,200.0 428.9,199.0 429.8,198.0 430.7,197.0 431.6,196.0 432.5,195.0 433.4,194.0 434.3,193.0 435.2,192.0 436.1,191.0 437.0,190.0 437.3,189.6 437.6,189.2 437.9,188.8 438.2,188.4 438.5,188.0 438.8,187.6 439.1,187.2 439.4,186.8 439.7,186.4 440.0,186.0 440.5,185.5 441.0,185.1 441.5,184.6 442.0,184.1 442.5,183.6 443.0,183.2 443.5,182.7 444.0,182.2 444.5,181.7 445.0,181.2 446.2,180.6 447.5,180.0 448.8,179.4 450.0,178.8 451.2,178.1 452.5,177.5 453.8,176.9 455.0,176.2 456.2,175.6 457.5,175.0 458.0,174.9 458.5,174.8 459.0,174.6 459.5,174.5 460.0,174.4 460.5,174.2 461.0,174.1 461.5,174.0 462.0,173.9 462.5,173.8 463.0,173.5 463.5,173.2 464.0,173.0 464.5,172.8 465.0,172.5 465.5,172.2 466.0,172.0 466.5,171.8 467.0,171.5 467.5,171.2 468.0,171.8 468.5,172.2 469.0,172.8 469.5,173.2 470.0,173.8 470.5,174.2 471.0,174.8 471.5,175.2 472.0,175.8 472.5,176.2 473.0,176.8 473.5,177.2 474.0,177.8 474.5,178.2 475.0,178.8 475.5,179.2 476.0,179.8 476.5,180.2 477.0,180.8 477.5,181.2 477.9,182.1 478.3,183.0 478.6,183.9 479.0,184.8 479.4,185.6 479.8,186.5 480.2,187.4 480.5,188.2 480.9,189.1 481.3,190.0 482.1,191.6 482.9,193.1 483.8,194.7 484.6,196.2 485.4,197.8 486.2,199.4 487.0,200.9 487.9,202.5 488.7,204.0 489.5,205.6 490.2,207.4 490.9,209.3 491.6,211.1 492.3,213.0 493.1,214.8 493.8,216.6 494.5,218.5 495.2,220.3 495.9,222.2 496.6,224.0 497.0,224.8 497.3,225.6 497.7,226.3 498.0,227.1 498.4,227.9 498.8,228.7 499.1,229.5 499.5,230.2 499.8,231.0 500.2,231.8 500.7,232.6 501.1,233.4 501.6,234.1 502.0,234.9 502.5,235.7 503.0,236.5 503.4,237.3 503.9,238.0 504.3,238.8 504.8,239.6 505.5,240.4 506.2,241.2 506.9,241.9 507.6,242.7 508.4,243.5 509.1,244.3 509.8,245.1 510.5,245.8 511.2,246.6 511.9,247.4 512.5,248.2 513.1,249.0 513.7,249.8 514.3,250.5 515.0,251.3 515.6,252.1 516.2,252.9 516.8,253.7 517.4,254.5 518.0,255.2 518.6,255.9 519.2,256.6 519.8,257.3 520.4,258.0 521.0,258.6 521.6,259.3 522.2,260.0 522.8,260.7 523.4,261.3 524.0,262.0" stroke-width="2.5"/><polygon fill="#fff" stroke="none" points="328.0,301.0 332.5,301.0 337.0,301.1 341.5,301.1 346.0,301.1 350.5,301.1 355.1,301.2 359.6,301.2 364.1,301.2 368.6,301.2 373.1,301.3 373.6,301.3 374.0,301.2 374.5,301.2 374.9,301.2 375.4,301.2 375.8,301.1 376.3,301.1 376.7,301.1 377.2,301.1 377.6,301.1 377.9,300.9 378.2,300.7 378.5,300.5 378.9,300.3 379.1,300.1 379.4,299.9 379.8,299.7 380.0,299.5 380.4,299.3 380.6,299.1 381.0,298.7 381.2,298.2 381.5,297.8 381.9,297.3 382.1,296.9 382.4,296.4 382.8,296.0 383.0,295.5 383.4,295.1 383.6,294.6 384.0,293.9 384.2,293.2 384.5,292.4 384.9,291.7 385.1,290.9 385.4,290.2 385.8,289.4 386.1,288.7 386.4,287.9 386.6,287.2 387.0,286.0 387.2,284.8 387.5,283.6 387.9,282.4 388.1,281.2 388.4,280.1 388.8,278.9 389.0,277.7 389.4,276.5 389.6,275.3 390.0,273.8 390.2,272.3 390.5,270.8 390.9,269.3 391.1,267.8 391.4,266.2 391.8,264.7 392.1,263.2 392.4,261.7 392.6,260.2 393.1,258.8 393.6,257.4 394.1,255.9 394.5,254.5 395.0,253.1 395.5,251.7 395.9,250.3 396.4,248.8 396.9,247.4 397.3,246.0 398.4,243.6 399.5,241.2 400.6,238.8 401.8,236.4 402.9,234.0 404.0,231.6 405.1,229.2 406.2,226.8 407.3,224.4 408.4,222.0 409.2,220.8 410.0,219.6 410.9,218.4 411.7,217.2 412.5,216.0 413.3,214.8 414.1,213.6 415.0,212.4 415.8,211.2 416.6,210.0 417.2,209.0 417.9,208.0 418.5,207.0 419.1,206.0 419.8,205.0 420.4,204.0 421.0,203.0 421.7,202.0 422.3,201.0 422.9,200.0 423.8,199.0 424.7,198.0 425.6,197.0 426.5,196.0 427.4,195.0 428.3,194.0 429.2,193.0 430.1,192.0 431.0,191.0 431.9,190.0 432.5,189.3 433.0,188.7 433.6,188.0 434.2,187.3 434.8,186.6 435.4,186.0 436.0,185.3 436.6,184.6 437.2,184.0 437.8,183.3 438.5,182.5 439.2,181.8 439.9,181.0 440.6,180.2 441.4,179.5 442.1,178.7 442.8,177.9 443.6,177.2 444.3,176.4 445.0,175.6 446.2,174.7 447.4,173.7 448.6,172.7 449.8,171.8 451.0,170.8 452.2,169.9 453.4,168.9 454.6,167.9 455.7,167.0 456.9,166.0 457.4,166.1 457.9,166.2 458.4,166.3 458.9,166.4 459.4,166.5 459.9,166.6 460.4,166.7 460.9,166.8 461.4,166.9 461.9,167.0 462.4,166.8 462.9,166.5 463.4,166.2 463.9,166.0 464.4,165.8 464.9,165.5 465.4,165.2 465.9,165.0 466.4,164.8 466.9,164.5 467.4,165.1 467.9,165.6 468.4,166.2 468.9,166.7 469.4,167.3 469.9,167.8 470.4,168.4 470.9,168.9 471.4,169.5 471.9,170.1 472.5,170.6 473.0,171.2 473.6,171.7 474.2,172.3 474.7,172.8 475.3,173.4 475.8,174.0 476.4,174.5 476.9,175.1 477.5,175.6 477.9,176.5 478.4,177.4 478.8,178.2 479.2,179.1 479.7,180.0 480.1,180.9 480.5,181.8 481.0,182.6 481.4,183.5 481.8,184.4 482.6,185.8 483.4,187.2 484.1,188.6 484.9,190.1 485.7,191.5 486.4,192.9 487.2,194.3 488.0,195.7 488.7,197.2 489.5,198.6 490.2,200.3 490.8,202.0 491.5,203.7 492.2,205.4 492.9,207.2 493.5,208.9 494.2,210.6 494.9,212.3 495.6,214.0 496.2,215.7 496.8,217.0 497.3,218.2 497.8,219.5 498.3,220.7 498.8,222.0 499.3,223.3 499.8,224.5 500.3,225.8 500.9,227.0 501.4,228.3 501.9,229.1 502.3,229.9 502.8,230.6 503.3,231.4 503.8,232.2 504.3,233.0 504.8,233.8 505.3,234.5 505.8,235.3 506.2,236.1 506.9,236.9 507.5,237.7 508.1,238.4 508.8,239.2 509.4,240.0 510.0,240.8 510.7,241.6 511.3,242.3 511.9,243.1 512.6,243.9 513.4,244.7 514.2,245.5 515.0,246.2 515.8,247.0 516.5,247.8 517.3,248.6 518.1,249.4 518.9,250.2 519.7,250.9 520.5,251.7 521.0,252.4 521.4,253.1 521.8,253.9 522.3,254.6 522.7,255.3 523.1,256.0 523.6,256.7 524.0,257.4 524.5,258.1 524.9,258.9 524.4,260.6 523.9,259.9 523.3,259.2 522.8,258.5 522.3,257.8 521.8,257.1 521.2,256.4 520.7,255.8 520.2,255.1 519.6,254.4 519.1,253.7 518.4,252.9 517.7,252.1 517.0,251.3 516.4,250.5 515.7,249.8 515.0,249.0 514.3,248.2 513.6,247.4 512.9,246.6 512.2,245.8 511.5,245.1 510.8,244.3 510.2,243.5 509.5,242.7 508.8,241.9 508.1,241.2 507.5,240.4 506.8,239.6 506.1,238.8 505.4,238.0 505.0,237.3 504.5,236.5 504.0,235.7 503.6,234.9 503.1,234.1 502.6,233.4 502.1,232.6 501.7,231.8 501.2,231.0 500.7,230.2 500.3,229.2 499.9,228.3 499.4,227.3 499.0,226.3 498.6,225.3 498.2,224.3 497.7,223.3 497.3,222.3 496.9,221.3 496.4,220.3 495.7,218.5 495.1,216.8 494.4,215.0 493.7,213.2 493.0,211.4 492.3,209.6 491.6,207.8 490.9,206.0 490.2,204.3 489.5,202.5 488.7,201.0 487.9,199.5 487.1,198.0 486.3,196.5 485.5,195.0 484.7,193.5 483.9,192.0 483.1,190.5 482.3,189.0 481.5,187.5 481.1,186.6 480.7,185.8 480.3,184.9 479.9,184.0 479.5,183.1 479.1,182.2 478.7,181.4 478.3,180.5 477.9,179.6 477.5,178.8 477.0,178.2 476.5,177.7 475.9,177.2 475.4,176.7 474.9,176.1 474.4,175.6 473.8,175.1 473.3,174.6 472.8,174.0 472.2,173.5 471.8,173.0 471.2,172.5 470.8,171.9 470.2,171.4 469.8,170.9 469.2,170.3 468.8,169.8 468.2,169.3 467.8,168.8 467.2,168.2 466.8,168.5 466.2,168.8 465.8,169.0 465.2,169.2 464.8,169.5 464.2,169.8 463.8,170.0 463.2,170.2 462.8,170.5 462.2,170.8 461.8,170.8 461.2,170.8 460.8,170.8 460.2,170.8 459.8,170.9 459.2,170.9 458.8,170.9 458.2,170.9 457.8,171.0 457.2,171.0 456.0,171.8 454.8,172.5 453.6,173.3 452.3,174.1 451.1,174.9 449.9,175.6 448.7,176.4 447.4,177.2 446.2,178.0 445.0,178.8 444.4,179.4 443.8,180.0 443.2,180.6 442.6,181.2 442.0,181.8 441.4,182.4 440.8,183.0 440.2,183.6 439.6,184.2 439.0,184.8 438.6,185.3 438.1,185.8 437.7,186.4 437.3,186.9 436.9,187.4 436.4,187.9 436.0,188.4 435.6,189.0 435.1,189.5 434.7,190.0 433.8,191.0 432.9,192.0 432.0,193.0 431.1,194.0 430.2,195.0 429.3,196.0 428.4,197.0 427.5,198.0 426.6,199.0 425.7,200.0 425.1,201.0 424.5,202.0 423.9,203.0 423.3,204.0 422.7,205.0 422.1,206.0 421.4,207.0 420.8,208.0 420.2,209.0 419.6,210.0 418.7,211.2 417.8,212.4 416.8,213.6 415.9,214.8 415.0,216.0 414.1,217.2 413.2,218.4 412.2,219.6 411.3,220.8 410.4,222.0 409.3,224.4 408.1,226.8 407.0,229.2 405.8,231.6 404.7,234.0 403.5,236.4 402.4,238.8 401.2,241.2 400.1,243.6 398.9,246.0 398.4,247.5 397.8,249.0 397.3,250.6 396.7,252.1 396.2,253.6 395.6,255.1 395.1,256.6 394.5,258.2 394.0,259.7 393.4,261.2 393.1,262.8 392.8,264.3 392.5,265.9 392.2,267.4 391.9,269.0 391.6,270.6 391.3,272.1 391.0,273.7 390.7,275.2 390.4,276.8 390.1,277.9 389.8,279.1 389.5,280.2 389.2,281.4 388.9,282.5 388.6,283.6 388.3,284.8 388.0,285.9 387.7,287.1 387.4,288.2 387.1,288.9 386.8,289.6 386.5,290.4 386.2,291.1 385.9,291.8 385.6,292.5 385.3,293.2 385.0,294.0 384.7,294.7 384.4,295.4 384.1,295.8 383.8,296.2 383.5,296.7 383.2,297.1 382.9,297.5 382.6,297.9 382.3,298.3 382.0,298.8 381.7,299.2 381.4,299.6 381.1,299.8 380.8,299.9 380.5,300.1 380.2,300.3 379.9,300.4 379.6,300.6 379.3,300.8 379.0,301.0 378.7,301.1 378.4,301.3 377.9,301.3 377.4,301.3 377.0,301.3 376.5,301.3 376.0,301.4 375.5,301.4 375.0,301.4 374.6,301.4 374.1,301.4 373.6,301.4 369.0,301.4 364.5,301.3 359.9,301.3 355.4,301.2 350.8,301.2 346.2,301.2 341.7,301.1 337.1,301.1 332.6,301.0 328.0,301.0"/></g><g stroke="none"><polygon points="151.7,195.0 151.7,102.5 152.5,101.6 154.2,101.6 154.8,102.5 155.0,195.0"/><polygon points="158.6,192.0 158.9,85.5 159.6,84.8 160.8,84.8 161.3,86.0 162.8,190.0"/><polygon points="245.7,262.0 245.7,198.0 246.2,163.0 247.6,162.4 249.1,163.5 249.6,197.0 251.9,197.0 254.2,172.0 257.0,163.5 259.0,166.0 260.8,186.0 261.0,170.0 262.5,169.2 263.9,170.5 264.4,205.0 264.4,254.0 264.0,262.0 261.4,262.0 261.4,272.0 257.0,272.0 257.0,256.0 252.3,256.0 252.3,270.0 247.0,270.0 247.0,262.0"/><polyline stroke="#fff" fill="none" stroke-width="3.2" points="264.6,229 266.6,250 268.4,270 269.3,279"/><polyline stroke="#fff" fill="none" stroke-width="1.9" points="268.5,277.6 277.5,277.6"/><polyline stroke="#fff" fill="none" stroke-width="1.9" points="268.5,280.6 277.5,280.6"/><polygon points="275.2,281.0 276.3,207.0 277.4,206.0 278.5,207.0 279.0,281.0"/><polyline stroke="#fff" fill="none" stroke-width="3.8" points="268.5,281.5 275,284.2 282,289 290,296 298,302 305,304.2 316,305.6"/><rect x="48" y="190" width="2.2" height="111"/><polygon points="432.0,190.0 432.6,64.6 433.4,63.9 434.8,63.9 435.4,64.6 436.2,190.0"/><polygon points="438.6,186.0 438.9,69.2 439.8,68.6 441.2,69.2 441.9,70.0 443.0,184.0"/><polygon points="525.7,264.0 526.2,151.0 527.6,149.7 529.1,151.0 530.0,171.0 530.8,155.0 532.2,153.6 533.6,155.5 534.5,164.0 535.0,158.0 537.0,157.6 539.0,160.0 541.0,158.5 543.0,161.6 544.4,164.0 544.5,200.0 547.5,206.0 548.5,243.0 547.0,258.0 543.6,250.0 537.4,250.0 532.5,262.0 528.0,264.0"/><polygon stroke="none" fill="#00aa96" points="534.2,209 535.2,209 537.6,216 537.6,250 532.6,262 533,216"/><rect stroke="none" fill="#009900" x="541.1" y="202.5" width="1.3" height="48"/><polygon stroke="none" fill="#0099dd" points="543.6,224 546.6,226 547.4,241 546.8,258 543.6,250"/><polyline stroke="#fff" fill="none" stroke-width="3.4" points="547.6,236 548.8,255 549.6,275"/><polyline stroke="#fff" fill="none" stroke-width="1.9" points="549.7,274.6 562,274.6"/><polyline stroke="#fff" fill="none" stroke-width="1.9" points="549.7,277.4 562,277.4"/><polygon points="554.8,278.0 555.8,183.0 557.2,181.8 558.8,183.0 559.8,278.0"/><polygon points="518.8,248.0 519.4,239.5 520.5,238.6 521.6,239.5 522.2,248.0"/><rect x="328" y="223" width="2.2" height="78"/><polyline stroke="#fff" fill="none" stroke-width="3.8" points="550,279.5 562,281.5 570,291 577.5,300 585,304 596,306"/></g></g><rect x="69.0" y="43.5" width="5.8" height="1.4" fill="#fff" shape-rendering="auto"/><text x="79.4" y="49.1" font-size="13.6" textLength="16.0" lengthAdjust="spacingAndGlyphs" fill="#fff">25</text><rect x="69.0" y="91.4" width="5.8" height="1.4" fill="#fff" shape-rendering="auto"/><text x="79.4" y="97.0" font-size="13.6" textLength="16.0" lengthAdjust="spacingAndGlyphs" fill="#fff">20</text><rect x="69.0" y="139.3" width="5.8" height="1.4" fill="#fff" shape-rendering="auto"/><text x="79.4" y="144.9" font-size="13.6" textLength="16.0" lengthAdjust="spacingAndGlyphs" fill="#fff">15</text><rect x="69.0" y="187.2" width="5.8" height="1.4" fill="#fff" shape-rendering="auto"/><text x="79.4" y="192.8" font-size="13.6" textLength="16.0" lengthAdjust="spacingAndGlyphs" fill="#fff">10</text><rect x="69.0" y="235.1" width="5.8" height="1.4" fill="#fff" shape-rendering="auto"/><text x="79.4" y="240.7" font-size="13.6" textLength="8.0" lengthAdjust="spacingAndGlyphs" fill="#fff">5</text><rect x="69.0" y="283.0" width="5.8" height="1.4" fill="#fff" shape-rendering="auto"/><text x="79.4" y="288.6" font-size="13.6" textLength="8.0" lengthAdjust="spacingAndGlyphs" fill="#fff">0</text><text x="317.2" y="49.1" font-size="13.6" text-anchor="end" textLength="16.0" lengthAdjust="spacingAndGlyphs" fill="#fff">25</text><text x="317.2" y="97.0" font-size="13.6" text-anchor="end" textLength="16.0" lengthAdjust="spacingAndGlyphs" fill="#fff">20</text><text x="317.2" y="144.9" font-size="13.6" text-anchor="end" textLength="16.0" lengthAdjust="spacingAndGlyphs" fill="#fff">15</text><text x="317.2" y="192.8" font-size="13.6" text-anchor="end" textLength="16.0" lengthAdjust="spacingAndGlyphs" fill="#fff">10</text><text x="317.2" y="240.7" font-size="13.6" text-anchor="end" textLength="8.0" lengthAdjust="spacingAndGlyphs" fill="#fff">5</text><text x="317.2" y="288.6" font-size="13.6" text-anchor="end" textLength="8.0" lengthAdjust="spacingAndGlyphs" fill="#fff">0</text><rect x="349.0" y="43.5" width="5.8" height="1.4" fill="#fff" shape-rendering="auto"/><text x="359.4" y="49.1" font-size="13.6" textLength="16.0" lengthAdjust="spacingAndGlyphs" fill="#fff">25</text><rect x="349.0" y="91.4" width="5.8" height="1.4" fill="#fff" shape-rendering="auto"/><text x="359.4" y="97.0" font-size="13.6" textLength="16.0" lengthAdjust="spacingAndGlyphs" fill="#fff">20</text><rect x="349.0" y="139.3" width="5.8" height="1.4" fill="#fff" shape-rendering="auto"/><text x="359.4" y="144.9" font-size="13.6" textLength="16.0" lengthAdjust="spacingAndGlyphs" fill="#fff">15</text><rect x="349.0" y="187.2" width="5.8" height="1.4" fill="#fff" shape-rendering="auto"/><text x="359.4" y="192.8" font-size="13.6" textLength="16.0" lengthAdjust="spacingAndGlyphs" fill="#fff">10</text><rect x="349.0" y="235.1" width="5.8" height="1.4" fill="#fff" shape-rendering="auto"/><text x="359.4" y="240.7" font-size="13.6" textLength="8.0" lengthAdjust="spacingAndGlyphs" fill="#fff">5</text><rect x="349.0" y="283.0" width="5.8" height="1.4" fill="#fff" shape-rendering="auto"/><text x="359.4" y="288.6" font-size="13.6" textLength="8.0" lengthAdjust="spacingAndGlyphs" fill="#fff">0</text>
</svg>
</body></html>
